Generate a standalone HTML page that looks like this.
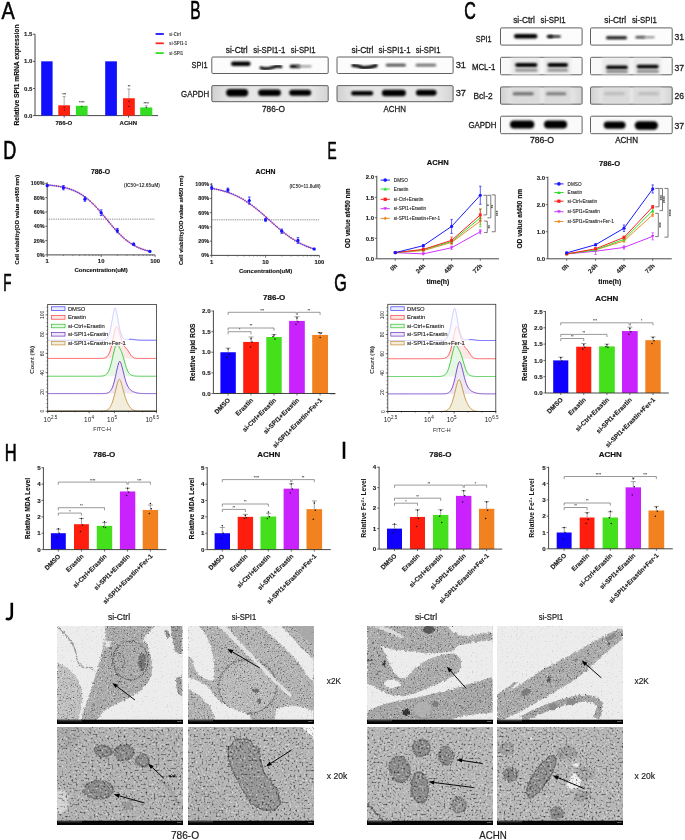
<!DOCTYPE html>
<html><head><meta charset="utf-8"><style>
html,body{margin:0;padding:0;background:#fff;width:685px;height:840px;overflow:hidden}
svg{display:block;will-change:transform;font-family:"Liberation Sans",sans-serif}
</style></head><body>
<svg width="685" height="840" viewBox="0 0 685 840">
<defs>
<filter id="blur1" x="-20%" y="-50%" width="140%" height="200%"><feGaussianBlur stdDeviation="0.8"/></filter>
<filter id="blur2" x="-20%" y="-50%" width="140%" height="200%"><feGaussianBlur stdDeviation="1.3"/></filter>
<filter id="rough" x="-5%" y="-5%" width="110%" height="110%"><feTurbulence type="fractalNoise" baseFrequency="0.09" numOctaves="2" seed="9" result="t"/><feDisplacementMap in="SourceGraphic" in2="t" scale="18" xChannelSelector="R" yChannelSelector="G"/></filter>
<filter id="soft" x="-5%" y="-5%" width="110%" height="110%"><feTurbulence type="fractalNoise" baseFrequency="0.04" numOctaves="2" seed="4" result="t"/><feDisplacementMap in="SourceGraphic" in2="t" scale="16" xChannelSelector="R" yChannelSelector="G" result="d"/><feGaussianBlur in="d" stdDeviation="3"/></filter>
<filter id="n2fd1" x="0" y="0" width="100%" height="100%" color-interpolation-filters="sRGB"><feTurbulence type="fractalNoise" baseFrequency="0.7" numOctaves="2" seed="11"/><feColorMatrix type="matrix" values="0 0 0 0 0 0 0 0 0 0 0 0 0 0 0 -2.0 0 0 0 0.86"/></filter>
<filter id="n2fl1" x="0" y="0" width="100%" height="100%" color-interpolation-filters="sRGB"><feTurbulence type="fractalNoise" baseFrequency="0.7" numOctaves="2" seed="41"/><feColorMatrix type="matrix" values="0 0 0 0 1 0 0 0 0 1 0 0 0 0 1 1.6 0 0 0 -0.86"/></filter>
<filter id="n2fd2" x="0" y="0" width="100%" height="100%" color-interpolation-filters="sRGB"><feTurbulence type="fractalNoise" baseFrequency="0.7" numOctaves="2" seed="12"/><feColorMatrix type="matrix" values="0 0 0 0 0 0 0 0 0 0 0 0 0 0 0 -2.0 0 0 0 0.86"/></filter>
<filter id="n2fl2" x="0" y="0" width="100%" height="100%" color-interpolation-filters="sRGB"><feTurbulence type="fractalNoise" baseFrequency="0.7" numOctaves="2" seed="42"/><feColorMatrix type="matrix" values="0 0 0 0 1 0 0 0 0 1 0 0 0 0 1 1.6 0 0 0 -0.86"/></filter>
<filter id="n2fd3" x="0" y="0" width="100%" height="100%" color-interpolation-filters="sRGB"><feTurbulence type="fractalNoise" baseFrequency="0.7" numOctaves="2" seed="13"/><feColorMatrix type="matrix" values="0 0 0 0 0 0 0 0 0 0 0 0 0 0 0 -2.0 0 0 0 0.86"/></filter>
<filter id="n2fl3" x="0" y="0" width="100%" height="100%" color-interpolation-filters="sRGB"><feTurbulence type="fractalNoise" baseFrequency="0.7" numOctaves="2" seed="43"/><feColorMatrix type="matrix" values="0 0 0 0 1 0 0 0 0 1 0 0 0 0 1 1.6 0 0 0 -0.86"/></filter>
<filter id="n2fd4" x="0" y="0" width="100%" height="100%" color-interpolation-filters="sRGB"><feTurbulence type="fractalNoise" baseFrequency="0.7" numOctaves="2" seed="14"/><feColorMatrix type="matrix" values="0 0 0 0 0 0 0 0 0 0 0 0 0 0 0 -2.0 0 0 0 0.86"/></filter>
<filter id="n2fl4" x="0" y="0" width="100%" height="100%" color-interpolation-filters="sRGB"><feTurbulence type="fractalNoise" baseFrequency="0.7" numOctaves="2" seed="44"/><feColorMatrix type="matrix" values="0 0 0 0 1 0 0 0 0 1 0 0 0 0 1 1.6 0 0 0 -0.86"/></filter>
<filter id="n2fd5" x="0" y="0" width="100%" height="100%" color-interpolation-filters="sRGB"><feTurbulence type="fractalNoise" baseFrequency="0.7" numOctaves="2" seed="15"/><feColorMatrix type="matrix" values="0 0 0 0 0 0 0 0 0 0 0 0 0 0 0 -2.0 0 0 0 0.86"/></filter>
<filter id="n2fl5" x="0" y="0" width="100%" height="100%" color-interpolation-filters="sRGB"><feTurbulence type="fractalNoise" baseFrequency="0.7" numOctaves="2" seed="45"/><feColorMatrix type="matrix" values="0 0 0 0 1 0 0 0 0 1 0 0 0 0 1 1.6 0 0 0 -0.86"/></filter>
<filter id="n2fd6" x="0" y="0" width="100%" height="100%" color-interpolation-filters="sRGB"><feTurbulence type="fractalNoise" baseFrequency="0.7" numOctaves="2" seed="16"/><feColorMatrix type="matrix" values="0 0 0 0 0 0 0 0 0 0 0 0 0 0 0 -2.0 0 0 0 0.86"/></filter>
<filter id="n2fl6" x="0" y="0" width="100%" height="100%" color-interpolation-filters="sRGB"><feTurbulence type="fractalNoise" baseFrequency="0.7" numOctaves="2" seed="46"/><feColorMatrix type="matrix" values="0 0 0 0 1 0 0 0 0 1 0 0 0 0 1 1.6 0 0 0 -0.86"/></filter>
<filter id="n2fd7" x="0" y="0" width="100%" height="100%" color-interpolation-filters="sRGB"><feTurbulence type="fractalNoise" baseFrequency="0.7" numOctaves="2" seed="17"/><feColorMatrix type="matrix" values="0 0 0 0 0 0 0 0 0 0 0 0 0 0 0 -2.0 0 0 0 0.86"/></filter>
<filter id="n2fl7" x="0" y="0" width="100%" height="100%" color-interpolation-filters="sRGB"><feTurbulence type="fractalNoise" baseFrequency="0.7" numOctaves="2" seed="47"/><feColorMatrix type="matrix" values="0 0 0 0 1 0 0 0 0 1 0 0 0 0 1 1.6 0 0 0 -0.86"/></filter>
<filter id="n2fd8" x="0" y="0" width="100%" height="100%" color-interpolation-filters="sRGB"><feTurbulence type="fractalNoise" baseFrequency="0.7" numOctaves="2" seed="18"/><feColorMatrix type="matrix" values="0 0 0 0 0 0 0 0 0 0 0 0 0 0 0 -2.0 0 0 0 0.86"/></filter>
<filter id="n2fl8" x="0" y="0" width="100%" height="100%" color-interpolation-filters="sRGB"><feTurbulence type="fractalNoise" baseFrequency="0.7" numOctaves="2" seed="48"/><feColorMatrix type="matrix" values="0 0 0 0 1 0 0 0 0 1 0 0 0 0 1 1.6 0 0 0 -0.86"/></filter>
<filter id="n2bd1" x="0" y="0" width="100%" height="100%" color-interpolation-filters="sRGB"><feTurbulence type="fractalNoise" baseFrequency="0.8" numOctaves="1" seed="1"/><feColorMatrix type="matrix" values="0 0 0 0 0 0 0 0 0 0 0 0 0 0 0 -0.8 0 0 0 0.3"/></filter>
<filter id="n2bl1" x="0" y="0" width="100%" height="100%" color-interpolation-filters="sRGB"><feTurbulence type="fractalNoise" baseFrequency="0.8" numOctaves="1" seed="31"/><feColorMatrix type="matrix" values="0 0 0 0 1 0 0 0 0 1 0 0 0 0 1 0.8 0 0 0 -0.45"/></filter>
<filter id="n2bd2" x="0" y="0" width="100%" height="100%" color-interpolation-filters="sRGB"><feTurbulence type="fractalNoise" baseFrequency="0.8" numOctaves="1" seed="2"/><feColorMatrix type="matrix" values="0 0 0 0 0 0 0 0 0 0 0 0 0 0 0 -0.8 0 0 0 0.3"/></filter>
<filter id="n2bl2" x="0" y="0" width="100%" height="100%" color-interpolation-filters="sRGB"><feTurbulence type="fractalNoise" baseFrequency="0.8" numOctaves="1" seed="32"/><feColorMatrix type="matrix" values="0 0 0 0 1 0 0 0 0 1 0 0 0 0 1 0.8 0 0 0 -0.45"/></filter>
<filter id="n2bd3" x="0" y="0" width="100%" height="100%" color-interpolation-filters="sRGB"><feTurbulence type="fractalNoise" baseFrequency="0.8" numOctaves="1" seed="3"/><feColorMatrix type="matrix" values="0 0 0 0 0 0 0 0 0 0 0 0 0 0 0 -0.8 0 0 0 0.3"/></filter>
<filter id="n2bl3" x="0" y="0" width="100%" height="100%" color-interpolation-filters="sRGB"><feTurbulence type="fractalNoise" baseFrequency="0.8" numOctaves="1" seed="33"/><feColorMatrix type="matrix" values="0 0 0 0 1 0 0 0 0 1 0 0 0 0 1 0.8 0 0 0 -0.45"/></filter>
<filter id="n2bd4" x="0" y="0" width="100%" height="100%" color-interpolation-filters="sRGB"><feTurbulence type="fractalNoise" baseFrequency="0.8" numOctaves="1" seed="4"/><feColorMatrix type="matrix" values="0 0 0 0 0 0 0 0 0 0 0 0 0 0 0 -0.8 0 0 0 0.3"/></filter>
<filter id="n2bl4" x="0" y="0" width="100%" height="100%" color-interpolation-filters="sRGB"><feTurbulence type="fractalNoise" baseFrequency="0.8" numOctaves="1" seed="34"/><feColorMatrix type="matrix" values="0 0 0 0 1 0 0 0 0 1 0 0 0 0 1 0.8 0 0 0 -0.45"/></filter>
<filter id="n2bd5" x="0" y="0" width="100%" height="100%" color-interpolation-filters="sRGB"><feTurbulence type="fractalNoise" baseFrequency="0.8" numOctaves="1" seed="5"/><feColorMatrix type="matrix" values="0 0 0 0 0 0 0 0 0 0 0 0 0 0 0 -0.8 0 0 0 0.3"/></filter>
<filter id="n2bl5" x="0" y="0" width="100%" height="100%" color-interpolation-filters="sRGB"><feTurbulence type="fractalNoise" baseFrequency="0.8" numOctaves="1" seed="35"/><feColorMatrix type="matrix" values="0 0 0 0 1 0 0 0 0 1 0 0 0 0 1 0.8 0 0 0 -0.45"/></filter>
<filter id="n2bd6" x="0" y="0" width="100%" height="100%" color-interpolation-filters="sRGB"><feTurbulence type="fractalNoise" baseFrequency="0.8" numOctaves="1" seed="6"/><feColorMatrix type="matrix" values="0 0 0 0 0 0 0 0 0 0 0 0 0 0 0 -0.8 0 0 0 0.3"/></filter>
<filter id="n2bl6" x="0" y="0" width="100%" height="100%" color-interpolation-filters="sRGB"><feTurbulence type="fractalNoise" baseFrequency="0.8" numOctaves="1" seed="36"/><feColorMatrix type="matrix" values="0 0 0 0 1 0 0 0 0 1 0 0 0 0 1 0.8 0 0 0 -0.45"/></filter>
<filter id="n2bd7" x="0" y="0" width="100%" height="100%" color-interpolation-filters="sRGB"><feTurbulence type="fractalNoise" baseFrequency="0.8" numOctaves="1" seed="7"/><feColorMatrix type="matrix" values="0 0 0 0 0 0 0 0 0 0 0 0 0 0 0 -0.8 0 0 0 0.3"/></filter>
<filter id="n2bl7" x="0" y="0" width="100%" height="100%" color-interpolation-filters="sRGB"><feTurbulence type="fractalNoise" baseFrequency="0.8" numOctaves="1" seed="37"/><feColorMatrix type="matrix" values="0 0 0 0 1 0 0 0 0 1 0 0 0 0 1 0.8 0 0 0 -0.45"/></filter>
<filter id="n2bd8" x="0" y="0" width="100%" height="100%" color-interpolation-filters="sRGB"><feTurbulence type="fractalNoise" baseFrequency="0.8" numOctaves="1" seed="8"/><feColorMatrix type="matrix" values="0 0 0 0 0 0 0 0 0 0 0 0 0 0 0 -0.8 0 0 0 0.3"/></filter>
<filter id="n2bl8" x="0" y="0" width="100%" height="100%" color-interpolation-filters="sRGB"><feTurbulence type="fractalNoise" baseFrequency="0.8" numOctaves="1" seed="38"/><feColorMatrix type="matrix" values="0 0 0 0 1 0 0 0 0 1 0 0 0 0 1 0.8 0 0 0 -0.45"/></filter>
<filter id="n20d1" x="0" y="0" width="100%" height="100%" color-interpolation-filters="sRGB"><feTurbulence type="fractalNoise" baseFrequency="0.5" numOctaves="3" seed="21"/><feColorMatrix type="matrix" values="0 0 0 0 0 0 0 0 0 0 0 0 0 0 0 -2.4 0 0 0 1.08"/></filter>
<filter id="n20l1" x="0" y="0" width="100%" height="100%" color-interpolation-filters="sRGB"><feTurbulence type="fractalNoise" baseFrequency="0.5" numOctaves="3" seed="51"/><feColorMatrix type="matrix" values="0 0 0 0 1 0 0 0 0 1 0 0 0 0 1 1.8 0 0 0 -0.95"/></filter>
<filter id="n20d2" x="0" y="0" width="100%" height="100%" color-interpolation-filters="sRGB"><feTurbulence type="fractalNoise" baseFrequency="0.5" numOctaves="3" seed="22"/><feColorMatrix type="matrix" values="0 0 0 0 0 0 0 0 0 0 0 0 0 0 0 -2.4 0 0 0 1.08"/></filter>
<filter id="n20l2" x="0" y="0" width="100%" height="100%" color-interpolation-filters="sRGB"><feTurbulence type="fractalNoise" baseFrequency="0.5" numOctaves="3" seed="52"/><feColorMatrix type="matrix" values="0 0 0 0 1 0 0 0 0 1 0 0 0 0 1 1.8 0 0 0 -0.95"/></filter>
<filter id="n20d3" x="0" y="0" width="100%" height="100%" color-interpolation-filters="sRGB"><feTurbulence type="fractalNoise" baseFrequency="0.5" numOctaves="3" seed="23"/><feColorMatrix type="matrix" values="0 0 0 0 0 0 0 0 0 0 0 0 0 0 0 -2.4 0 0 0 1.08"/></filter>
<filter id="n20l3" x="0" y="0" width="100%" height="100%" color-interpolation-filters="sRGB"><feTurbulence type="fractalNoise" baseFrequency="0.5" numOctaves="3" seed="53"/><feColorMatrix type="matrix" values="0 0 0 0 1 0 0 0 0 1 0 0 0 0 1 1.8 0 0 0 -0.95"/></filter>
<filter id="n20d4" x="0" y="0" width="100%" height="100%" color-interpolation-filters="sRGB"><feTurbulence type="fractalNoise" baseFrequency="0.5" numOctaves="3" seed="24"/><feColorMatrix type="matrix" values="0 0 0 0 0 0 0 0 0 0 0 0 0 0 0 -2.4 0 0 0 1.08"/></filter>
<filter id="n20l4" x="0" y="0" width="100%" height="100%" color-interpolation-filters="sRGB"><feTurbulence type="fractalNoise" baseFrequency="0.5" numOctaves="3" seed="54"/><feColorMatrix type="matrix" values="0 0 0 0 1 0 0 0 0 1 0 0 0 0 1 1.8 0 0 0 -0.95"/></filter>
<filter id="n20d5" x="0" y="0" width="100%" height="100%" color-interpolation-filters="sRGB"><feTurbulence type="fractalNoise" baseFrequency="0.5" numOctaves="3" seed="25"/><feColorMatrix type="matrix" values="0 0 0 0 0 0 0 0 0 0 0 0 0 0 0 -2.4 0 0 0 1.08"/></filter>
<filter id="n20l5" x="0" y="0" width="100%" height="100%" color-interpolation-filters="sRGB"><feTurbulence type="fractalNoise" baseFrequency="0.5" numOctaves="3" seed="55"/><feColorMatrix type="matrix" values="0 0 0 0 1 0 0 0 0 1 0 0 0 0 1 1.8 0 0 0 -0.95"/></filter>
<filter id="n20d6" x="0" y="0" width="100%" height="100%" color-interpolation-filters="sRGB"><feTurbulence type="fractalNoise" baseFrequency="0.5" numOctaves="3" seed="26"/><feColorMatrix type="matrix" values="0 0 0 0 0 0 0 0 0 0 0 0 0 0 0 -2.4 0 0 0 1.08"/></filter>
<filter id="n20l6" x="0" y="0" width="100%" height="100%" color-interpolation-filters="sRGB"><feTurbulence type="fractalNoise" baseFrequency="0.5" numOctaves="3" seed="56"/><feColorMatrix type="matrix" values="0 0 0 0 1 0 0 0 0 1 0 0 0 0 1 1.8 0 0 0 -0.95"/></filter>
<filter id="n20d7" x="0" y="0" width="100%" height="100%" color-interpolation-filters="sRGB"><feTurbulence type="fractalNoise" baseFrequency="0.5" numOctaves="3" seed="27"/><feColorMatrix type="matrix" values="0 0 0 0 0 0 0 0 0 0 0 0 0 0 0 -2.4 0 0 0 1.08"/></filter>
<filter id="n20l7" x="0" y="0" width="100%" height="100%" color-interpolation-filters="sRGB"><feTurbulence type="fractalNoise" baseFrequency="0.5" numOctaves="3" seed="57"/><feColorMatrix type="matrix" values="0 0 0 0 1 0 0 0 0 1 0 0 0 0 1 1.8 0 0 0 -0.95"/></filter>
<filter id="n20d8" x="0" y="0" width="100%" height="100%" color-interpolation-filters="sRGB"><feTurbulence type="fractalNoise" baseFrequency="0.5" numOctaves="3" seed="28"/><feColorMatrix type="matrix" values="0 0 0 0 0 0 0 0 0 0 0 0 0 0 0 -2.4 0 0 0 1.08"/></filter>
<filter id="n20l8" x="0" y="0" width="100%" height="100%" color-interpolation-filters="sRGB"><feTurbulence type="fractalNoise" baseFrequency="0.5" numOctaves="3" seed="58"/><feColorMatrix type="matrix" values="0 0 0 0 1 0 0 0 0 1 0 0 0 0 1 1.8 0 0 0 -0.95"/></filter>
</defs>
<text transform="translate(1.375 19.425) scale(0.01987 0.02464)" font-size="1000" fill="#000" stroke="#000" stroke-width="24.7" stroke-linejoin="round">A</text>
<text transform="translate(190.175 18.525) scale(0.01552 0.02493)" font-size="1000" fill="#000" stroke="#000" stroke-width="27.2" stroke-linejoin="round">B</text>
<text transform="translate(464.175 18.529) scale(0.01600 0.02458)" font-size="1000" fill="#000" stroke="#000" stroke-width="27.1" stroke-linejoin="round">C</text>
<text transform="translate(3.275 159.225) scale(0.01807 0.02507)" font-size="1000" fill="#000" stroke="#000" stroke-width="25.5" stroke-linejoin="round">D</text>
<text transform="translate(327.475 158.725) scale(0.01372 0.02406)" font-size="1000" fill="#000" stroke="#000" stroke-width="29.1" stroke-linejoin="round">E</text>
<text transform="translate(3.275 290.525) scale(0.01350 0.02376)" font-size="1000" fill="#000" stroke="#000" stroke-width="29.5" stroke-linejoin="round">F</text>
<text transform="translate(334.275 290.981) scale(0.01613 0.02436)" font-size="1000" fill="#000" stroke="#000" stroke-width="27.2" stroke-linejoin="round">G</text>
<text transform="translate(4.675 460.525) scale(0.01655 0.02435)" font-size="1000" fill="#000" stroke="#000" stroke-width="26.9" stroke-linejoin="round">H</text>
<path d="M11.8,602.8 V614.8 C11.8,618.4 10.4,619.1 8.6,619.1 C7.5,619.1 6.7,618.8 6.0,618.2" fill="none" stroke="#000" stroke-width="2.6"/>
<rect x="342.70" y="441.70" width="2.60" height="17.10" fill="#000" />
<line x1="35.00" y1="34.20" x2="35.00" y2="115.60" stroke="#333" stroke-width="0.9" />
<line x1="35.00" y1="115.60" x2="158.00" y2="115.60" stroke="#333" stroke-width="0.9" />
<line x1="33.00" y1="115.60" x2="35.00" y2="115.60" stroke="#333" stroke-width="0.8" />
<text x="32.40" y="117.70" font-size="6.0" text-anchor="end" fill="#222" font-weight="bold" stroke="#222" stroke-width="0.132" >0.0</text>
<line x1="33.00" y1="88.47" x2="35.00" y2="88.47" stroke="#333" stroke-width="0.8" />
<text x="32.40" y="90.57" font-size="6.0" text-anchor="end" fill="#222" font-weight="bold" stroke="#222" stroke-width="0.132" >0.5</text>
<line x1="33.00" y1="61.33" x2="35.00" y2="61.33" stroke="#333" stroke-width="0.8" />
<text x="32.40" y="63.43" font-size="6.0" text-anchor="end" fill="#222" font-weight="bold" stroke="#222" stroke-width="0.132" >1.0</text>
<line x1="33.00" y1="34.20" x2="35.00" y2="34.20" stroke="#333" stroke-width="0.8" />
<text x="32.40" y="36.30" font-size="6.0" text-anchor="end" fill="#222" font-weight="bold" stroke="#222" stroke-width="0.132" >1.5</text>
<rect x="41.20" y="61.33" width="11.40" height="54.27" fill="#1010ff" />
<rect x="58.30" y="105.29" width="11.70" height="10.31" fill="#ff2010" />
<line x1="64.15" y1="105.29" x2="64.15" y2="96.61" stroke="#555" stroke-width="0.5" />
<line x1="62.65" y1="96.61" x2="65.65" y2="96.61" stroke="#555" stroke-width="0.5" />
<rect x="75.90" y="105.83" width="11.70" height="9.77" fill="#33dd22" />
<rect x="105.20" y="61.33" width="11.70" height="54.27" fill="#1010ff" />
<rect x="123.00" y="98.23" width="11.80" height="17.37" fill="#ff2010" />
<line x1="128.90" y1="98.23" x2="128.90" y2="89.01" stroke="#555" stroke-width="0.5" />
<line x1="127.40" y1="89.01" x2="130.40" y2="89.01" stroke="#555" stroke-width="0.5" />
<rect x="140.20" y="107.46" width="12.10" height="8.14" fill="#33dd22" />
<line x1="146.25" y1="107.46" x2="146.25" y2="105.83" stroke="#555" stroke-width="0.5" />
<line x1="144.75" y1="105.83" x2="147.75" y2="105.83" stroke="#555" stroke-width="0.5" />
<text x="64.20" y="95.61" font-size="3.5" text-anchor="middle" fill="#333" font-weight="bold" >***</text>
<text x="81.80" y="103.55" font-size="3.5" text-anchor="middle" fill="#333" font-weight="bold" >****</text>
<text x="129.00" y="88.01" font-size="3.5" text-anchor="middle" fill="#333" font-weight="bold" >**</text>
<text x="146.20" y="104.63" font-size="3.5" text-anchor="middle" fill="#333" font-weight="bold" >****</text>
<line x1="64.20" y1="115.60" x2="64.20" y2="117.60" stroke="#333" stroke-width="0.8" />
<line x1="128.50" y1="115.60" x2="128.50" y2="117.60" stroke="#333" stroke-width="0.8" />
<circle cx="64.2" cy="107.3" r="0.6" fill="#111"/>
<circle cx="64.4" cy="110.0" r="0.6" fill="#111"/>
<circle cx="81.8" cy="106.3" r="0.6" fill="#111"/>
<circle cx="129" cy="101.2" r="0.6" fill="#111"/>
<circle cx="129" cy="106.4" r="0.6" fill="#111"/>
<circle cx="146.2" cy="107.6" r="0.6" fill="#111"/>
<text x="63.90" y="124.70" font-size="6.0" text-anchor="middle" fill="#111" font-weight="bold" stroke="#111" stroke-width="0.132" textLength="16.80" lengthAdjust="spacingAndGlyphs" >786-O</text>
<text x="128.30" y="124.70" font-size="6.0" text-anchor="middle" fill="#111" font-weight="bold" stroke="#111" stroke-width="0.132" textLength="17.40" lengthAdjust="spacingAndGlyphs" >ACHN</text>
<text x="19.00" y="75.00" font-size="6.3" text-anchor="middle" fill="#111" font-weight="bold" stroke="#111" stroke-width="0.139" textLength="101.00" lengthAdjust="spacingAndGlyphs" transform="rotate(-90 19.00 75.00)" >Relative SPI1 mRNA expression</text>
<line x1="155.60" y1="34.00" x2="163.80" y2="34.00" stroke="#1010ff" stroke-width="1.75" />
<text x="169.00" y="35.90" font-size="4.5" text-anchor="start" fill="#333" font-weight="bold" textLength="12.00" lengthAdjust="spacingAndGlyphs" >si-Ctrl</text>
<line x1="155.60" y1="43.30" x2="163.80" y2="43.30" stroke="#ff2020" stroke-width="1.75" />
<text x="169.00" y="45.20" font-size="4.5" text-anchor="start" fill="#333" font-weight="bold" textLength="18.10" lengthAdjust="spacingAndGlyphs" >si-SPI1-1</text>
<line x1="155.60" y1="53.10" x2="163.80" y2="53.10" stroke="#33dd22" stroke-width="1.75" />
<text x="169.00" y="55.00" font-size="4.5" text-anchor="start" fill="#333" font-weight="bold" textLength="14.00" lengthAdjust="spacingAndGlyphs" >si-SPI1</text>
<rect x="211.80" y="57.00" width="116.40" height="16.50" rx="1.2" fill="#fcfcfc" stroke="#5a5a5a" stroke-width="0.95"/>
<linearGradient id="vg211_85" x1="0" y1="0" x2="1" y2="0"><stop offset="0" stop-color="#d0d0d0"/><stop offset="0.15" stop-color="#e6e6e6"/><stop offset="0.85" stop-color="#e8e8e8"/><stop offset="1" stop-color="#d4d4d4"/></linearGradient>
<rect x="211.80" y="85.60" width="116.40" height="16.10" rx="1.2" fill="url(#vg211_85)" stroke="#5a5a5a" stroke-width="0.95"/>
<rect x="337.00" y="57.00" width="116.10" height="16.50" rx="1.2" fill="#fcfcfc" stroke="#5a5a5a" stroke-width="0.95"/>
<linearGradient id="vg336_85" x1="0" y1="0" x2="1" y2="0"><stop offset="0" stop-color="#d0d0d0"/><stop offset="0.15" stop-color="#e6e6e6"/><stop offset="0.85" stop-color="#e8e8e8"/><stop offset="1" stop-color="#d4d4d4"/></linearGradient>
<rect x="337.00" y="85.60" width="116.10" height="16.10" rx="1.2" fill="url(#vg336_85)" stroke="#5a5a5a" stroke-width="0.95"/>
<rect x="231.00" y="61.50" width="19.60" height="4.60" rx="2.30" fill="#000" opacity="1.0" filter="url(#blur1)"/>
<path d="M261,67.8 Q266,69.6 272,67.6 T281,66.6" fill="none" stroke="#000" stroke-width="3.0" stroke-linecap="round" filter="url(#blur1)"/>
<rect x="289.70" y="64.80" width="10.80" height="3.20" rx="1.60" fill="#000" opacity="1.0" filter="url(#blur1)"/>
<rect x="296.00" y="65.30" width="15.60" height="2.20" rx="1.10" fill="#9a9a9a" opacity="1.0" filter="url(#blur1)"/>
<rect x="226.10" y="89.00" width="22.10" height="7.40" rx="3.70" fill="#000" opacity="1.0" filter="url(#blur1)"/>
<rect x="258.20" y="89.50" width="22.70" height="6.40" rx="3.20" fill="#000" opacity="1.0" filter="url(#blur1)"/>
<rect x="289.20" y="89.70" width="22.00" height="6.00" rx="3.00" fill="#000" opacity="1.0" filter="url(#blur1)"/>
<path d="M353,65.4 Q358,65.6 362,67.4 Q368,68.4 376,65.6" fill="none" stroke="#000" stroke-width="3.4" stroke-linecap="round" filter="url(#blur1)"/>
<rect x="385.80" y="63.80" width="20.10" height="2.80" rx="1.40" fill="#4a4a4a" opacity="1.0" filter="url(#blur1)"/>
<rect x="415.60" y="63.80" width="20.60" height="2.80" rx="1.40" fill="#6a6a6a" opacity="1.0" filter="url(#blur1)"/>
<rect x="351.10" y="91.00" width="22.10" height="4.40" rx="2.20" fill="#000" opacity="1.0" filter="url(#blur1)"/>
<rect x="381.90" y="89.80" width="24.00" height="6.40" rx="3.20" fill="#000" opacity="1.0" filter="url(#blur1)"/>
<rect x="415.90" y="89.80" width="20.70" height="6.00" rx="3.00" fill="#000" opacity="1.0" filter="url(#blur1)"/>
<text x="191.60" y="68.20" font-size="8.64" text-anchor="start" fill="#1a1a1a" textLength="16.00" lengthAdjust="spacingAndGlyphs" stroke="#1a1a1a" stroke-width="0.28">SPI1</text>
<text x="181.00" y="96.50" font-size="9.05" text-anchor="start" fill="#1a1a1a" textLength="28.20" lengthAdjust="spacingAndGlyphs" stroke="#1a1a1a" stroke-width="0.28">GAPDH</text>
<text x="225.80" y="53.40" font-size="8.64" text-anchor="start" fill="#1a1a1a" textLength="21.90" lengthAdjust="spacingAndGlyphs" stroke="#1a1a1a" stroke-width="0.28">si-Ctrl</text>
<text x="253.30" y="53.40" font-size="8.64" text-anchor="start" fill="#1a1a1a" textLength="32.10" lengthAdjust="spacingAndGlyphs" stroke="#1a1a1a" stroke-width="0.28">si-SPI1-1</text>
<text x="290.80" y="53.40" font-size="8.64" text-anchor="start" fill="#1a1a1a" textLength="24.80" lengthAdjust="spacingAndGlyphs" stroke="#1a1a1a" stroke-width="0.28">si-SPI1</text>
<text x="351.50" y="53.40" font-size="8.64" text-anchor="start" fill="#1a1a1a" textLength="21.80" lengthAdjust="spacingAndGlyphs" stroke="#1a1a1a" stroke-width="0.28">si-Ctrl</text>
<text x="378.60" y="53.40" font-size="8.64" text-anchor="start" fill="#1a1a1a" textLength="32.10" lengthAdjust="spacingAndGlyphs" stroke="#1a1a1a" stroke-width="0.28">si-SPI1-1</text>
<text x="415.80" y="53.40" font-size="8.64" text-anchor="start" fill="#1a1a1a" textLength="24.60" lengthAdjust="spacingAndGlyphs" stroke="#1a1a1a" stroke-width="0.28">si-SPI1</text>
<text x="455.70" y="68.00" font-size="9.05" text-anchor="start" fill="#1a1a1a" textLength="10.30" lengthAdjust="spacingAndGlyphs" stroke="#1a1a1a" stroke-width="0.28">31</text>
<text x="455.70" y="95.60" font-size="9.05" text-anchor="start" fill="#1a1a1a" textLength="10.30" lengthAdjust="spacingAndGlyphs" stroke="#1a1a1a" stroke-width="0.28">37</text>
<text x="261.90" y="112.00" font-size="9.47" text-anchor="start" fill="#1a1a1a" textLength="23.20" lengthAdjust="spacingAndGlyphs" stroke="#1a1a1a" stroke-width="0.28">786-O</text>
<text x="383.50" y="112.00" font-size="9.47" text-anchor="start" fill="#1a1a1a" textLength="22.50" lengthAdjust="spacingAndGlyphs" stroke="#1a1a1a" stroke-width="0.28">ACHN</text>
<rect x="500.50" y="27.90" width="81.60" height="17.20" rx="1.2" fill="#fcfcfc" stroke="#5a5a5a" stroke-width="0.95"/>
<rect x="500.50" y="57.30" width="81.60" height="17.50" rx="1.2" fill="#f8f8f8" stroke="#5a5a5a" stroke-width="0.95"/>
<linearGradient id="vg500_86" x1="0" y1="0" x2="1" y2="0"><stop offset="0" stop-color="#d0d0d0"/><stop offset="0.15" stop-color="#e6e6e6"/><stop offset="0.85" stop-color="#e8e8e8"/><stop offset="1" stop-color="#d4d4d4"/></linearGradient>
<rect x="500.50" y="86.90" width="81.60" height="17.30" rx="1.2" fill="url(#vg500_86)" stroke="#5a5a5a" stroke-width="0.95"/>
<rect x="500.50" y="116.20" width="81.60" height="17.50" rx="1.2" fill="#fafafa" stroke="#5a5a5a" stroke-width="0.95"/>
<rect x="590.50" y="27.90" width="81.70" height="17.20" rx="1.2" fill="#fcfcfc" stroke="#5a5a5a" stroke-width="0.95"/>
<rect x="590.50" y="57.30" width="81.70" height="17.50" rx="1.2" fill="#f8f8f8" stroke="#5a5a5a" stroke-width="0.95"/>
<linearGradient id="vg590_86" x1="0" y1="0" x2="1" y2="0"><stop offset="0" stop-color="#d0d0d0"/><stop offset="0.15" stop-color="#e6e6e6"/><stop offset="0.85" stop-color="#e8e8e8"/><stop offset="1" stop-color="#d4d4d4"/></linearGradient>
<rect x="590.50" y="86.90" width="81.70" height="17.30" rx="1.2" fill="url(#vg590_86)" stroke="#5a5a5a" stroke-width="0.95"/>
<rect x="590.50" y="116.20" width="81.70" height="17.50" rx="1.2" fill="#fafafa" stroke="#5a5a5a" stroke-width="0.95"/>
<rect x="511.00" y="57.60" width="29.00" height="17.00" fill="#e9e9e9" filter="url(#blur2)" opacity="0.9"/>
<rect x="511.00" y="87.40" width="29.00" height="16.40" fill="#d9d9d9" filter="url(#blur2)" opacity="0.8"/>
<rect x="544.00" y="57.60" width="27.00" height="17.00" fill="#e9e9e9" filter="url(#blur2)" opacity="0.9"/>
<rect x="544.00" y="87.40" width="27.00" height="16.40" fill="#d9d9d9" filter="url(#blur2)" opacity="0.8"/>
<rect x="602.00" y="57.60" width="28.00" height="17.00" fill="#e9e9e9" filter="url(#blur2)" opacity="0.9"/>
<rect x="602.00" y="87.40" width="28.00" height="16.40" fill="#d9d9d9" filter="url(#blur2)" opacity="0.8"/>
<rect x="633.00" y="57.60" width="28.00" height="17.00" fill="#e9e9e9" filter="url(#blur2)" opacity="0.9"/>
<rect x="633.00" y="87.40" width="28.00" height="16.40" fill="#d9d9d9" filter="url(#blur2)" opacity="0.8"/>
<rect x="514.00" y="34.05" width="23.40" height="4.50" rx="2.25" fill="#000" opacity="1.0" filter="url(#blur1)"/>
<rect x="546.70" y="34.90" width="6.30" height="3.20" rx="1.60" fill="#000" opacity="1.0" filter="url(#blur1)"/>
<rect x="549.00" y="35.30" width="11.70" height="2.40" rx="1.20" fill="#222" opacity="1.0" filter="url(#blur1)"/>
<rect x="515.10" y="62.90" width="22.30" height="4.20" rx="2.10" fill="#000" opacity="1.0" filter="url(#blur1)"/>
<rect x="515.10" y="68.80" width="22.30" height="2.80" rx="1.40" fill="#8c8c8c" opacity="1.0" filter="url(#blur1)"/>
<rect x="547.40" y="63.00" width="20.60" height="4.00" rx="2.00" fill="#000" opacity="1.0" filter="url(#blur1)"/>
<rect x="547.40" y="68.80" width="20.60" height="2.80" rx="1.40" fill="#8c8c8c" opacity="1.0" filter="url(#blur1)"/>
<rect x="512.70" y="92.20" width="21.10" height="3.00" rx="1.50" fill="#6a6a6a" opacity="1.0" filter="url(#blur1)"/>
<rect x="546.00" y="92.20" width="20.30" height="3.00" rx="1.50" fill="#7a7a7a" opacity="1.0" filter="url(#blur1)"/>
<rect x="510.00" y="120.40" width="24.30" height="8.00" rx="4.00" fill="#000" opacity="1.0" filter="url(#blur1)"/>
<rect x="544.00" y="120.50" width="23.10" height="8.00" rx="4.00" fill="#000" opacity="1.0" filter="url(#blur1)"/>
<rect x="606.00" y="36.20" width="21.00" height="3.00" rx="1.50" fill="#0a0a0a" opacity="1.0" filter="url(#blur1)"/>
<rect x="635.40" y="35.90" width="9.60" height="2.60" rx="1.30" fill="#444" opacity="1.0" filter="url(#blur1)"/>
<rect x="642.00" y="36.20" width="12.70" height="2.00" rx="1.00" fill="#888" opacity="1.0" filter="url(#blur1)"/>
<rect x="606.00" y="65.60" width="21.80" height="3.60" rx="1.80" fill="#000" opacity="1.0" filter="url(#blur1)"/>
<rect x="606.00" y="70.10" width="21.80" height="3.00" rx="1.50" fill="#8a8a8a" opacity="1.0" filter="url(#blur1)"/>
<rect x="636.70" y="64.80" width="22.00" height="3.60" rx="1.80" fill="#000" opacity="1.0" filter="url(#blur1)"/>
<rect x="636.70" y="69.70" width="22.00" height="3.00" rx="1.50" fill="#8a8a8a" opacity="1.0" filter="url(#blur1)"/>
<rect x="604.00" y="92.10" width="21.00" height="3.20" rx="1.60" fill="#bdbdbd" opacity="1.0" filter="url(#blur2)"/>
<rect x="638.00" y="92.10" width="21.00" height="3.20" rx="1.60" fill="#bdbdbd" opacity="1.0" filter="url(#blur2)"/>
<rect x="603.70" y="121.40" width="21.90" height="7.40" rx="3.70" fill="#000" opacity="1.0" filter="url(#blur1)"/>
<rect x="634.70" y="121.30" width="23.30" height="8.40" rx="4.20" fill="#000" opacity="1.0" filter="url(#blur1)"/>
<text x="513.20" y="22.80" font-size="8.64" text-anchor="start" fill="#1a1a1a" textLength="21.70" lengthAdjust="spacingAndGlyphs" stroke="#1a1a1a" stroke-width="0.28">si-Ctrl</text>
<text x="540.50" y="22.80" font-size="8.64" text-anchor="start" fill="#1a1a1a" textLength="25.20" lengthAdjust="spacingAndGlyphs" stroke="#1a1a1a" stroke-width="0.28">si-SPI1</text>
<text x="604.30" y="22.80" font-size="8.64" text-anchor="start" fill="#1a1a1a" textLength="21.70" lengthAdjust="spacingAndGlyphs" stroke="#1a1a1a" stroke-width="0.28">si-Ctrl</text>
<text x="631.90" y="22.80" font-size="8.64" text-anchor="start" fill="#1a1a1a" textLength="25.00" lengthAdjust="spacingAndGlyphs" stroke="#1a1a1a" stroke-width="0.28">si-SPI1</text>
<text x="475.80" y="41.80" font-size="8.50" text-anchor="start" fill="#1a1a1a" textLength="15.80" lengthAdjust="spacingAndGlyphs" stroke="#1a1a1a" stroke-width="0.28">SPI1</text>
<text x="471.90" y="70.40" font-size="8.50" text-anchor="start" fill="#1a1a1a" textLength="23.50" lengthAdjust="spacingAndGlyphs" stroke="#1a1a1a" stroke-width="0.28">MCL-1</text>
<text x="473.50" y="99.30" font-size="8.64" text-anchor="start" fill="#1a1a1a" textLength="19.10" lengthAdjust="spacingAndGlyphs" stroke="#1a1a1a" stroke-width="0.28">Bcl-2</text>
<text x="468.40" y="127.60" font-size="8.23" text-anchor="start" fill="#1a1a1a" textLength="28.00" lengthAdjust="spacingAndGlyphs" stroke="#1a1a1a" stroke-width="0.28">GAPDH</text>
<text x="674.40" y="40.40" font-size="9.05" text-anchor="start" fill="#1a1a1a" textLength="9.60" lengthAdjust="spacingAndGlyphs" stroke="#1a1a1a" stroke-width="0.28">31</text>
<text x="674.40" y="71.40" font-size="9.05" text-anchor="start" fill="#1a1a1a" textLength="9.60" lengthAdjust="spacingAndGlyphs" stroke="#1a1a1a" stroke-width="0.28">37</text>
<text x="674.40" y="99.40" font-size="9.05" text-anchor="start" fill="#1a1a1a" textLength="9.60" lengthAdjust="spacingAndGlyphs" stroke="#1a1a1a" stroke-width="0.28">26</text>
<text x="674.40" y="129.40" font-size="9.05" text-anchor="start" fill="#1a1a1a" textLength="9.60" lengthAdjust="spacingAndGlyphs" stroke="#1a1a1a" stroke-width="0.28">37</text>
<text x="529.90" y="142.60" font-size="8.50" text-anchor="start" fill="#1a1a1a" textLength="24.10" lengthAdjust="spacingAndGlyphs" stroke="#1a1a1a" stroke-width="0.28">786-O</text>
<text x="615.20" y="142.60" font-size="8.50" text-anchor="start" fill="#1a1a1a" textLength="22.80" lengthAdjust="spacingAndGlyphs" stroke="#1a1a1a" stroke-width="0.28">ACHN</text>
<line x1="47.20" y1="182.40" x2="47.20" y2="254.90" stroke="#333" stroke-width="0.9" />
<line x1="47.20" y1="254.90" x2="155.10" y2="254.90" stroke="#333" stroke-width="0.9" />
<line x1="45.20" y1="254.90" x2="47.20" y2="254.90" stroke="#333" stroke-width="0.7" />
<text x="44.60" y="256.80" font-size="5.4" text-anchor="end" fill="#222" font-weight="bold" stroke="#222" stroke-width="0.119" >0%</text>
<line x1="45.20" y1="240.60" x2="47.20" y2="240.60" stroke="#333" stroke-width="0.7" />
<text x="44.60" y="242.50" font-size="5.4" text-anchor="end" fill="#222" font-weight="bold" stroke="#222" stroke-width="0.119" >20%</text>
<line x1="45.20" y1="226.30" x2="47.20" y2="226.30" stroke="#333" stroke-width="0.7" />
<text x="44.60" y="228.20" font-size="5.4" text-anchor="end" fill="#222" font-weight="bold" stroke="#222" stroke-width="0.119" >40%</text>
<line x1="45.20" y1="212.00" x2="47.20" y2="212.00" stroke="#333" stroke-width="0.7" />
<text x="44.60" y="213.90" font-size="5.4" text-anchor="end" fill="#222" font-weight="bold" stroke="#222" stroke-width="0.119" >60%</text>
<line x1="45.20" y1="197.70" x2="47.20" y2="197.70" stroke="#333" stroke-width="0.7" />
<text x="44.60" y="199.60" font-size="5.4" text-anchor="end" fill="#222" font-weight="bold" stroke="#222" stroke-width="0.119" >80%</text>
<line x1="45.20" y1="183.40" x2="47.20" y2="183.40" stroke="#333" stroke-width="0.7" />
<text x="44.60" y="185.30" font-size="5.4" text-anchor="end" fill="#222" font-weight="bold" stroke="#222" stroke-width="0.119" >100%</text>
<line x1="47.20" y1="254.90" x2="47.20" y2="257.10" stroke="#333" stroke-width="0.7" />
<text x="47.20" y="263.20" font-size="5.9" text-anchor="middle" fill="#222" font-weight="bold" stroke="#222" stroke-width="0.130" >1</text>
<line x1="101.15" y1="254.90" x2="101.15" y2="257.10" stroke="#333" stroke-width="0.7" />
<text x="101.15" y="263.20" font-size="5.9" text-anchor="middle" fill="#222" font-weight="bold" stroke="#222" stroke-width="0.130" >10</text>
<line x1="155.10" y1="254.90" x2="155.10" y2="257.10" stroke="#333" stroke-width="0.7" />
<text x="155.10" y="263.20" font-size="5.9" text-anchor="middle" fill="#222" font-weight="bold" stroke="#222" stroke-width="0.130" >100</text>
<line x1="63.44" y1="254.90" x2="63.44" y2="256.10" stroke="#333" stroke-width="0.5" />
<line x1="72.94" y1="254.90" x2="72.94" y2="256.10" stroke="#333" stroke-width="0.5" />
<line x1="79.68" y1="254.90" x2="79.68" y2="256.10" stroke="#333" stroke-width="0.5" />
<line x1="84.91" y1="254.90" x2="84.91" y2="256.10" stroke="#333" stroke-width="0.5" />
<line x1="89.18" y1="254.90" x2="89.18" y2="256.10" stroke="#333" stroke-width="0.5" />
<line x1="92.79" y1="254.90" x2="92.79" y2="256.10" stroke="#333" stroke-width="0.5" />
<line x1="95.92" y1="254.90" x2="95.92" y2="256.10" stroke="#333" stroke-width="0.5" />
<line x1="98.68" y1="254.90" x2="98.68" y2="256.10" stroke="#333" stroke-width="0.5" />
<line x1="117.39" y1="254.90" x2="117.39" y2="256.10" stroke="#333" stroke-width="0.5" />
<line x1="126.89" y1="254.90" x2="126.89" y2="256.10" stroke="#333" stroke-width="0.5" />
<line x1="133.63" y1="254.90" x2="133.63" y2="256.10" stroke="#333" stroke-width="0.5" />
<line x1="138.86" y1="254.90" x2="138.86" y2="256.10" stroke="#333" stroke-width="0.5" />
<line x1="143.13" y1="254.90" x2="143.13" y2="256.10" stroke="#333" stroke-width="0.5" />
<line x1="146.74" y1="254.90" x2="146.74" y2="256.10" stroke="#333" stroke-width="0.5" />
<line x1="149.87" y1="254.90" x2="149.87" y2="256.10" stroke="#333" stroke-width="0.5" />
<line x1="152.63" y1="254.90" x2="152.63" y2="256.10" stroke="#333" stroke-width="0.5" />
<text x="100.50" y="173.60" font-size="6.9" text-anchor="middle" fill="#111" font-weight="bold" stroke="#111" stroke-width="0.152" >786-O</text>
<text x="101.15" y="272.10" font-size="6.0" text-anchor="middle" fill="#111" font-weight="bold" stroke="#111" stroke-width="0.132" >Concentration(uM)</text>
<text x="19.40" y="219.65" font-size="5.8" text-anchor="middle" fill="#111" font-weight="bold" stroke="#111" stroke-width="0.128" transform="rotate(-90 19.40 219.65)" >Cell viability(OD value at450 nm)</text>
<line x1="47.20" y1="219.15" x2="155.10" y2="219.15" stroke="#555" stroke-width="0.8" stroke-dasharray="0.9 0.9"/>
<polyline points="47.20,184.96 48.23,185.05 49.25,185.14 50.28,185.24 51.31,185.35 52.33,185.46 53.36,185.58 54.39,185.71 55.41,185.84 56.44,185.99 57.47,186.15 58.49,186.32 59.52,186.49 60.55,186.68 61.57,186.89 62.60,187.10 63.63,187.33 64.65,187.58 65.68,187.84 66.71,188.12 67.73,188.42 68.76,188.73 69.79,189.07 70.81,189.42 71.84,189.80 72.87,190.20 73.89,190.62 74.92,191.07 75.95,191.54 76.97,192.04 78.00,192.57 79.03,193.12 80.05,193.71 81.08,194.32 82.11,194.97 83.14,195.65 84.16,196.36 85.19,197.10 86.22,197.88 87.24,198.69 88.27,199.53 89.30,200.41 90.32,201.32 91.35,202.26 92.38,203.24 93.40,204.25 94.43,205.28 95.46,206.35 96.48,207.44 97.51,208.57 98.54,209.71 99.56,210.88 100.59,212.06 101.62,213.27 102.64,214.48 103.67,215.71 104.70,216.95 105.72,218.19 106.75,219.44 107.78,220.69 108.80,221.93 109.83,223.17 110.86,224.39 111.88,225.61 112.91,226.81 113.94,227.99 114.96,229.15 115.99,230.29 117.02,231.41 118.04,232.50 119.07,233.56 120.10,234.59 121.12,235.60 122.15,236.57 123.18,237.50 124.20,238.41 125.23,239.28 126.26,240.12 127.28,240.92 128.31,241.69 129.34,242.43 130.36,243.14 131.39,243.81 132.42,244.45 133.44,245.06 134.47,245.64 135.50,246.19 136.52,246.71 137.55,247.20 138.58,247.67 139.60,248.12 140.63,248.53 141.66,248.93 142.68,249.30 143.71,249.65 144.74,249.98 145.76,250.29 146.79,250.59 147.82,250.86 148.84,251.12 149.87,251.36" fill="none" stroke="#ff5a5a" stroke-width="2.0" stroke-dasharray="1.1 1.1"/>
<polyline points="47.20,184.96 48.23,185.05 49.25,185.14 50.28,185.24 51.31,185.35 52.33,185.46 53.36,185.58 54.39,185.71 55.41,185.84 56.44,185.99 57.47,186.15 58.49,186.32 59.52,186.49 60.55,186.68 61.57,186.89 62.60,187.10 63.63,187.33 64.65,187.58 65.68,187.84 66.71,188.12 67.73,188.42 68.76,188.73 69.79,189.07 70.81,189.42 71.84,189.80 72.87,190.20 73.89,190.62 74.92,191.07 75.95,191.54 76.97,192.04 78.00,192.57 79.03,193.12 80.05,193.71 81.08,194.32 82.11,194.97 83.14,195.65 84.16,196.36 85.19,197.10 86.22,197.88 87.24,198.69 88.27,199.53 89.30,200.41 90.32,201.32 91.35,202.26 92.38,203.24 93.40,204.25 94.43,205.28 95.46,206.35 96.48,207.44 97.51,208.57 98.54,209.71 99.56,210.88 100.59,212.06 101.62,213.27 102.64,214.48 103.67,215.71 104.70,216.95 105.72,218.19 106.75,219.44 107.78,220.69 108.80,221.93 109.83,223.17 110.86,224.39 111.88,225.61 112.91,226.81 113.94,227.99 114.96,229.15 115.99,230.29 117.02,231.41 118.04,232.50 119.07,233.56 120.10,234.59 121.12,235.60 122.15,236.57 123.18,237.50 124.20,238.41 125.23,239.28 126.26,240.12 127.28,240.92 128.31,241.69 129.34,242.43 130.36,243.14 131.39,243.81 132.42,244.45 133.44,245.06 134.47,245.64 135.50,246.19 136.52,246.71 137.55,247.20 138.58,247.67 139.60,248.12 140.63,248.53 141.66,248.93 142.68,249.30 143.71,249.65 144.74,249.98 145.76,250.29 146.79,250.59 147.82,250.86 148.84,251.12 149.87,251.36" fill="none" stroke="#3030ff" stroke-width="0.9"/>
<line x1="47.20" y1="186.62" x2="47.20" y2="184.47" stroke="#2020ff" stroke-width="0.8" />
<line x1="45.90" y1="186.62" x2="48.50" y2="186.62" stroke="#2020ff" stroke-width="0.8" />
<line x1="45.90" y1="184.47" x2="48.50" y2="184.47" stroke="#2020ff" stroke-width="0.8" />
<circle cx="47.20" cy="185.55" r="1.6" fill="#1515ff"/>
<line x1="63.44" y1="189.84" x2="63.44" y2="185.55" stroke="#2020ff" stroke-width="0.8" />
<line x1="62.14" y1="189.84" x2="64.74" y2="189.84" stroke="#2020ff" stroke-width="0.8" />
<line x1="62.14" y1="185.55" x2="64.74" y2="185.55" stroke="#2020ff" stroke-width="0.8" />
<circle cx="63.44" cy="187.69" r="1.6" fill="#1515ff"/>
<line x1="84.91" y1="201.28" x2="84.91" y2="196.99" stroke="#2020ff" stroke-width="0.8" />
<line x1="83.61" y1="201.28" x2="86.21" y2="201.28" stroke="#2020ff" stroke-width="0.8" />
<line x1="83.61" y1="196.99" x2="86.21" y2="196.99" stroke="#2020ff" stroke-width="0.8" />
<circle cx="84.91" cy="199.13" r="1.6" fill="#1515ff"/>
<line x1="101.15" y1="215.57" x2="101.15" y2="209.86" stroke="#2020ff" stroke-width="0.8" />
<line x1="99.85" y1="215.57" x2="102.45" y2="215.57" stroke="#2020ff" stroke-width="0.8" />
<line x1="99.85" y1="209.86" x2="102.45" y2="209.86" stroke="#2020ff" stroke-width="0.8" />
<circle cx="101.15" cy="212.72" r="1.6" fill="#1515ff"/>
<line x1="117.39" y1="232.74" x2="117.39" y2="228.44" stroke="#2020ff" stroke-width="0.8" />
<line x1="116.09" y1="232.74" x2="118.69" y2="232.74" stroke="#2020ff" stroke-width="0.8" />
<line x1="116.09" y1="228.44" x2="118.69" y2="228.44" stroke="#2020ff" stroke-width="0.8" />
<circle cx="117.39" cy="230.59" r="1.6" fill="#1515ff"/>
<line x1="133.63" y1="245.25" x2="133.63" y2="243.10" stroke="#2020ff" stroke-width="0.8" />
<line x1="132.33" y1="245.25" x2="134.93" y2="245.25" stroke="#2020ff" stroke-width="0.8" />
<line x1="132.33" y1="243.10" x2="134.93" y2="243.10" stroke="#2020ff" stroke-width="0.8" />
<circle cx="133.63" cy="244.18" r="1.6" fill="#1515ff"/>
<line x1="149.87" y1="252.04" x2="149.87" y2="250.61" stroke="#2020ff" stroke-width="0.8" />
<line x1="148.57" y1="252.04" x2="151.17" y2="252.04" stroke="#2020ff" stroke-width="0.8" />
<line x1="148.57" y1="250.61" x2="151.17" y2="250.61" stroke="#2020ff" stroke-width="0.8" />
<circle cx="149.87" cy="251.33" r="1.6" fill="#1515ff"/>
<text x="124.00" y="187.20" font-size="4.6" text-anchor="start" fill="#333" font-weight="bold" textLength="36.00" lengthAdjust="spacingAndGlyphs" >(IC50=12.65uM)</text>
<line x1="211.70" y1="183.20" x2="211.70" y2="255.40" stroke="#333" stroke-width="0.9" />
<line x1="211.70" y1="255.40" x2="319.40" y2="255.40" stroke="#333" stroke-width="0.9" />
<line x1="209.70" y1="255.40" x2="211.70" y2="255.40" stroke="#333" stroke-width="0.7" />
<text x="209.10" y="257.30" font-size="5.4" text-anchor="end" fill="#222" font-weight="bold" stroke="#222" stroke-width="0.119" >0%</text>
<line x1="209.70" y1="241.16" x2="211.70" y2="241.16" stroke="#333" stroke-width="0.7" />
<text x="209.10" y="243.06" font-size="5.4" text-anchor="end" fill="#222" font-weight="bold" stroke="#222" stroke-width="0.119" >20%</text>
<line x1="209.70" y1="226.92" x2="211.70" y2="226.92" stroke="#333" stroke-width="0.7" />
<text x="209.10" y="228.82" font-size="5.4" text-anchor="end" fill="#222" font-weight="bold" stroke="#222" stroke-width="0.119" >40%</text>
<line x1="209.70" y1="212.68" x2="211.70" y2="212.68" stroke="#333" stroke-width="0.7" />
<text x="209.10" y="214.58" font-size="5.4" text-anchor="end" fill="#222" font-weight="bold" stroke="#222" stroke-width="0.119" >60%</text>
<line x1="209.70" y1="198.44" x2="211.70" y2="198.44" stroke="#333" stroke-width="0.7" />
<text x="209.10" y="200.34" font-size="5.4" text-anchor="end" fill="#222" font-weight="bold" stroke="#222" stroke-width="0.119" >80%</text>
<line x1="209.70" y1="184.20" x2="211.70" y2="184.20" stroke="#333" stroke-width="0.7" />
<text x="209.10" y="186.10" font-size="5.4" text-anchor="end" fill="#222" font-weight="bold" stroke="#222" stroke-width="0.119" >100%</text>
<line x1="211.70" y1="255.40" x2="211.70" y2="257.60" stroke="#333" stroke-width="0.7" />
<text x="211.70" y="263.70" font-size="5.9" text-anchor="middle" fill="#222" font-weight="bold" stroke="#222" stroke-width="0.130" >1</text>
<line x1="265.55" y1="255.40" x2="265.55" y2="257.60" stroke="#333" stroke-width="0.7" />
<text x="265.55" y="263.70" font-size="5.9" text-anchor="middle" fill="#222" font-weight="bold" stroke="#222" stroke-width="0.130" >10</text>
<line x1="319.40" y1="255.40" x2="319.40" y2="257.60" stroke="#333" stroke-width="0.7" />
<text x="319.40" y="263.70" font-size="5.9" text-anchor="middle" fill="#222" font-weight="bold" stroke="#222" stroke-width="0.130" >100</text>
<line x1="227.91" y1="255.40" x2="227.91" y2="256.60" stroke="#333" stroke-width="0.5" />
<line x1="237.39" y1="255.40" x2="237.39" y2="256.60" stroke="#333" stroke-width="0.5" />
<line x1="244.12" y1="255.40" x2="244.12" y2="256.60" stroke="#333" stroke-width="0.5" />
<line x1="249.34" y1="255.40" x2="249.34" y2="256.60" stroke="#333" stroke-width="0.5" />
<line x1="253.60" y1="255.40" x2="253.60" y2="256.60" stroke="#333" stroke-width="0.5" />
<line x1="257.21" y1="255.40" x2="257.21" y2="256.60" stroke="#333" stroke-width="0.5" />
<line x1="260.33" y1="255.40" x2="260.33" y2="256.60" stroke="#333" stroke-width="0.5" />
<line x1="263.09" y1="255.40" x2="263.09" y2="256.60" stroke="#333" stroke-width="0.5" />
<line x1="281.76" y1="255.40" x2="281.76" y2="256.60" stroke="#333" stroke-width="0.5" />
<line x1="291.24" y1="255.40" x2="291.24" y2="256.60" stroke="#333" stroke-width="0.5" />
<line x1="297.97" y1="255.40" x2="297.97" y2="256.60" stroke="#333" stroke-width="0.5" />
<line x1="303.19" y1="255.40" x2="303.19" y2="256.60" stroke="#333" stroke-width="0.5" />
<line x1="307.45" y1="255.40" x2="307.45" y2="256.60" stroke="#333" stroke-width="0.5" />
<line x1="311.06" y1="255.40" x2="311.06" y2="256.60" stroke="#333" stroke-width="0.5" />
<line x1="314.18" y1="255.40" x2="314.18" y2="256.60" stroke="#333" stroke-width="0.5" />
<line x1="316.94" y1="255.40" x2="316.94" y2="256.60" stroke="#333" stroke-width="0.5" />
<text x="265.50" y="174.40" font-size="6.9" text-anchor="middle" fill="#111" font-weight="bold" stroke="#111" stroke-width="0.152" >ACHN</text>
<text x="265.55" y="272.60" font-size="6.0" text-anchor="middle" fill="#111" font-weight="bold" stroke="#111" stroke-width="0.132" >Concentration(uM)</text>
<text x="183.20" y="220.30" font-size="5.8" text-anchor="middle" fill="#111" font-weight="bold" stroke="#111" stroke-width="0.128" transform="rotate(-90 183.20 220.30)" >Cell viability(OD value at450 nm)</text>
<line x1="211.70" y1="219.80" x2="319.40" y2="219.80" stroke="#555" stroke-width="0.8" stroke-dasharray="0.9 0.9"/>
<polyline points="211.70,188.38 212.72,188.56 213.75,188.74 214.77,188.94 215.80,189.14 216.82,189.36 217.85,189.58 218.87,189.81 219.90,190.06 220.92,190.32 221.95,190.58 222.97,190.87 224.00,191.16 225.02,191.46 226.05,191.78 227.07,192.12 228.10,192.46 229.12,192.83 230.15,193.20 231.17,193.59 232.20,194.00 233.22,194.43 234.25,194.87 235.27,195.33 236.30,195.80 237.32,196.30 238.35,196.81 239.37,197.34 240.39,197.88 241.42,198.45 242.44,199.03 243.47,199.64 244.49,200.26 245.52,200.90 246.54,201.56 247.57,202.24 248.59,202.93 249.62,203.65 250.64,204.38 251.67,205.13 252.69,205.90 253.72,206.68 254.74,207.48 255.77,208.29 256.79,209.12 257.82,209.96 258.84,210.82 259.87,211.69 260.89,212.56 261.92,213.45 262.94,214.35 263.97,215.26 264.99,216.17 266.02,217.08 267.04,218.01 268.06,218.93 269.09,219.86 270.11,220.78 271.14,221.71 272.16,222.63 273.19,223.55 274.21,224.47 275.24,225.38 276.26,226.28 277.29,227.17 278.31,228.06 279.34,228.93 280.36,229.80 281.39,230.65 282.41,231.49 283.44,232.31 284.46,233.12 285.49,233.91 286.51,234.69 287.54,235.45 288.56,236.19 289.59,236.92 290.61,237.63 291.64,238.32 292.66,238.99 293.69,239.64 294.71,240.28 295.73,240.89 296.76,241.49 297.78,242.07 298.81,242.62 299.83,243.17 300.86,243.69 301.88,244.19 302.91,244.68 303.93,245.15 304.96,245.60 305.98,246.04 307.01,246.45 308.03,246.86 309.06,247.24 310.08,247.62 311.11,247.97 312.13,248.32 313.16,248.64 314.18,248.96" fill="none" stroke="#ff5a5a" stroke-width="2.0" stroke-dasharray="1.1 1.1"/>
<polyline points="211.70,188.38 212.72,188.56 213.75,188.74 214.77,188.94 215.80,189.14 216.82,189.36 217.85,189.58 218.87,189.81 219.90,190.06 220.92,190.32 221.95,190.58 222.97,190.87 224.00,191.16 225.02,191.46 226.05,191.78 227.07,192.12 228.10,192.46 229.12,192.83 230.15,193.20 231.17,193.59 232.20,194.00 233.22,194.43 234.25,194.87 235.27,195.33 236.30,195.80 237.32,196.30 238.35,196.81 239.37,197.34 240.39,197.88 241.42,198.45 242.44,199.03 243.47,199.64 244.49,200.26 245.52,200.90 246.54,201.56 247.57,202.24 248.59,202.93 249.62,203.65 250.64,204.38 251.67,205.13 252.69,205.90 253.72,206.68 254.74,207.48 255.77,208.29 256.79,209.12 257.82,209.96 258.84,210.82 259.87,211.69 260.89,212.56 261.92,213.45 262.94,214.35 263.97,215.26 264.99,216.17 266.02,217.08 267.04,218.01 268.06,218.93 269.09,219.86 270.11,220.78 271.14,221.71 272.16,222.63 273.19,223.55 274.21,224.47 275.24,225.38 276.26,226.28 277.29,227.17 278.31,228.06 279.34,228.93 280.36,229.80 281.39,230.65 282.41,231.49 283.44,232.31 284.46,233.12 285.49,233.91 286.51,234.69 287.54,235.45 288.56,236.19 289.59,236.92 290.61,237.63 291.64,238.32 292.66,238.99 293.69,239.64 294.71,240.28 295.73,240.89 296.76,241.49 297.78,242.07 298.81,242.62 299.83,243.17 300.86,243.69 301.88,244.19 302.91,244.68 303.93,245.15 304.96,245.60 305.98,246.04 307.01,246.45 308.03,246.86 309.06,247.24 310.08,247.62 311.11,247.97 312.13,248.32 313.16,248.64 314.18,248.96" fill="none" stroke="#3030ff" stroke-width="0.9"/>
<line x1="211.70" y1="189.54" x2="211.70" y2="185.98" stroke="#2020ff" stroke-width="0.8" />
<line x1="210.40" y1="189.54" x2="213.00" y2="189.54" stroke="#2020ff" stroke-width="0.8" />
<line x1="210.40" y1="185.98" x2="213.00" y2="185.98" stroke="#2020ff" stroke-width="0.8" />
<circle cx="211.70" cy="187.76" r="1.6" fill="#1515ff"/>
<line x1="227.91" y1="191.68" x2="227.91" y2="188.12" stroke="#2020ff" stroke-width="0.8" />
<line x1="226.61" y1="191.68" x2="229.21" y2="191.68" stroke="#2020ff" stroke-width="0.8" />
<line x1="226.61" y1="188.12" x2="229.21" y2="188.12" stroke="#2020ff" stroke-width="0.8" />
<circle cx="227.91" cy="189.90" r="1.6" fill="#1515ff"/>
<line x1="249.34" y1="204.14" x2="249.34" y2="197.02" stroke="#2020ff" stroke-width="0.8" />
<line x1="248.04" y1="204.14" x2="250.64" y2="204.14" stroke="#2020ff" stroke-width="0.8" />
<line x1="248.04" y1="197.02" x2="250.64" y2="197.02" stroke="#2020ff" stroke-width="0.8" />
<circle cx="249.34" cy="200.58" r="1.6" fill="#1515ff"/>
<line x1="265.55" y1="221.22" x2="265.55" y2="218.38" stroke="#2020ff" stroke-width="0.8" />
<line x1="264.25" y1="221.22" x2="266.85" y2="221.22" stroke="#2020ff" stroke-width="0.8" />
<line x1="264.25" y1="218.38" x2="266.85" y2="218.38" stroke="#2020ff" stroke-width="0.8" />
<circle cx="265.55" cy="219.80" r="1.6" fill="#1515ff"/>
<line x1="281.76" y1="233.33" x2="281.76" y2="229.06" stroke="#2020ff" stroke-width="0.8" />
<line x1="280.46" y1="233.33" x2="283.06" y2="233.33" stroke="#2020ff" stroke-width="0.8" />
<line x1="280.46" y1="229.06" x2="283.06" y2="229.06" stroke="#2020ff" stroke-width="0.8" />
<circle cx="281.76" cy="231.19" r="1.6" fill="#1515ff"/>
<line x1="297.97" y1="243.30" x2="297.97" y2="237.60" stroke="#2020ff" stroke-width="0.8" />
<line x1="296.67" y1="243.30" x2="299.27" y2="243.30" stroke="#2020ff" stroke-width="0.8" />
<line x1="296.67" y1="237.60" x2="299.27" y2="237.60" stroke="#2020ff" stroke-width="0.8" />
<circle cx="297.97" cy="240.45" r="1.6" fill="#1515ff"/>
<line x1="314.18" y1="249.70" x2="314.18" y2="248.28" stroke="#2020ff" stroke-width="0.8" />
<line x1="312.88" y1="249.70" x2="315.48" y2="249.70" stroke="#2020ff" stroke-width="0.8" />
<line x1="312.88" y1="248.28" x2="315.48" y2="248.28" stroke="#2020ff" stroke-width="0.8" />
<circle cx="314.18" cy="248.99" r="1.6" fill="#1515ff"/>
<text x="289.50" y="188.00" font-size="4.6" text-anchor="start" fill="#333" font-weight="bold" textLength="31.00" lengthAdjust="spacingAndGlyphs" >(IC50=11.8uM)</text>
<line x1="376.80" y1="175.80" x2="376.80" y2="258.80" stroke="#333" stroke-width="0.9" />
<line x1="376.80" y1="258.80" x2="499.00" y2="258.80" stroke="#333" stroke-width="0.9" />
<line x1="374.80" y1="258.80" x2="376.80" y2="258.80" stroke="#333" stroke-width="0.7" />
<text x="374.00" y="261.00" font-size="6.0" text-anchor="end" fill="#222" font-weight="bold" stroke="#222" stroke-width="0.132" >0.0</text>
<line x1="374.80" y1="238.30" x2="376.80" y2="238.30" stroke="#333" stroke-width="0.7" />
<text x="374.00" y="240.50" font-size="6.0" text-anchor="end" fill="#222" font-weight="bold" stroke="#222" stroke-width="0.132" >0.5</text>
<line x1="374.80" y1="217.80" x2="376.80" y2="217.80" stroke="#333" stroke-width="0.7" />
<text x="374.00" y="220.00" font-size="6.0" text-anchor="end" fill="#222" font-weight="bold" stroke="#222" stroke-width="0.132" >1.0</text>
<line x1="374.80" y1="197.30" x2="376.80" y2="197.30" stroke="#333" stroke-width="0.7" />
<text x="374.00" y="199.50" font-size="6.0" text-anchor="end" fill="#222" font-weight="bold" stroke="#222" stroke-width="0.132" >1.5</text>
<line x1="374.80" y1="176.80" x2="376.80" y2="176.80" stroke="#333" stroke-width="0.7" />
<text x="374.00" y="179.00" font-size="6.0" text-anchor="end" fill="#222" font-weight="bold" stroke="#222" stroke-width="0.132" >2.0</text>
<line x1="395.20" y1="258.80" x2="395.20" y2="260.80" stroke="#333" stroke-width="0.7" />
<text x="397.60" y="266.20" font-size="6.2" text-anchor="end" fill="#222" font-weight="bold" stroke="#222" stroke-width="0.136" transform="rotate(-45 397.60 266.20)" >0h</text>
<line x1="423.30" y1="258.80" x2="423.30" y2="260.80" stroke="#333" stroke-width="0.7" />
<text x="425.70" y="266.20" font-size="6.2" text-anchor="end" fill="#222" font-weight="bold" stroke="#222" stroke-width="0.136" transform="rotate(-45 425.70 266.20)" >24h</text>
<line x1="451.60" y1="258.80" x2="451.60" y2="260.80" stroke="#333" stroke-width="0.7" />
<text x="454.00" y="266.20" font-size="6.2" text-anchor="end" fill="#222" font-weight="bold" stroke="#222" stroke-width="0.136" transform="rotate(-45 454.00 266.20)" >48h</text>
<line x1="480.30" y1="258.80" x2="480.30" y2="260.80" stroke="#333" stroke-width="0.7" />
<text x="482.70" y="266.20" font-size="6.2" text-anchor="end" fill="#222" font-weight="bold" stroke="#222" stroke-width="0.136" transform="rotate(-45 482.70 266.20)" >72h</text>
<text x="437.70" y="165.30" font-size="7.6" text-anchor="middle" fill="#111" font-weight="bold" stroke="#111" stroke-width="0.167" >ACHN</text>
<text x="437.90" y="283.60" font-size="6.9" text-anchor="middle" fill="#111" font-weight="bold" stroke="#111" stroke-width="0.152" >time(h)</text>
<text x="349.70" y="218.30" font-size="6.7" text-anchor="middle" fill="#111" font-weight="bold" stroke="#111" stroke-width="0.147" transform="rotate(-90 349.70 218.30)" >OD value at450 nm</text>
<polyline points="395.20,252.65 423.30,250.60 451.60,242.40 480.30,221.08" fill="none" stroke="#f08a2a" stroke-width="1.0"/>
<line x1="395.20" y1="253.47" x2="395.20" y2="251.83" stroke="#f08a2a" stroke-width="0.7" />
<line x1="394.00" y1="253.47" x2="396.40" y2="253.47" stroke="#f08a2a" stroke-width="0.7" />
<line x1="394.00" y1="251.83" x2="396.40" y2="251.83" stroke="#f08a2a" stroke-width="0.7" />
<polygon points="395.20,251.05 393.60,252.65 395.20,254.25 396.80,252.65" fill="#f08a2a"/>
<line x1="423.30" y1="251.83" x2="423.30" y2="249.37" stroke="#f08a2a" stroke-width="0.7" />
<line x1="422.10" y1="251.83" x2="424.50" y2="251.83" stroke="#f08a2a" stroke-width="0.7" />
<line x1="422.10" y1="249.37" x2="424.50" y2="249.37" stroke="#f08a2a" stroke-width="0.7" />
<polygon points="423.30,249.00 421.70,250.60 423.30,252.20 424.90,250.60" fill="#f08a2a"/>
<line x1="451.60" y1="244.45" x2="451.60" y2="240.35" stroke="#f08a2a" stroke-width="0.7" />
<line x1="450.40" y1="244.45" x2="452.80" y2="244.45" stroke="#f08a2a" stroke-width="0.7" />
<line x1="450.40" y1="240.35" x2="452.80" y2="240.35" stroke="#f08a2a" stroke-width="0.7" />
<polygon points="451.60,240.80 450.00,242.40 451.60,244.00 453.20,242.40" fill="#f08a2a"/>
<line x1="480.30" y1="224.36" x2="480.30" y2="217.80" stroke="#f08a2a" stroke-width="0.7" />
<line x1="479.10" y1="224.36" x2="481.50" y2="224.36" stroke="#f08a2a" stroke-width="0.7" />
<line x1="479.10" y1="217.80" x2="481.50" y2="217.80" stroke="#f08a2a" stroke-width="0.7" />
<polygon points="480.30,219.48 478.70,221.08 480.30,222.68 481.90,221.08" fill="#f08a2a"/>
<polyline points="395.20,252.65 423.30,253.88 451.60,247.73 480.30,231.74" fill="none" stroke="#cc33ff" stroke-width="1.0"/>
<line x1="395.20" y1="253.47" x2="395.20" y2="251.83" stroke="#cc33ff" stroke-width="0.7" />
<line x1="394.00" y1="253.47" x2="396.40" y2="253.47" stroke="#cc33ff" stroke-width="0.7" />
<line x1="394.00" y1="251.83" x2="396.40" y2="251.83" stroke="#cc33ff" stroke-width="0.7" />
<polygon points="395.20,254.25 393.60,251.37 396.80,251.37" fill="#cc33ff"/>
<line x1="423.30" y1="254.70" x2="423.30" y2="253.06" stroke="#cc33ff" stroke-width="0.7" />
<line x1="422.10" y1="254.70" x2="424.50" y2="254.70" stroke="#cc33ff" stroke-width="0.7" />
<line x1="422.10" y1="253.06" x2="424.50" y2="253.06" stroke="#cc33ff" stroke-width="0.7" />
<polygon points="423.30,255.48 421.70,252.60 424.90,252.60" fill="#cc33ff"/>
<line x1="451.60" y1="249.37" x2="451.60" y2="246.09" stroke="#cc33ff" stroke-width="0.7" />
<line x1="450.40" y1="249.37" x2="452.80" y2="249.37" stroke="#cc33ff" stroke-width="0.7" />
<line x1="450.40" y1="246.09" x2="452.80" y2="246.09" stroke="#cc33ff" stroke-width="0.7" />
<polygon points="451.60,249.33 450.00,246.45 453.20,246.45" fill="#cc33ff"/>
<line x1="480.30" y1="233.79" x2="480.30" y2="229.69" stroke="#cc33ff" stroke-width="0.7" />
<line x1="479.10" y1="233.79" x2="481.50" y2="233.79" stroke="#cc33ff" stroke-width="0.7" />
<line x1="479.10" y1="229.69" x2="481.50" y2="229.69" stroke="#cc33ff" stroke-width="0.7" />
<polygon points="480.30,233.34 478.70,230.46 481.90,230.46" fill="#cc33ff"/>
<polyline points="395.20,252.65 423.30,249.78 451.60,241.58 480.30,217.80" fill="none" stroke="#33dd33" stroke-width="1.0"/>
<line x1="395.20" y1="253.47" x2="395.20" y2="251.83" stroke="#33dd33" stroke-width="0.7" />
<line x1="394.00" y1="253.47" x2="396.40" y2="253.47" stroke="#33dd33" stroke-width="0.7" />
<line x1="394.00" y1="251.83" x2="396.40" y2="251.83" stroke="#33dd33" stroke-width="0.7" />
<polygon points="395.20,251.05 393.60,253.93 396.80,253.93" fill="#33dd33"/>
<line x1="423.30" y1="251.01" x2="423.30" y2="248.55" stroke="#33dd33" stroke-width="0.7" />
<line x1="422.10" y1="251.01" x2="424.50" y2="251.01" stroke="#33dd33" stroke-width="0.7" />
<line x1="422.10" y1="248.55" x2="424.50" y2="248.55" stroke="#33dd33" stroke-width="0.7" />
<polygon points="423.30,248.18 421.70,251.06 424.90,251.06" fill="#33dd33"/>
<line x1="451.60" y1="243.63" x2="451.60" y2="239.53" stroke="#33dd33" stroke-width="0.7" />
<line x1="450.40" y1="243.63" x2="452.80" y2="243.63" stroke="#33dd33" stroke-width="0.7" />
<line x1="450.40" y1="239.53" x2="452.80" y2="239.53" stroke="#33dd33" stroke-width="0.7" />
<polygon points="451.60,239.98 450.00,242.86 453.20,242.86" fill="#33dd33"/>
<line x1="480.30" y1="226.82" x2="480.30" y2="208.78" stroke="#33dd33" stroke-width="0.7" />
<line x1="479.10" y1="226.82" x2="481.50" y2="226.82" stroke="#33dd33" stroke-width="0.7" />
<line x1="479.10" y1="208.78" x2="481.50" y2="208.78" stroke="#33dd33" stroke-width="0.7" />
<polygon points="480.30,216.20 478.70,219.08 481.90,219.08" fill="#33dd33"/>
<polyline points="395.20,252.65 423.30,249.37 451.60,240.35 480.30,214.93" fill="none" stroke="#ff2020" stroke-width="1.0"/>
<line x1="395.20" y1="253.47" x2="395.20" y2="251.83" stroke="#ff2020" stroke-width="0.7" />
<line x1="394.00" y1="253.47" x2="396.40" y2="253.47" stroke="#ff2020" stroke-width="0.7" />
<line x1="394.00" y1="251.83" x2="396.40" y2="251.83" stroke="#ff2020" stroke-width="0.7" />
<rect x="393.76" y="251.21" width="2.88" height="2.88" fill="#ff2020" />
<line x1="423.30" y1="250.60" x2="423.30" y2="248.14" stroke="#ff2020" stroke-width="0.7" />
<line x1="422.10" y1="250.60" x2="424.50" y2="250.60" stroke="#ff2020" stroke-width="0.7" />
<line x1="422.10" y1="248.14" x2="424.50" y2="248.14" stroke="#ff2020" stroke-width="0.7" />
<rect x="421.86" y="247.93" width="2.88" height="2.88" fill="#ff2020" />
<line x1="451.60" y1="243.63" x2="451.60" y2="237.07" stroke="#ff2020" stroke-width="0.7" />
<line x1="450.40" y1="243.63" x2="452.80" y2="243.63" stroke="#ff2020" stroke-width="0.7" />
<line x1="450.40" y1="237.07" x2="452.80" y2="237.07" stroke="#ff2020" stroke-width="0.7" />
<rect x="450.16" y="238.91" width="2.88" height="2.88" fill="#ff2020" />
<line x1="480.30" y1="220.67" x2="480.30" y2="209.19" stroke="#ff2020" stroke-width="0.7" />
<line x1="479.10" y1="220.67" x2="481.50" y2="220.67" stroke="#ff2020" stroke-width="0.7" />
<line x1="479.10" y1="209.19" x2="481.50" y2="209.19" stroke="#ff2020" stroke-width="0.7" />
<rect x="478.86" y="213.49" width="2.88" height="2.88" fill="#ff2020" />
<polyline points="395.20,252.65 423.30,245.68 451.60,226.41 480.30,195.25" fill="none" stroke="#1a1aff" stroke-width="1.0"/>
<line x1="395.20" y1="253.47" x2="395.20" y2="251.83" stroke="#1a1aff" stroke-width="0.7" />
<line x1="394.00" y1="253.47" x2="396.40" y2="253.47" stroke="#1a1aff" stroke-width="0.7" />
<line x1="394.00" y1="251.83" x2="396.40" y2="251.83" stroke="#1a1aff" stroke-width="0.7" />
<circle cx="395.20" cy="252.65" r="1.60" fill="#1a1aff"/>
<line x1="423.30" y1="246.91" x2="423.30" y2="244.45" stroke="#1a1aff" stroke-width="0.7" />
<line x1="422.10" y1="246.91" x2="424.50" y2="246.91" stroke="#1a1aff" stroke-width="0.7" />
<line x1="422.10" y1="244.45" x2="424.50" y2="244.45" stroke="#1a1aff" stroke-width="0.7" />
<circle cx="423.30" cy="245.68" r="1.60" fill="#1a1aff"/>
<line x1="451.60" y1="233.38" x2="451.60" y2="219.44" stroke="#1a1aff" stroke-width="0.7" />
<line x1="450.40" y1="233.38" x2="452.80" y2="233.38" stroke="#1a1aff" stroke-width="0.7" />
<line x1="450.40" y1="219.44" x2="452.80" y2="219.44" stroke="#1a1aff" stroke-width="0.7" />
<circle cx="451.60" cy="226.41" r="1.60" fill="#1a1aff"/>
<line x1="480.30" y1="204.27" x2="480.30" y2="186.23" stroke="#1a1aff" stroke-width="0.7" />
<line x1="479.10" y1="204.27" x2="481.50" y2="204.27" stroke="#1a1aff" stroke-width="0.7" />
<line x1="479.10" y1="186.23" x2="481.50" y2="186.23" stroke="#1a1aff" stroke-width="0.7" />
<circle cx="480.30" cy="195.25" r="1.60" fill="#1a1aff"/>
<line x1="380.60" y1="180.10" x2="389.80" y2="180.10" stroke="#1a1aff" stroke-width="1.0" />
<circle cx="385.20" cy="180.10" r="1.80" fill="#1a1aff"/>
<text x="393.80" y="181.80" font-size="4.7" text-anchor="start" fill="#2a2a2a" stroke="#2a2a2a" stroke-width="0.12">DMSO</text>
<line x1="380.60" y1="189.00" x2="389.80" y2="189.00" stroke="#33dd33" stroke-width="1.0" />
<polygon points="385.20,187.20 383.40,190.44 387.00,190.44" fill="#33dd33"/>
<text x="393.80" y="190.70" font-size="4.7" text-anchor="start" fill="#2a2a2a" stroke="#2a2a2a" stroke-width="0.12">Erastin</text>
<line x1="380.60" y1="199.30" x2="389.80" y2="199.30" stroke="#ff2020" stroke-width="1.0" />
<rect x="383.58" y="197.68" width="3.24" height="3.24" fill="#ff2020" />
<text x="393.80" y="201.00" font-size="4.7" text-anchor="start" fill="#2a2a2a" stroke="#2a2a2a" stroke-width="0.12">si-Ctrl+Erastin</text>
<line x1="380.60" y1="208.70" x2="389.80" y2="208.70" stroke="#cc33ff" stroke-width="1.0" />
<polygon points="385.20,210.50 383.40,207.26 387.00,207.26" fill="#cc33ff"/>
<text x="393.80" y="210.40" font-size="4.7" text-anchor="start" fill="#2a2a2a" stroke="#2a2a2a" stroke-width="0.12">si-SPI1+Erastin</text>
<line x1="380.60" y1="218.40" x2="389.80" y2="218.40" stroke="#f08a2a" stroke-width="1.0" />
<polygon points="385.20,216.60 383.40,218.40 385.20,220.20 387.00,218.40" fill="#f08a2a"/>
<text x="393.80" y="220.10" font-size="4.7" text-anchor="start" fill="#2a2a2a" stroke="#2a2a2a" stroke-width="0.12">si-SPI1+Erastin+Fer-1</text>
<polyline points="483.40,195.25 486.70,195.25 486.70,214.93 483.40,214.93" fill="none" stroke="#444" stroke-width="0.7"/>
<text x="485.30" y="205.09" font-size="4.6" text-anchor="middle" fill="#333" font-weight="bold" transform="rotate(90 485.30 205.09)" >*</text>
<polyline points="487.30,195.25 490.80,195.25 490.80,217.80 487.30,217.80" fill="none" stroke="#444" stroke-width="0.7"/>
<text x="489.40" y="206.53" font-size="4.6" text-anchor="middle" fill="#333" font-weight="bold" transform="rotate(90 489.40 206.53)" >**</text>
<polyline points="491.90,194.84 495.20,194.84 495.20,231.74 491.90,231.74" fill="none" stroke="#444" stroke-width="0.7"/>
<text x="493.80" y="213.29" font-size="4.6" text-anchor="middle" fill="#333" font-weight="bold" transform="rotate(90 493.80 213.29)" >***</text>
<polyline points="484.10,221.08 487.30,221.08 487.30,232.56 484.10,232.56" fill="none" stroke="#444" stroke-width="0.7"/>
<text x="485.90" y="226.82" font-size="4.6" text-anchor="middle" fill="#333" font-weight="bold" transform="rotate(90 485.90 226.82)" >**</text>
<line x1="547.80" y1="176.60" x2="547.80" y2="258.80" stroke="#333" stroke-width="0.9" />
<line x1="547.80" y1="258.80" x2="671.80" y2="258.80" stroke="#333" stroke-width="0.9" />
<line x1="545.80" y1="258.80" x2="547.80" y2="258.80" stroke="#333" stroke-width="0.7" />
<text x="545.00" y="261.00" font-size="6.0" text-anchor="end" fill="#222" font-weight="bold" stroke="#222" stroke-width="0.132" >0.0</text>
<line x1="545.80" y1="231.73" x2="547.80" y2="231.73" stroke="#333" stroke-width="0.7" />
<text x="545.00" y="233.93" font-size="6.0" text-anchor="end" fill="#222" font-weight="bold" stroke="#222" stroke-width="0.132" >1.0</text>
<line x1="545.80" y1="204.67" x2="547.80" y2="204.67" stroke="#333" stroke-width="0.7" />
<text x="545.00" y="206.87" font-size="6.0" text-anchor="end" fill="#222" font-weight="bold" stroke="#222" stroke-width="0.132" >2.0</text>
<line x1="545.80" y1="177.60" x2="547.80" y2="177.60" stroke="#333" stroke-width="0.7" />
<text x="545.00" y="179.80" font-size="6.0" text-anchor="end" fill="#222" font-weight="bold" stroke="#222" stroke-width="0.132" >3.0</text>
<line x1="566.70" y1="258.80" x2="566.70" y2="260.80" stroke="#333" stroke-width="0.7" />
<text x="569.10" y="266.20" font-size="6.2" text-anchor="end" fill="#222" font-weight="bold" stroke="#222" stroke-width="0.136" transform="rotate(-45 569.10 266.20)" >0h</text>
<line x1="595.60" y1="258.80" x2="595.60" y2="260.80" stroke="#333" stroke-width="0.7" />
<text x="598.00" y="266.20" font-size="6.2" text-anchor="end" fill="#222" font-weight="bold" stroke="#222" stroke-width="0.136" transform="rotate(-45 598.00 266.20)" >24h</text>
<line x1="624.00" y1="258.80" x2="624.00" y2="260.80" stroke="#333" stroke-width="0.7" />
<text x="626.40" y="266.20" font-size="6.2" text-anchor="end" fill="#222" font-weight="bold" stroke="#222" stroke-width="0.136" transform="rotate(-45 626.40 266.20)" >48h</text>
<line x1="652.70" y1="258.80" x2="652.70" y2="260.80" stroke="#333" stroke-width="0.7" />
<text x="655.10" y="266.20" font-size="6.2" text-anchor="end" fill="#222" font-weight="bold" stroke="#222" stroke-width="0.136" transform="rotate(-45 655.10 266.20)" >72h</text>
<text x="609.60" y="166.10" font-size="7.6" text-anchor="middle" fill="#111" font-weight="bold" stroke="#111" stroke-width="0.167" >786-O</text>
<text x="609.80" y="283.60" font-size="6.9" text-anchor="middle" fill="#111" font-weight="bold" stroke="#111" stroke-width="0.152" >time(h)</text>
<text x="522.00" y="218.70" font-size="6.7" text-anchor="middle" fill="#111" font-weight="bold" stroke="#111" stroke-width="0.147" transform="rotate(-90 522.00 218.70)" >OD value at450 nm</text>
<polyline points="566.70,253.93 595.60,249.87 624.00,240.94 652.70,214.68" fill="none" stroke="#f08a2a" stroke-width="1.0"/>
<line x1="566.70" y1="254.47" x2="566.70" y2="253.39" stroke="#f08a2a" stroke-width="0.7" />
<line x1="565.50" y1="254.47" x2="567.90" y2="254.47" stroke="#f08a2a" stroke-width="0.7" />
<line x1="565.50" y1="253.39" x2="567.90" y2="253.39" stroke="#f08a2a" stroke-width="0.7" />
<polygon points="566.70,252.33 565.10,253.93 566.70,255.53 568.30,253.93" fill="#f08a2a"/>
<line x1="595.60" y1="250.68" x2="595.60" y2="249.06" stroke="#f08a2a" stroke-width="0.7" />
<line x1="594.40" y1="250.68" x2="596.80" y2="250.68" stroke="#f08a2a" stroke-width="0.7" />
<line x1="594.40" y1="249.06" x2="596.80" y2="249.06" stroke="#f08a2a" stroke-width="0.7" />
<polygon points="595.60,248.27 594.00,249.87 595.60,251.47 597.20,249.87" fill="#f08a2a"/>
<line x1="624.00" y1="242.29" x2="624.00" y2="239.58" stroke="#f08a2a" stroke-width="0.7" />
<line x1="622.80" y1="242.29" x2="625.20" y2="242.29" stroke="#f08a2a" stroke-width="0.7" />
<line x1="622.80" y1="239.58" x2="625.20" y2="239.58" stroke="#f08a2a" stroke-width="0.7" />
<polygon points="624.00,239.34 622.40,240.94 624.00,242.54 625.60,240.94" fill="#f08a2a"/>
<line x1="652.70" y1="216.58" x2="652.70" y2="212.79" stroke="#f08a2a" stroke-width="0.7" />
<line x1="651.50" y1="216.58" x2="653.90" y2="216.58" stroke="#f08a2a" stroke-width="0.7" />
<line x1="651.50" y1="212.79" x2="653.90" y2="212.79" stroke="#f08a2a" stroke-width="0.7" />
<polygon points="652.70,213.08 651.10,214.68 652.70,216.28 654.30,214.68" fill="#f08a2a"/>
<polyline points="566.70,253.93 595.60,251.22 624.00,247.43 652.70,236.33" fill="none" stroke="#cc33ff" stroke-width="1.0"/>
<line x1="566.70" y1="254.47" x2="566.70" y2="253.39" stroke="#cc33ff" stroke-width="0.7" />
<line x1="565.50" y1="254.47" x2="567.90" y2="254.47" stroke="#cc33ff" stroke-width="0.7" />
<line x1="565.50" y1="253.39" x2="567.90" y2="253.39" stroke="#cc33ff" stroke-width="0.7" />
<polygon points="566.70,255.53 565.10,252.65 568.30,252.65" fill="#cc33ff"/>
<line x1="595.60" y1="254.47" x2="595.60" y2="247.97" stroke="#cc33ff" stroke-width="0.7" />
<line x1="594.40" y1="254.47" x2="596.80" y2="254.47" stroke="#cc33ff" stroke-width="0.7" />
<line x1="594.40" y1="247.97" x2="596.80" y2="247.97" stroke="#cc33ff" stroke-width="0.7" />
<polygon points="595.60,252.82 594.00,249.94 597.20,249.94" fill="#cc33ff"/>
<line x1="624.00" y1="249.06" x2="624.00" y2="245.81" stroke="#cc33ff" stroke-width="0.7" />
<line x1="622.80" y1="249.06" x2="625.20" y2="249.06" stroke="#cc33ff" stroke-width="0.7" />
<line x1="622.80" y1="245.81" x2="625.20" y2="245.81" stroke="#cc33ff" stroke-width="0.7" />
<polygon points="624.00,249.03 622.40,246.15 625.60,246.15" fill="#cc33ff"/>
<line x1="652.70" y1="239.85" x2="652.70" y2="232.82" stroke="#cc33ff" stroke-width="0.7" />
<line x1="651.50" y1="239.85" x2="653.90" y2="239.85" stroke="#cc33ff" stroke-width="0.7" />
<line x1="651.50" y1="232.82" x2="653.90" y2="232.82" stroke="#cc33ff" stroke-width="0.7" />
<polygon points="652.70,237.93 651.10,235.05 654.30,235.05" fill="#cc33ff"/>
<polyline points="566.70,253.93 595.60,249.87 624.00,239.31 652.70,210.62" fill="none" stroke="#33dd33" stroke-width="1.0"/>
<line x1="566.70" y1="254.47" x2="566.70" y2="253.39" stroke="#33dd33" stroke-width="0.7" />
<line x1="565.50" y1="254.47" x2="567.90" y2="254.47" stroke="#33dd33" stroke-width="0.7" />
<line x1="565.50" y1="253.39" x2="567.90" y2="253.39" stroke="#33dd33" stroke-width="0.7" />
<polygon points="566.70,252.33 565.10,255.21 568.30,255.21" fill="#33dd33"/>
<line x1="595.60" y1="250.68" x2="595.60" y2="249.06" stroke="#33dd33" stroke-width="0.7" />
<line x1="594.40" y1="250.68" x2="596.80" y2="250.68" stroke="#33dd33" stroke-width="0.7" />
<line x1="594.40" y1="249.06" x2="596.80" y2="249.06" stroke="#33dd33" stroke-width="0.7" />
<polygon points="595.60,248.27 594.00,251.15 597.20,251.15" fill="#33dd33"/>
<line x1="624.00" y1="240.67" x2="624.00" y2="237.96" stroke="#33dd33" stroke-width="0.7" />
<line x1="622.80" y1="240.67" x2="625.20" y2="240.67" stroke="#33dd33" stroke-width="0.7" />
<line x1="622.80" y1="237.96" x2="625.20" y2="237.96" stroke="#33dd33" stroke-width="0.7" />
<polygon points="624.00,237.71 622.40,240.59 625.60,240.59" fill="#33dd33"/>
<line x1="652.70" y1="212.25" x2="652.70" y2="209.00" stroke="#33dd33" stroke-width="0.7" />
<line x1="651.50" y1="212.25" x2="653.90" y2="212.25" stroke="#33dd33" stroke-width="0.7" />
<line x1="651.50" y1="209.00" x2="653.90" y2="209.00" stroke="#33dd33" stroke-width="0.7" />
<polygon points="652.70,209.02 651.10,211.90 654.30,211.90" fill="#33dd33"/>
<polyline points="566.70,253.93 595.60,248.79 624.00,237.42 652.70,206.83" fill="none" stroke="#ff2020" stroke-width="1.0"/>
<line x1="566.70" y1="254.47" x2="566.70" y2="253.39" stroke="#ff2020" stroke-width="0.7" />
<line x1="565.50" y1="254.47" x2="567.90" y2="254.47" stroke="#ff2020" stroke-width="0.7" />
<line x1="565.50" y1="253.39" x2="567.90" y2="253.39" stroke="#ff2020" stroke-width="0.7" />
<rect x="565.26" y="252.49" width="2.88" height="2.88" fill="#ff2020" />
<line x1="595.60" y1="249.60" x2="595.60" y2="247.97" stroke="#ff2020" stroke-width="0.7" />
<line x1="594.40" y1="249.60" x2="596.80" y2="249.60" stroke="#ff2020" stroke-width="0.7" />
<line x1="594.40" y1="247.97" x2="596.80" y2="247.97" stroke="#ff2020" stroke-width="0.7" />
<rect x="594.16" y="247.35" width="2.88" height="2.88" fill="#ff2020" />
<line x1="624.00" y1="238.77" x2="624.00" y2="236.06" stroke="#ff2020" stroke-width="0.7" />
<line x1="622.80" y1="238.77" x2="625.20" y2="238.77" stroke="#ff2020" stroke-width="0.7" />
<line x1="622.80" y1="236.06" x2="625.20" y2="236.06" stroke="#ff2020" stroke-width="0.7" />
<rect x="622.56" y="235.98" width="2.88" height="2.88" fill="#ff2020" />
<line x1="652.70" y1="208.19" x2="652.70" y2="205.48" stroke="#ff2020" stroke-width="0.7" />
<line x1="651.50" y1="208.19" x2="653.90" y2="208.19" stroke="#ff2020" stroke-width="0.7" />
<line x1="651.50" y1="205.48" x2="653.90" y2="205.48" stroke="#ff2020" stroke-width="0.7" />
<rect x="651.26" y="205.39" width="2.88" height="2.88" fill="#ff2020" />
<polyline points="566.70,252.85 595.60,244.73 624.00,228.21 652.70,188.97" fill="none" stroke="#1a1aff" stroke-width="1.0"/>
<line x1="566.70" y1="253.66" x2="566.70" y2="252.03" stroke="#1a1aff" stroke-width="0.7" />
<line x1="565.50" y1="253.66" x2="567.90" y2="253.66" stroke="#1a1aff" stroke-width="0.7" />
<line x1="565.50" y1="252.03" x2="567.90" y2="252.03" stroke="#1a1aff" stroke-width="0.7" />
<circle cx="566.70" cy="252.85" r="1.60" fill="#1a1aff"/>
<line x1="595.60" y1="245.81" x2="595.60" y2="243.64" stroke="#1a1aff" stroke-width="0.7" />
<line x1="594.40" y1="245.81" x2="596.80" y2="245.81" stroke="#1a1aff" stroke-width="0.7" />
<line x1="594.40" y1="243.64" x2="596.80" y2="243.64" stroke="#1a1aff" stroke-width="0.7" />
<circle cx="595.60" cy="244.73" r="1.60" fill="#1a1aff"/>
<line x1="624.00" y1="231.46" x2="624.00" y2="224.97" stroke="#1a1aff" stroke-width="0.7" />
<line x1="622.80" y1="231.46" x2="625.20" y2="231.46" stroke="#1a1aff" stroke-width="0.7" />
<line x1="622.80" y1="224.97" x2="625.20" y2="224.97" stroke="#1a1aff" stroke-width="0.7" />
<circle cx="624.00" cy="228.21" r="1.60" fill="#1a1aff"/>
<line x1="652.70" y1="193.03" x2="652.70" y2="184.91" stroke="#1a1aff" stroke-width="0.7" />
<line x1="651.50" y1="193.03" x2="653.90" y2="193.03" stroke="#1a1aff" stroke-width="0.7" />
<line x1="651.50" y1="184.91" x2="653.90" y2="184.91" stroke="#1a1aff" stroke-width="0.7" />
<circle cx="652.70" cy="188.97" r="1.60" fill="#1a1aff"/>
<line x1="554.30" y1="183.90" x2="563.50" y2="183.90" stroke="#1a1aff" stroke-width="1.0" />
<circle cx="558.90" cy="183.90" r="1.80" fill="#1a1aff"/>
<text x="567.50" y="185.60" font-size="4.7" text-anchor="start" fill="#2a2a2a" stroke="#2a2a2a" stroke-width="0.12">DMSO</text>
<line x1="554.30" y1="192.50" x2="563.50" y2="192.50" stroke="#33dd33" stroke-width="1.0" />
<polygon points="558.90,190.70 557.10,193.94 560.70,193.94" fill="#33dd33"/>
<text x="567.50" y="194.20" font-size="4.7" text-anchor="start" fill="#2a2a2a" stroke="#2a2a2a" stroke-width="0.12">Erastin</text>
<line x1="554.30" y1="201.20" x2="563.50" y2="201.20" stroke="#ff2020" stroke-width="1.0" />
<rect x="557.28" y="199.58" width="3.24" height="3.24" fill="#ff2020" />
<text x="567.50" y="202.90" font-size="4.7" text-anchor="start" fill="#2a2a2a" stroke="#2a2a2a" stroke-width="0.12">si-Ctrl+Erastin</text>
<line x1="554.30" y1="211.70" x2="563.50" y2="211.70" stroke="#cc33ff" stroke-width="1.0" />
<polygon points="558.90,213.50 557.10,210.26 560.70,210.26" fill="#cc33ff"/>
<text x="567.50" y="213.40" font-size="4.7" text-anchor="start" fill="#2a2a2a" stroke="#2a2a2a" stroke-width="0.12">si-SPI1+Erastin</text>
<line x1="554.30" y1="221.50" x2="563.50" y2="221.50" stroke="#f08a2a" stroke-width="1.0" />
<polygon points="558.90,219.70 557.10,221.50 558.90,223.30 560.70,221.50" fill="#f08a2a"/>
<text x="567.50" y="223.20" font-size="4.7" text-anchor="start" fill="#2a2a2a" stroke="#2a2a2a" stroke-width="0.12">si-SPI1+Erastin+Fer-1</text>
<polyline points="655.20,188.43 659.00,188.43 659.00,206.83 655.20,206.83" fill="none" stroke="#444" stroke-width="0.7"/>
<text x="657.60" y="197.63" font-size="4.6" text-anchor="middle" fill="#333" font-weight="bold" transform="rotate(90 657.60 197.63)" >***</text>
<polyline points="659.50,188.43 662.50,188.43 662.50,210.62 659.50,210.62" fill="none" stroke="#444" stroke-width="0.7"/>
<text x="661.10" y="199.52" font-size="4.6" text-anchor="middle" fill="#333" font-weight="bold" transform="rotate(90 661.10 199.52)" >****</text>
<polyline points="664.40,188.43 668.00,188.43 668.00,237.15 664.40,237.15" fill="none" stroke="#444" stroke-width="0.7"/>
<text x="666.60" y="212.79" font-size="4.6" text-anchor="middle" fill="#333" font-weight="bold" transform="rotate(90 666.60 212.79)" >****</text>
<polyline points="655.20,213.33 658.30,213.33 658.30,236.61 655.20,236.61" fill="none" stroke="#444" stroke-width="0.7"/>
<text x="656.90" y="224.97" font-size="4.6" text-anchor="middle" fill="#333" font-weight="bold" transform="rotate(90 656.90 224.97)" >***</text>
<polygon points="47.70,340.23 47.70,340.23 48.19,340.23 48.69,340.23 49.18,340.23 49.68,340.23 50.17,340.23 50.66,340.23 51.16,340.23 51.65,340.23 52.15,340.23 52.64,340.23 53.14,340.23 53.63,340.23 54.12,340.23 54.62,340.23 55.11,340.23 55.61,340.23 56.10,340.23 56.59,340.23 57.09,340.23 57.58,340.23 58.08,340.23 58.57,340.23 59.06,340.23 59.56,340.23 60.05,340.23 60.55,340.23 61.04,340.23 61.53,340.23 62.03,340.23 62.52,340.23 63.02,340.23 63.51,340.23 64.00,340.23 64.50,340.23 64.99,340.23 65.49,340.23 65.98,340.23 66.48,340.23 66.97,340.23 67.46,340.23 67.96,340.23 68.45,340.23 68.95,340.23 69.44,340.23 69.93,340.23 70.43,340.23 70.92,340.23 71.42,340.23 71.91,340.23 72.40,340.23 72.90,340.23 73.39,340.23 73.89,340.23 74.38,340.23 74.88,340.23 75.37,340.23 75.86,340.23 76.36,340.23 76.85,340.23 77.35,340.23 77.84,340.23 78.33,340.23 78.83,340.23 79.32,340.23 79.82,340.23 80.31,340.23 80.80,340.23 81.30,340.23 81.79,340.23 82.29,340.23 82.78,340.23 83.27,340.23 83.77,340.23 84.26,340.23 84.76,340.23 85.25,340.23 85.75,340.23 86.24,340.23 86.73,340.23 87.23,340.23 87.72,340.23 88.22,340.23 88.71,340.23 89.20,340.23 89.70,340.23 90.19,340.23 90.69,340.23 91.18,340.23 91.67,340.23 92.17,340.23 92.66,340.23 93.16,340.23 93.65,340.23 94.14,340.23 94.64,340.23 95.13,340.23 95.63,340.23 96.12,340.23 96.62,340.23 97.11,340.23 97.60,340.23 98.10,340.23 98.59,340.23 99.09,340.22 99.58,340.22 100.07,340.22 100.57,340.22 101.06,340.21 101.56,340.20 102.05,340.18 102.54,340.16 103.04,340.12 103.53,340.07 104.03,339.99 104.52,339.88 105.01,339.73 105.51,339.52 106.00,339.23 106.50,338.85 106.99,338.35 107.49,337.71 107.98,336.88 108.47,335.85 108.97,334.59 109.46,333.07 109.96,331.27 110.45,329.20 110.94,326.87 111.44,324.30 111.93,321.56 112.43,318.73 112.92,315.92 113.41,313.26 113.91,310.93 114.40,309.11 114.90,308.02 115.39,308.14 115.88,309.38 116.38,311.31 116.87,313.71 117.37,316.40 117.86,319.22 118.36,322.04 118.85,324.75 119.34,327.28 119.84,329.56 120.33,331.58 120.83,333.31 121.32,334.77 121.81,335.97 122.31,336.93 122.80,337.69 123.30,338.28 123.79,338.71 124.28,339.02 124.78,339.24 125.27,339.38 125.77,339.45 126.26,339.48 126.75,339.48 127.25,339.46 127.74,339.43 128.24,339.39 128.73,339.35 129.23,339.31 129.72,339.28 130.21,339.26 130.71,339.26 131.20,339.27 131.70,339.29 132.19,339.33 132.68,339.37 133.18,339.43 133.67,339.50 134.17,339.57 134.66,339.64 135.15,339.71 135.65,339.78 136.14,339.85 136.64,339.91 137.13,339.96 137.62,340.01 138.12,340.05 138.61,340.09 139.11,340.12 139.60,340.15 140.10,340.17 140.59,340.18 141.08,340.19 141.58,340.20 142.07,340.21 142.57,340.22 143.06,340.22 143.55,340.22 144.05,340.22 144.54,340.22 145.04,340.23 145.53,340.23 146.02,340.23 146.52,340.23 147.01,340.23 147.51,340.23 148.00,340.23 148.49,340.23 148.99,340.23 149.48,340.23 149.98,340.23 150.47,340.23 150.97,340.23 151.46,340.23 151.95,340.23 152.45,340.23 152.94,340.23 153.44,340.23 153.93,340.23 154.42,340.23 154.92,340.23 155.41,340.23 155.91,340.23 156.40,340.23 156.40,340.23" fill="#ececff"/>
<polyline points="47.70,340.23 48.19,340.23 48.69,340.23 49.18,340.23 49.68,340.23 50.17,340.23 50.66,340.23 51.16,340.23 51.65,340.23 52.15,340.23 52.64,340.23 53.14,340.23 53.63,340.23 54.12,340.23 54.62,340.23 55.11,340.23 55.61,340.23 56.10,340.23 56.59,340.23 57.09,340.23 57.58,340.23 58.08,340.23 58.57,340.23 59.06,340.23 59.56,340.23 60.05,340.23 60.55,340.23 61.04,340.23 61.53,340.23 62.03,340.23 62.52,340.23 63.02,340.23 63.51,340.23 64.00,340.23 64.50,340.23 64.99,340.23 65.49,340.23 65.98,340.23 66.48,340.23 66.97,340.23 67.46,340.23 67.96,340.23 68.45,340.23 68.95,340.23 69.44,340.23 69.93,340.23 70.43,340.23 70.92,340.23 71.42,340.23 71.91,340.23 72.40,340.23 72.90,340.23 73.39,340.23 73.89,340.23 74.38,340.23 74.88,340.23 75.37,340.23 75.86,340.23 76.36,340.23 76.85,340.23 77.35,340.23 77.84,340.23 78.33,340.23 78.83,340.23 79.32,340.23 79.82,340.23 80.31,340.23 80.80,340.23 81.30,340.23 81.79,340.23 82.29,340.23 82.78,340.23 83.27,340.23 83.77,340.23 84.26,340.23 84.76,340.23 85.25,340.23 85.75,340.23 86.24,340.23 86.73,340.23 87.23,340.23 87.72,340.23 88.22,340.23 88.71,340.23 89.20,340.23 89.70,340.23 90.19,340.23 90.69,340.23 91.18,340.23 91.67,340.23 92.17,340.23 92.66,340.23 93.16,340.23 93.65,340.23 94.14,340.23 94.64,340.23 95.13,340.23 95.63,340.23 96.12,340.23 96.62,340.23 97.11,340.23 97.60,340.23 98.10,340.23 98.59,340.23 99.09,340.22 99.58,340.22 100.07,340.22 100.57,340.22 101.06,340.21 101.56,340.20 102.05,340.18 102.54,340.16 103.04,340.12 103.53,340.07 104.03,339.99 104.52,339.88 105.01,339.73 105.51,339.52 106.00,339.23 106.50,338.85 106.99,338.35 107.49,337.71 107.98,336.88 108.47,335.85 108.97,334.59 109.46,333.07 109.96,331.27 110.45,329.20 110.94,326.87 111.44,324.30 111.93,321.56 112.43,318.73 112.92,315.92 113.41,313.26 113.91,310.93 114.40,309.11 114.90,308.02 115.39,308.14 115.88,309.38 116.38,311.31 116.87,313.71 117.37,316.40 117.86,319.22 118.36,322.04 118.85,324.75 119.34,327.28 119.84,329.56 120.33,331.58 120.83,333.31 121.32,334.77 121.81,335.97 122.31,336.93 122.80,337.69 123.30,338.28 123.79,338.71 124.28,339.02 124.78,339.24 125.27,339.38 125.77,339.45 126.26,339.48 126.75,339.48 127.25,339.46 127.74,339.43 128.24,339.39 128.73,339.35 129.23,339.31 129.72,339.28 130.21,339.26 130.71,339.26 131.20,339.27 131.70,339.29 132.19,339.33 132.68,339.37 133.18,339.43 133.67,339.50 134.17,339.57 134.66,339.64 135.15,339.71 135.65,339.78 136.14,339.85 136.64,339.91 137.13,339.96 137.62,340.01 138.12,340.05 138.61,340.09 139.11,340.12 139.60,340.15 140.10,340.17 140.59,340.18 141.08,340.19 141.58,340.20 142.07,340.21 142.57,340.22 143.06,340.22 143.55,340.22 144.05,340.22 144.54,340.22 145.04,340.23 145.53,340.23 146.02,340.23 146.52,340.23 147.01,340.23 147.51,340.23 148.00,340.23 148.49,340.23 148.99,340.23 149.48,340.23 149.98,340.23 150.47,340.23 150.97,340.23 151.46,340.23 151.95,340.23 152.45,340.23 152.94,340.23 153.44,340.23 153.93,340.23 154.42,340.23 154.92,340.23 155.41,340.23 155.91,340.23 156.40,340.23" fill="none" stroke="#3a3aff" stroke-width="0.85"/>
<polygon points="47.70,358.43 47.70,358.43 48.19,358.43 48.69,358.43 49.18,358.43 49.68,358.43 50.17,358.43 50.66,358.43 51.16,358.43 51.65,358.43 52.15,358.43 52.64,358.43 53.14,358.43 53.63,358.43 54.12,358.43 54.62,358.43 55.11,358.43 55.61,358.43 56.10,358.43 56.59,358.43 57.09,358.43 57.58,358.43 58.08,358.43 58.57,358.43 59.06,358.43 59.56,358.43 60.05,358.43 60.55,358.43 61.04,358.43 61.53,358.43 62.03,358.43 62.52,358.43 63.02,358.43 63.51,358.43 64.00,358.43 64.50,358.43 64.99,358.43 65.49,358.43 65.98,358.43 66.48,358.43 66.97,358.43 67.46,358.43 67.96,358.43 68.45,358.43 68.95,358.43 69.44,358.43 69.93,358.43 70.43,358.43 70.92,358.43 71.42,358.43 71.91,358.43 72.40,358.43 72.90,358.43 73.39,358.43 73.89,358.43 74.38,358.43 74.88,358.43 75.37,358.43 75.86,358.43 76.36,358.43 76.85,358.43 77.35,358.43 77.84,358.43 78.33,358.43 78.83,358.43 79.32,358.43 79.82,358.43 80.31,358.43 80.80,358.43 81.30,358.43 81.79,358.43 82.29,358.43 82.78,358.43 83.27,358.43 83.77,358.43 84.26,358.43 84.76,358.43 85.25,358.43 85.75,358.43 86.24,358.43 86.73,358.43 87.23,358.43 87.72,358.43 88.22,358.43 88.71,358.43 89.20,358.43 89.70,358.43 90.19,358.43 90.69,358.43 91.18,358.43 91.67,358.43 92.17,358.43 92.66,358.43 93.16,358.43 93.65,358.43 94.14,358.43 94.64,358.43 95.13,358.43 95.63,358.43 96.12,358.43 96.62,358.43 97.11,358.43 97.60,358.43 98.10,358.42 98.59,358.42 99.09,358.42 99.58,358.42 100.07,358.41 100.57,358.40 101.06,358.39 101.56,358.37 102.05,358.35 102.54,358.31 103.04,358.27 103.53,358.20 104.03,358.12 104.52,358.00 105.01,357.85 105.51,357.65 106.00,357.39 106.50,357.05 106.99,356.63 107.49,356.11 107.98,355.46 108.47,354.68 108.97,353.73 109.46,352.61 109.96,351.30 110.45,349.79 110.94,348.09 111.44,346.18 111.93,344.10 112.43,341.87 112.92,339.54 113.41,337.15 113.91,334.78 114.40,332.52 114.90,330.45 115.39,328.70 115.88,327.39 116.38,326.68 116.87,326.83 117.37,327.47 117.86,328.44 118.36,329.66 118.85,331.08 119.34,332.64 119.84,334.27 120.33,335.94 120.83,337.59 121.32,339.18 121.81,340.67 122.31,342.04 122.80,343.27 123.30,344.35 123.79,345.27 124.28,346.07 124.78,346.75 125.27,347.36 125.77,347.91 126.26,348.46 126.75,349.03 127.25,349.64 127.74,350.30 128.24,351.02 128.73,351.78 129.23,352.57 129.72,353.37 130.21,354.15 130.71,354.88 131.20,355.55 131.70,356.15 132.19,356.66 132.68,357.08 133.18,357.43 133.67,357.70 134.17,357.91 134.66,358.06 135.15,358.17 135.65,358.25 136.14,358.31 136.64,358.35 137.13,358.37 137.62,358.39 138.12,358.40 138.61,358.41 139.11,358.42 139.60,358.42 140.10,358.42 140.59,358.42 141.08,358.42 141.58,358.43 142.07,358.43 142.57,358.43 143.06,358.43 143.55,358.43 144.05,358.43 144.54,358.43 145.04,358.43 145.53,358.43 146.02,358.43 146.52,358.43 147.01,358.43 147.51,358.43 148.00,358.43 148.49,358.43 148.99,358.43 149.48,358.43 149.98,358.43 150.47,358.43 150.97,358.43 151.46,358.43 151.95,358.43 152.45,358.43 152.94,358.43 153.44,358.43 153.93,358.43 154.42,358.43 154.92,358.43 155.41,358.43 155.91,358.43 156.40,358.43 156.40,358.43" fill="#fde8e8"/>
<polyline points="47.70,358.43 48.19,358.43 48.69,358.43 49.18,358.43 49.68,358.43 50.17,358.43 50.66,358.43 51.16,358.43 51.65,358.43 52.15,358.43 52.64,358.43 53.14,358.43 53.63,358.43 54.12,358.43 54.62,358.43 55.11,358.43 55.61,358.43 56.10,358.43 56.59,358.43 57.09,358.43 57.58,358.43 58.08,358.43 58.57,358.43 59.06,358.43 59.56,358.43 60.05,358.43 60.55,358.43 61.04,358.43 61.53,358.43 62.03,358.43 62.52,358.43 63.02,358.43 63.51,358.43 64.00,358.43 64.50,358.43 64.99,358.43 65.49,358.43 65.98,358.43 66.48,358.43 66.97,358.43 67.46,358.43 67.96,358.43 68.45,358.43 68.95,358.43 69.44,358.43 69.93,358.43 70.43,358.43 70.92,358.43 71.42,358.43 71.91,358.43 72.40,358.43 72.90,358.43 73.39,358.43 73.89,358.43 74.38,358.43 74.88,358.43 75.37,358.43 75.86,358.43 76.36,358.43 76.85,358.43 77.35,358.43 77.84,358.43 78.33,358.43 78.83,358.43 79.32,358.43 79.82,358.43 80.31,358.43 80.80,358.43 81.30,358.43 81.79,358.43 82.29,358.43 82.78,358.43 83.27,358.43 83.77,358.43 84.26,358.43 84.76,358.43 85.25,358.43 85.75,358.43 86.24,358.43 86.73,358.43 87.23,358.43 87.72,358.43 88.22,358.43 88.71,358.43 89.20,358.43 89.70,358.43 90.19,358.43 90.69,358.43 91.18,358.43 91.67,358.43 92.17,358.43 92.66,358.43 93.16,358.43 93.65,358.43 94.14,358.43 94.64,358.43 95.13,358.43 95.63,358.43 96.12,358.43 96.62,358.43 97.11,358.43 97.60,358.43 98.10,358.42 98.59,358.42 99.09,358.42 99.58,358.42 100.07,358.41 100.57,358.40 101.06,358.39 101.56,358.37 102.05,358.35 102.54,358.31 103.04,358.27 103.53,358.20 104.03,358.12 104.52,358.00 105.01,357.85 105.51,357.65 106.00,357.39 106.50,357.05 106.99,356.63 107.49,356.11 107.98,355.46 108.47,354.68 108.97,353.73 109.46,352.61 109.96,351.30 110.45,349.79 110.94,348.09 111.44,346.18 111.93,344.10 112.43,341.87 112.92,339.54 113.41,337.15 113.91,334.78 114.40,332.52 114.90,330.45 115.39,328.70 115.88,327.39 116.38,326.68 116.87,326.83 117.37,327.47 117.86,328.44 118.36,329.66 118.85,331.08 119.34,332.64 119.84,334.27 120.33,335.94 120.83,337.59 121.32,339.18 121.81,340.67 122.31,342.04 122.80,343.27 123.30,344.35 123.79,345.27 124.28,346.07 124.78,346.75 125.27,347.36 125.77,347.91 126.26,348.46 126.75,349.03 127.25,349.64 127.74,350.30 128.24,351.02 128.73,351.78 129.23,352.57 129.72,353.37 130.21,354.15 130.71,354.88 131.20,355.55 131.70,356.15 132.19,356.66 132.68,357.08 133.18,357.43 133.67,357.70 134.17,357.91 134.66,358.06 135.15,358.17 135.65,358.25 136.14,358.31 136.64,358.35 137.13,358.37 137.62,358.39 138.12,358.40 138.61,358.41 139.11,358.42 139.60,358.42 140.10,358.42 140.59,358.42 141.08,358.42 141.58,358.43 142.07,358.43 142.57,358.43 143.06,358.43 143.55,358.43 144.05,358.43 144.54,358.43 145.04,358.43 145.53,358.43 146.02,358.43 146.52,358.43 147.01,358.43 147.51,358.43 148.00,358.43 148.49,358.43 148.99,358.43 149.48,358.43 149.98,358.43 150.47,358.43 150.97,358.43 151.46,358.43 151.95,358.43 152.45,358.43 152.94,358.43 153.44,358.43 153.93,358.43 154.42,358.43 154.92,358.43 155.41,358.43 155.91,358.43 156.40,358.43" fill="none" stroke="#ff3a3a" stroke-width="0.85"/>
<polygon points="47.70,376.24 47.70,376.24 48.19,376.24 48.69,376.24 49.18,376.24 49.68,376.24 50.17,376.24 50.66,376.24 51.16,376.24 51.65,376.24 52.15,376.24 52.64,376.24 53.14,376.24 53.63,376.24 54.12,376.24 54.62,376.24 55.11,376.24 55.61,376.24 56.10,376.24 56.59,376.24 57.09,376.24 57.58,376.24 58.08,376.24 58.57,376.24 59.06,376.24 59.56,376.24 60.05,376.24 60.55,376.24 61.04,376.24 61.53,376.24 62.03,376.24 62.52,376.24 63.02,376.24 63.51,376.24 64.00,376.24 64.50,376.24 64.99,376.24 65.49,376.24 65.98,376.24 66.48,376.24 66.97,376.24 67.46,376.24 67.96,376.24 68.45,376.24 68.95,376.24 69.44,376.24 69.93,376.24 70.43,376.24 70.92,376.24 71.42,376.24 71.91,376.24 72.40,376.24 72.90,376.24 73.39,376.24 73.89,376.24 74.38,376.24 74.88,376.24 75.37,376.24 75.86,376.24 76.36,376.24 76.85,376.24 77.35,376.24 77.84,376.24 78.33,376.24 78.83,376.24 79.32,376.24 79.82,376.24 80.31,376.24 80.80,376.24 81.30,376.24 81.79,376.24 82.29,376.24 82.78,376.24 83.27,376.24 83.77,376.24 84.26,376.24 84.76,376.24 85.25,376.24 85.75,376.24 86.24,376.24 86.73,376.24 87.23,376.24 87.72,376.24 88.22,376.24 88.71,376.24 89.20,376.24 89.70,376.24 90.19,376.24 90.69,376.24 91.18,376.24 91.67,376.24 92.17,376.24 92.66,376.24 93.16,376.24 93.65,376.24 94.14,376.24 94.64,376.24 95.13,376.24 95.63,376.24 96.12,376.24 96.62,376.24 97.11,376.24 97.60,376.24 98.10,376.23 98.59,376.23 99.09,376.22 99.58,376.21 100.07,376.19 100.57,376.18 101.06,376.15 101.56,376.11 102.05,376.07 102.54,376.00 103.04,375.92 103.53,375.81 104.03,375.67 104.52,375.49 105.01,375.26 105.51,374.97 106.00,374.62 106.50,374.18 106.99,373.64 107.49,372.99 107.98,372.22 108.47,371.31 108.97,370.25 109.46,369.03 109.96,367.64 110.45,366.09 110.94,364.37 111.44,362.50 111.93,360.49 112.43,358.39 112.92,356.22 113.41,354.04 113.91,351.90 114.40,349.86 114.90,348.01 115.39,346.43 115.88,345.19 116.38,344.44 116.87,344.35 117.37,344.63 117.86,345.12 118.36,345.77 118.85,346.52 119.34,347.37 119.84,348.28 120.33,349.26 120.83,350.33 121.32,351.48 121.81,352.75 122.31,354.13 122.80,355.63 123.30,357.25 123.79,358.95 124.28,360.71 124.78,362.48 125.27,364.21 125.77,365.87 126.26,367.41 126.75,368.80 127.25,370.04 127.74,371.12 128.24,372.04 128.73,372.81 129.23,373.44 129.72,373.97 130.21,374.40 130.71,374.75 131.20,375.03 131.70,375.26 132.19,375.45 132.68,375.60 133.18,375.73 133.67,375.83 134.17,375.91 134.66,375.98 135.15,376.03 135.65,376.08 136.14,376.11 136.64,376.14 137.13,376.16 137.62,376.18 138.12,376.20 138.61,376.21 139.11,376.21 139.60,376.22 140.10,376.23 140.59,376.23 141.08,376.23 141.58,376.24 142.07,376.24 142.57,376.24 143.06,376.24 143.55,376.24 144.05,376.24 144.54,376.24 145.04,376.24 145.53,376.24 146.02,376.24 146.52,376.24 147.01,376.24 147.51,376.24 148.00,376.24 148.49,376.24 148.99,376.24 149.48,376.24 149.98,376.24 150.47,376.24 150.97,376.24 151.46,376.24 151.95,376.24 152.45,376.24 152.94,376.24 153.44,376.24 153.93,376.24 154.42,376.24 154.92,376.24 155.41,376.24 155.91,376.24 156.40,376.24 156.40,376.24" fill="#e6f7e6"/>
<polyline points="47.70,376.24 48.19,376.24 48.69,376.24 49.18,376.24 49.68,376.24 50.17,376.24 50.66,376.24 51.16,376.24 51.65,376.24 52.15,376.24 52.64,376.24 53.14,376.24 53.63,376.24 54.12,376.24 54.62,376.24 55.11,376.24 55.61,376.24 56.10,376.24 56.59,376.24 57.09,376.24 57.58,376.24 58.08,376.24 58.57,376.24 59.06,376.24 59.56,376.24 60.05,376.24 60.55,376.24 61.04,376.24 61.53,376.24 62.03,376.24 62.52,376.24 63.02,376.24 63.51,376.24 64.00,376.24 64.50,376.24 64.99,376.24 65.49,376.24 65.98,376.24 66.48,376.24 66.97,376.24 67.46,376.24 67.96,376.24 68.45,376.24 68.95,376.24 69.44,376.24 69.93,376.24 70.43,376.24 70.92,376.24 71.42,376.24 71.91,376.24 72.40,376.24 72.90,376.24 73.39,376.24 73.89,376.24 74.38,376.24 74.88,376.24 75.37,376.24 75.86,376.24 76.36,376.24 76.85,376.24 77.35,376.24 77.84,376.24 78.33,376.24 78.83,376.24 79.32,376.24 79.82,376.24 80.31,376.24 80.80,376.24 81.30,376.24 81.79,376.24 82.29,376.24 82.78,376.24 83.27,376.24 83.77,376.24 84.26,376.24 84.76,376.24 85.25,376.24 85.75,376.24 86.24,376.24 86.73,376.24 87.23,376.24 87.72,376.24 88.22,376.24 88.71,376.24 89.20,376.24 89.70,376.24 90.19,376.24 90.69,376.24 91.18,376.24 91.67,376.24 92.17,376.24 92.66,376.24 93.16,376.24 93.65,376.24 94.14,376.24 94.64,376.24 95.13,376.24 95.63,376.24 96.12,376.24 96.62,376.24 97.11,376.24 97.60,376.24 98.10,376.23 98.59,376.23 99.09,376.22 99.58,376.21 100.07,376.19 100.57,376.18 101.06,376.15 101.56,376.11 102.05,376.07 102.54,376.00 103.04,375.92 103.53,375.81 104.03,375.67 104.52,375.49 105.01,375.26 105.51,374.97 106.00,374.62 106.50,374.18 106.99,373.64 107.49,372.99 107.98,372.22 108.47,371.31 108.97,370.25 109.46,369.03 109.96,367.64 110.45,366.09 110.94,364.37 111.44,362.50 111.93,360.49 112.43,358.39 112.92,356.22 113.41,354.04 113.91,351.90 114.40,349.86 114.90,348.01 115.39,346.43 115.88,345.19 116.38,344.44 116.87,344.35 117.37,344.63 117.86,345.12 118.36,345.77 118.85,346.52 119.34,347.37 119.84,348.28 120.33,349.26 120.83,350.33 121.32,351.48 121.81,352.75 122.31,354.13 122.80,355.63 123.30,357.25 123.79,358.95 124.28,360.71 124.78,362.48 125.27,364.21 125.77,365.87 126.26,367.41 126.75,368.80 127.25,370.04 127.74,371.12 128.24,372.04 128.73,372.81 129.23,373.44 129.72,373.97 130.21,374.40 130.71,374.75 131.20,375.03 131.70,375.26 132.19,375.45 132.68,375.60 133.18,375.73 133.67,375.83 134.17,375.91 134.66,375.98 135.15,376.03 135.65,376.08 136.14,376.11 136.64,376.14 137.13,376.16 137.62,376.18 138.12,376.20 138.61,376.21 139.11,376.21 139.60,376.22 140.10,376.23 140.59,376.23 141.08,376.23 141.58,376.24 142.07,376.24 142.57,376.24 143.06,376.24 143.55,376.24 144.05,376.24 144.54,376.24 145.04,376.24 145.53,376.24 146.02,376.24 146.52,376.24 147.01,376.24 147.51,376.24 148.00,376.24 148.49,376.24 148.99,376.24 149.48,376.24 149.98,376.24 150.47,376.24 150.97,376.24 151.46,376.24 151.95,376.24 152.45,376.24 152.94,376.24 153.44,376.24 153.93,376.24 154.42,376.24 154.92,376.24 155.41,376.24 155.91,376.24 156.40,376.24" fill="none" stroke="#28c028" stroke-width="0.85"/>
<polygon points="47.70,393.58 47.70,393.58 48.19,393.58 48.69,393.58 49.18,393.58 49.68,393.58 50.17,393.58 50.66,393.58 51.16,393.58 51.65,393.58 52.15,393.58 52.64,393.58 53.14,393.58 53.63,393.58 54.12,393.58 54.62,393.58 55.11,393.58 55.61,393.58 56.10,393.58 56.59,393.58 57.09,393.58 57.58,393.58 58.08,393.58 58.57,393.58 59.06,393.58 59.56,393.58 60.05,393.58 60.55,393.58 61.04,393.58 61.53,393.58 62.03,393.58 62.52,393.58 63.02,393.58 63.51,393.58 64.00,393.58 64.50,393.58 64.99,393.58 65.49,393.58 65.98,393.58 66.48,393.58 66.97,393.58 67.46,393.58 67.96,393.58 68.45,393.58 68.95,393.58 69.44,393.58 69.93,393.58 70.43,393.58 70.92,393.58 71.42,393.58 71.91,393.58 72.40,393.58 72.90,393.58 73.39,393.58 73.89,393.58 74.38,393.58 74.88,393.58 75.37,393.58 75.86,393.58 76.36,393.58 76.85,393.58 77.35,393.58 77.84,393.58 78.33,393.58 78.83,393.58 79.32,393.58 79.82,393.58 80.31,393.58 80.80,393.58 81.30,393.58 81.79,393.58 82.29,393.58 82.78,393.58 83.27,393.58 83.77,393.58 84.26,393.58 84.76,393.58 85.25,393.58 85.75,393.58 86.24,393.58 86.73,393.58 87.23,393.58 87.72,393.58 88.22,393.58 88.71,393.58 89.20,393.58 89.70,393.58 90.19,393.58 90.69,393.58 91.18,393.58 91.67,393.58 92.17,393.58 92.66,393.58 93.16,393.58 93.65,393.58 94.14,393.58 94.64,393.58 95.13,393.58 95.63,393.58 96.12,393.58 96.62,393.58 97.11,393.58 97.60,393.58 98.10,393.58 98.59,393.58 99.09,393.58 99.58,393.58 100.07,393.57 100.57,393.57 101.06,393.57 101.56,393.57 102.05,393.56 102.54,393.56 103.04,393.55 103.53,393.53 104.03,393.52 104.52,393.49 105.01,393.46 105.51,393.41 106.00,393.35 106.50,393.27 106.99,393.16 107.49,393.02 107.98,392.83 108.47,392.60 108.97,392.30 109.46,391.93 109.96,391.47 110.45,390.91 110.94,390.23 111.44,389.41 111.93,388.45 112.43,387.32 112.92,386.01 113.41,384.53 113.91,382.87 114.40,381.02 114.90,379.02 115.39,376.89 115.88,374.65 116.38,372.36 116.87,370.08 117.37,367.87 117.86,365.82 118.36,364.01 118.85,362.55 119.34,361.57 119.84,361.28 120.33,361.82 120.83,362.85 121.32,364.25 121.81,365.92 122.31,367.79 122.80,369.77 123.30,371.80 123.79,373.83 124.28,375.80 124.78,377.69 125.27,379.45 125.77,381.08 126.26,382.56 126.75,383.90 127.25,385.08 127.74,386.12 128.24,387.04 128.73,387.83 129.23,388.52 129.72,389.11 130.21,389.63 130.71,390.07 131.20,390.46 131.70,390.81 132.19,391.11 132.68,391.39 133.18,391.63 133.67,391.86 134.17,392.06 134.66,392.24 135.15,392.41 135.65,392.57 136.14,392.70 136.64,392.83 137.13,392.94 137.62,393.04 138.12,393.13 138.61,393.21 139.11,393.27 139.60,393.33 140.10,393.38 140.59,393.42 141.08,393.45 141.58,393.48 142.07,393.50 142.57,393.52 143.06,393.53 143.55,393.54 144.05,393.55 144.54,393.56 145.04,393.56 145.53,393.57 146.02,393.57 146.52,393.57 147.01,393.57 147.51,393.57 148.00,393.58 148.49,393.58 148.99,393.58 149.48,393.58 149.98,393.58 150.47,393.58 150.97,393.58 151.46,393.58 151.95,393.58 152.45,393.58 152.94,393.58 153.44,393.58 153.93,393.58 154.42,393.58 154.92,393.58 155.41,393.58 155.91,393.58 156.40,393.58 156.40,393.58" fill="#eee8f6"/>
<polyline points="47.70,393.58 48.19,393.58 48.69,393.58 49.18,393.58 49.68,393.58 50.17,393.58 50.66,393.58 51.16,393.58 51.65,393.58 52.15,393.58 52.64,393.58 53.14,393.58 53.63,393.58 54.12,393.58 54.62,393.58 55.11,393.58 55.61,393.58 56.10,393.58 56.59,393.58 57.09,393.58 57.58,393.58 58.08,393.58 58.57,393.58 59.06,393.58 59.56,393.58 60.05,393.58 60.55,393.58 61.04,393.58 61.53,393.58 62.03,393.58 62.52,393.58 63.02,393.58 63.51,393.58 64.00,393.58 64.50,393.58 64.99,393.58 65.49,393.58 65.98,393.58 66.48,393.58 66.97,393.58 67.46,393.58 67.96,393.58 68.45,393.58 68.95,393.58 69.44,393.58 69.93,393.58 70.43,393.58 70.92,393.58 71.42,393.58 71.91,393.58 72.40,393.58 72.90,393.58 73.39,393.58 73.89,393.58 74.38,393.58 74.88,393.58 75.37,393.58 75.86,393.58 76.36,393.58 76.85,393.58 77.35,393.58 77.84,393.58 78.33,393.58 78.83,393.58 79.32,393.58 79.82,393.58 80.31,393.58 80.80,393.58 81.30,393.58 81.79,393.58 82.29,393.58 82.78,393.58 83.27,393.58 83.77,393.58 84.26,393.58 84.76,393.58 85.25,393.58 85.75,393.58 86.24,393.58 86.73,393.58 87.23,393.58 87.72,393.58 88.22,393.58 88.71,393.58 89.20,393.58 89.70,393.58 90.19,393.58 90.69,393.58 91.18,393.58 91.67,393.58 92.17,393.58 92.66,393.58 93.16,393.58 93.65,393.58 94.14,393.58 94.64,393.58 95.13,393.58 95.63,393.58 96.12,393.58 96.62,393.58 97.11,393.58 97.60,393.58 98.10,393.58 98.59,393.58 99.09,393.58 99.58,393.58 100.07,393.57 100.57,393.57 101.06,393.57 101.56,393.57 102.05,393.56 102.54,393.56 103.04,393.55 103.53,393.53 104.03,393.52 104.52,393.49 105.01,393.46 105.51,393.41 106.00,393.35 106.50,393.27 106.99,393.16 107.49,393.02 107.98,392.83 108.47,392.60 108.97,392.30 109.46,391.93 109.96,391.47 110.45,390.91 110.94,390.23 111.44,389.41 111.93,388.45 112.43,387.32 112.92,386.01 113.41,384.53 113.91,382.87 114.40,381.02 114.90,379.02 115.39,376.89 115.88,374.65 116.38,372.36 116.87,370.08 117.37,367.87 117.86,365.82 118.36,364.01 118.85,362.55 119.34,361.57 119.84,361.28 120.33,361.82 120.83,362.85 121.32,364.25 121.81,365.92 122.31,367.79 122.80,369.77 123.30,371.80 123.79,373.83 124.28,375.80 124.78,377.69 125.27,379.45 125.77,381.08 126.26,382.56 126.75,383.90 127.25,385.08 127.74,386.12 128.24,387.04 128.73,387.83 129.23,388.52 129.72,389.11 130.21,389.63 130.71,390.07 131.20,390.46 131.70,390.81 132.19,391.11 132.68,391.39 133.18,391.63 133.67,391.86 134.17,392.06 134.66,392.24 135.15,392.41 135.65,392.57 136.14,392.70 136.64,392.83 137.13,392.94 137.62,393.04 138.12,393.13 138.61,393.21 139.11,393.27 139.60,393.33 140.10,393.38 140.59,393.42 141.08,393.45 141.58,393.48 142.07,393.50 142.57,393.52 143.06,393.53 143.55,393.54 144.05,393.55 144.54,393.56 145.04,393.56 145.53,393.57 146.02,393.57 146.52,393.57 147.01,393.57 147.51,393.57 148.00,393.58 148.49,393.58 148.99,393.58 149.48,393.58 149.98,393.58 150.47,393.58 150.97,393.58 151.46,393.58 151.95,393.58 152.45,393.58 152.94,393.58 153.44,393.58 153.93,393.58 154.42,393.58 154.92,393.58 155.41,393.58 155.91,393.58 156.40,393.58" fill="none" stroke="#6a30c0" stroke-width="0.85"/>
<polygon points="47.70,411.20 47.70,411.20 48.19,411.20 48.69,411.20 49.18,411.20 49.68,411.20 50.17,411.20 50.66,411.20 51.16,411.20 51.65,411.20 52.15,411.20 52.64,411.20 53.14,411.20 53.63,411.20 54.12,411.20 54.62,411.20 55.11,411.20 55.61,411.20 56.10,411.20 56.59,411.20 57.09,411.20 57.58,411.20 58.08,411.20 58.57,411.20 59.06,411.20 59.56,411.20 60.05,411.20 60.55,411.20 61.04,411.20 61.53,411.20 62.03,411.20 62.52,411.20 63.02,411.20 63.51,411.20 64.00,411.20 64.50,411.20 64.99,411.20 65.49,411.20 65.98,411.20 66.48,411.20 66.97,411.20 67.46,411.20 67.96,411.20 68.45,411.20 68.95,411.20 69.44,411.20 69.93,411.20 70.43,411.20 70.92,411.20 71.42,411.20 71.91,411.20 72.40,411.20 72.90,411.20 73.39,411.20 73.89,411.20 74.38,411.20 74.88,411.20 75.37,411.20 75.86,411.20 76.36,411.20 76.85,411.20 77.35,411.20 77.84,411.20 78.33,411.20 78.83,411.20 79.32,411.20 79.82,411.20 80.31,411.20 80.80,411.20 81.30,411.20 81.79,411.20 82.29,411.20 82.78,411.20 83.27,411.20 83.77,411.20 84.26,411.20 84.76,411.20 85.25,411.20 85.75,411.20 86.24,411.20 86.73,411.20 87.23,411.20 87.72,411.20 88.22,411.20 88.71,411.20 89.20,411.20 89.70,411.20 90.19,411.20 90.69,411.20 91.18,411.20 91.67,411.20 92.17,411.20 92.66,411.20 93.16,411.20 93.65,411.20 94.14,411.20 94.64,411.20 95.13,411.20 95.63,411.20 96.12,411.20 96.62,411.20 97.11,411.20 97.60,411.20 98.10,411.20 98.59,411.19 99.09,411.19 99.58,411.19 100.07,411.18 100.57,411.17 101.06,411.17 101.56,411.15 102.05,411.13 102.54,411.11 103.04,411.08 103.53,411.04 104.03,410.99 104.52,410.92 105.01,410.83 105.51,410.72 106.00,410.57 106.50,410.39 106.99,410.17 107.49,409.90 107.98,409.56 108.47,409.15 108.97,408.66 109.46,408.07 109.96,407.39 110.45,406.58 110.94,405.65 111.44,404.58 111.93,403.37 112.43,402.01 112.92,400.51 113.41,398.87 113.91,397.10 114.40,395.22 114.90,393.25 115.39,391.23 115.88,389.18 116.38,387.17 116.87,385.24 117.37,383.45 117.86,381.87 118.36,380.57 118.85,379.64 119.34,379.23 119.84,379.59 120.33,380.44 120.83,381.65 121.32,383.13 121.81,384.81 122.31,386.61 122.80,388.47 123.30,390.35 123.79,392.20 124.28,393.98 124.78,395.68 125.27,397.28 125.77,398.76 126.26,400.12 126.75,401.38 127.25,402.52 127.74,403.55 128.24,404.49 128.73,405.34 129.23,406.11 129.72,406.80 130.21,407.42 130.71,407.98 131.20,408.48 131.70,408.92 132.19,409.31 132.68,409.64 133.18,409.93 133.67,410.18 134.17,410.39 134.66,410.56 135.15,410.71 135.65,410.82 136.14,410.91 136.64,410.99 137.13,411.04 137.62,411.09 138.12,411.12 138.61,411.14 139.11,411.16 139.60,411.17 140.10,411.18 140.59,411.19 141.08,411.19 141.58,411.19 142.07,411.20 142.57,411.20 143.06,411.20 143.55,411.20 144.05,411.20 144.54,411.20 145.04,411.20 145.53,411.20 146.02,411.20 146.52,411.20 147.01,411.20 147.51,411.20 148.00,411.20 148.49,411.20 148.99,411.20 149.48,411.20 149.98,411.20 150.47,411.20 150.97,411.20 151.46,411.20 151.95,411.20 152.45,411.20 152.94,411.20 153.44,411.20 153.93,411.20 154.42,411.20 154.92,411.20 155.41,411.20 155.91,411.20 156.40,411.20 156.40,411.20" fill="#f3eedb"/>
<polyline points="47.70,411.20 48.19,411.20 48.69,411.20 49.18,411.20 49.68,411.20 50.17,411.20 50.66,411.20 51.16,411.20 51.65,411.20 52.15,411.20 52.64,411.20 53.14,411.20 53.63,411.20 54.12,411.20 54.62,411.20 55.11,411.20 55.61,411.20 56.10,411.20 56.59,411.20 57.09,411.20 57.58,411.20 58.08,411.20 58.57,411.20 59.06,411.20 59.56,411.20 60.05,411.20 60.55,411.20 61.04,411.20 61.53,411.20 62.03,411.20 62.52,411.20 63.02,411.20 63.51,411.20 64.00,411.20 64.50,411.20 64.99,411.20 65.49,411.20 65.98,411.20 66.48,411.20 66.97,411.20 67.46,411.20 67.96,411.20 68.45,411.20 68.95,411.20 69.44,411.20 69.93,411.20 70.43,411.20 70.92,411.20 71.42,411.20 71.91,411.20 72.40,411.20 72.90,411.20 73.39,411.20 73.89,411.20 74.38,411.20 74.88,411.20 75.37,411.20 75.86,411.20 76.36,411.20 76.85,411.20 77.35,411.20 77.84,411.20 78.33,411.20 78.83,411.20 79.32,411.20 79.82,411.20 80.31,411.20 80.80,411.20 81.30,411.20 81.79,411.20 82.29,411.20 82.78,411.20 83.27,411.20 83.77,411.20 84.26,411.20 84.76,411.20 85.25,411.20 85.75,411.20 86.24,411.20 86.73,411.20 87.23,411.20 87.72,411.20 88.22,411.20 88.71,411.20 89.20,411.20 89.70,411.20 90.19,411.20 90.69,411.20 91.18,411.20 91.67,411.20 92.17,411.20 92.66,411.20 93.16,411.20 93.65,411.20 94.14,411.20 94.64,411.20 95.13,411.20 95.63,411.20 96.12,411.20 96.62,411.20 97.11,411.20 97.60,411.20 98.10,411.20 98.59,411.19 99.09,411.19 99.58,411.19 100.07,411.18 100.57,411.17 101.06,411.17 101.56,411.15 102.05,411.13 102.54,411.11 103.04,411.08 103.53,411.04 104.03,410.99 104.52,410.92 105.01,410.83 105.51,410.72 106.00,410.57 106.50,410.39 106.99,410.17 107.49,409.90 107.98,409.56 108.47,409.15 108.97,408.66 109.46,408.07 109.96,407.39 110.45,406.58 110.94,405.65 111.44,404.58 111.93,403.37 112.43,402.01 112.92,400.51 113.41,398.87 113.91,397.10 114.40,395.22 114.90,393.25 115.39,391.23 115.88,389.18 116.38,387.17 116.87,385.24 117.37,383.45 117.86,381.87 118.36,380.57 118.85,379.64 119.34,379.23 119.84,379.59 120.33,380.44 120.83,381.65 121.32,383.13 121.81,384.81 122.31,386.61 122.80,388.47 123.30,390.35 123.79,392.20 124.28,393.98 124.78,395.68 125.27,397.28 125.77,398.76 126.26,400.12 126.75,401.38 127.25,402.52 127.74,403.55 128.24,404.49 128.73,405.34 129.23,406.11 129.72,406.80 130.21,407.42 130.71,407.98 131.20,408.48 131.70,408.92 132.19,409.31 132.68,409.64 133.18,409.93 133.67,410.18 134.17,410.39 134.66,410.56 135.15,410.71 135.65,410.82 136.14,410.91 136.64,410.99 137.13,411.04 137.62,411.09 138.12,411.12 138.61,411.14 139.11,411.16 139.60,411.17 140.10,411.18 140.59,411.19 141.08,411.19 141.58,411.19 142.07,411.20 142.57,411.20 143.06,411.20 143.55,411.20 144.05,411.20 144.54,411.20 145.04,411.20 145.53,411.20 146.02,411.20 146.52,411.20 147.01,411.20 147.51,411.20 148.00,411.20 148.49,411.20 148.99,411.20 149.48,411.20 149.98,411.20 150.47,411.20 150.97,411.20 151.46,411.20 151.95,411.20 152.45,411.20 152.94,411.20 153.44,411.20 153.93,411.20 154.42,411.20 154.92,411.20 155.41,411.20 155.91,411.20 156.40,411.20" fill="none" stroke="#c08a30" stroke-width="0.85"/>
<rect x="48.20" y="305.00" width="80.80" height="41.00" fill="#fff" opacity="0.72"/>
<rect x="47.70" y="304.50" width="108.70" height="106.70" fill="none" stroke="#333" stroke-width="0.8"/>
<line x1="47.30" y1="411.20" x2="156.80" y2="411.20" stroke="#222" stroke-width="1.1" />
<line x1="45.70" y1="411.20" x2="47.70" y2="411.20" stroke="#222" stroke-width="0.7" />
<text x="44.40" y="411.20" font-size="5.0" text-anchor="middle" fill="#222" transform="rotate(-90 44.40 411.20)" >0</text>
<line x1="45.70" y1="391.94" x2="47.70" y2="391.94" stroke="#222" stroke-width="0.7" />
<text x="44.40" y="391.94" font-size="5.0" text-anchor="middle" fill="#222" transform="rotate(-90 44.40 391.94)" >20</text>
<line x1="45.70" y1="372.68" x2="47.70" y2="372.68" stroke="#222" stroke-width="0.7" />
<text x="44.40" y="372.68" font-size="5.0" text-anchor="middle" fill="#222" transform="rotate(-90 44.40 372.68)" >40</text>
<line x1="45.70" y1="353.42" x2="47.70" y2="353.42" stroke="#222" stroke-width="0.7" />
<text x="44.40" y="353.42" font-size="5.0" text-anchor="middle" fill="#222" transform="rotate(-90 44.40 353.42)" >60</text>
<line x1="45.70" y1="334.16" x2="47.70" y2="334.16" stroke="#222" stroke-width="0.7" />
<text x="44.40" y="334.16" font-size="5.0" text-anchor="middle" fill="#222" transform="rotate(-90 44.40 334.16)" >80</text>
<line x1="45.70" y1="314.90" x2="47.70" y2="314.90" stroke="#222" stroke-width="0.7" />
<text x="44.40" y="314.90" font-size="5.0" text-anchor="middle" fill="#222" transform="rotate(-90 44.40 314.90)" >100</text>
<line x1="46.30" y1="407.35" x2="47.70" y2="407.35" stroke="#333" stroke-width="0.5" />
<line x1="46.30" y1="403.50" x2="47.70" y2="403.50" stroke="#333" stroke-width="0.5" />
<line x1="46.30" y1="399.64" x2="47.70" y2="399.64" stroke="#333" stroke-width="0.5" />
<line x1="46.30" y1="395.79" x2="47.70" y2="395.79" stroke="#333" stroke-width="0.5" />
<line x1="46.30" y1="388.09" x2="47.70" y2="388.09" stroke="#333" stroke-width="0.5" />
<line x1="46.30" y1="384.24" x2="47.70" y2="384.24" stroke="#333" stroke-width="0.5" />
<line x1="46.30" y1="380.38" x2="47.70" y2="380.38" stroke="#333" stroke-width="0.5" />
<line x1="46.30" y1="376.53" x2="47.70" y2="376.53" stroke="#333" stroke-width="0.5" />
<line x1="46.30" y1="368.83" x2="47.70" y2="368.83" stroke="#333" stroke-width="0.5" />
<line x1="46.30" y1="364.98" x2="47.70" y2="364.98" stroke="#333" stroke-width="0.5" />
<line x1="46.30" y1="361.12" x2="47.70" y2="361.12" stroke="#333" stroke-width="0.5" />
<line x1="46.30" y1="357.27" x2="47.70" y2="357.27" stroke="#333" stroke-width="0.5" />
<line x1="46.30" y1="349.57" x2="47.70" y2="349.57" stroke="#333" stroke-width="0.5" />
<line x1="46.30" y1="345.72" x2="47.70" y2="345.72" stroke="#333" stroke-width="0.5" />
<line x1="46.30" y1="341.86" x2="47.70" y2="341.86" stroke="#333" stroke-width="0.5" />
<line x1="46.30" y1="338.01" x2="47.70" y2="338.01" stroke="#333" stroke-width="0.5" />
<line x1="46.30" y1="330.31" x2="47.70" y2="330.31" stroke="#333" stroke-width="0.5" />
<line x1="46.30" y1="326.46" x2="47.70" y2="326.46" stroke="#333" stroke-width="0.5" />
<line x1="46.30" y1="322.60" x2="47.70" y2="322.60" stroke="#333" stroke-width="0.5" />
<line x1="46.30" y1="318.75" x2="47.70" y2="318.75" stroke="#333" stroke-width="0.5" />
<line x1="46.30" y1="311.05" x2="47.70" y2="311.05" stroke="#333" stroke-width="0.5" />
<line x1="46.30" y1="307.20" x2="47.70" y2="307.20" stroke="#333" stroke-width="0.5" />
<line x1="47.70" y1="411.20" x2="47.70" y2="413.20" stroke="#222" stroke-width="0.7" />
<line x1="89.18" y1="411.20" x2="89.18" y2="413.20" stroke="#222" stroke-width="0.7" />
<line x1="114.41" y1="411.20" x2="114.41" y2="413.20" stroke="#222" stroke-width="0.7" />
<line x1="156.40" y1="411.20" x2="156.40" y2="413.20" stroke="#222" stroke-width="0.7" />
<line x1="61.53" y1="411.20" x2="61.53" y2="412.40" stroke="#222" stroke-width="0.5" />
<line x1="75.35" y1="411.20" x2="75.35" y2="412.40" stroke="#222" stroke-width="0.5" />
<line x1="101.80" y1="411.20" x2="101.80" y2="412.40" stroke="#222" stroke-width="0.5" />
<line x1="128.41" y1="411.20" x2="128.41" y2="412.40" stroke="#222" stroke-width="0.5" />
<line x1="142.40" y1="411.20" x2="142.40" y2="412.40" stroke="#222" stroke-width="0.5" />
<text x="50.70" y="421.60" font-size="6.4" fill="#222" text-anchor="end">10</text>
<text x="50.90" y="418.90" font-size="4.6" fill="#222" text-anchor="start">2.5</text>
<text x="91.20" y="421.60" font-size="6.4" fill="#222" text-anchor="end">10</text>
<text x="91.40" y="418.90" font-size="4.6" fill="#222" text-anchor="start">4</text>
<text x="114.20" y="421.60" font-size="6.4" fill="#222" text-anchor="end">10</text>
<text x="114.40" y="418.90" font-size="4.6" fill="#222" text-anchor="start">5</text>
<text x="152.50" y="421.60" font-size="6.4" fill="#222" text-anchor="end">10</text>
<text x="152.70" y="418.90" font-size="4.6" fill="#222" text-anchor="start">6.5</text>
<text x="102.05" y="431.20" font-size="5.4" text-anchor="middle" fill="#222" >FITC-H</text>
<text x="34.30" y="359.85" font-size="5.6" text-anchor="middle" fill="#222" textLength="27.60" lengthAdjust="spacingAndGlyphs" transform="rotate(-90 34.30 359.85)" stroke="#222" stroke-width="0.1">Count  (%)</text>
<rect x="51.60" y="306.80" width="13.4" height="3.6" fill="#ececff" stroke="#3a3aff" stroke-width="0.7"/>
<text x="67.90" y="310.60" font-size="5.5" text-anchor="start" fill="#222" textLength="17.52" lengthAdjust="spacingAndGlyphs" stroke="#222" stroke-width="0.12">DMSO</text>
<rect x="51.60" y="315.60" width="13.4" height="3.6" fill="#fde8e8" stroke="#ff3a3a" stroke-width="0.7"/>
<text x="67.90" y="319.40" font-size="5.5" text-anchor="start" fill="#222" textLength="18.18" lengthAdjust="spacingAndGlyphs" stroke="#222" stroke-width="0.12">Erastin</text>
<rect x="51.60" y="324.20" width="13.4" height="3.6" fill="#e6f7e6" stroke="#28c028" stroke-width="0.7"/>
<text x="67.90" y="328.00" font-size="5.5" text-anchor="start" fill="#222" textLength="36.83" lengthAdjust="spacingAndGlyphs" stroke="#222" stroke-width="0.12">si-Ctrl+Erastin</text>
<rect x="51.60" y="332.50" width="13.4" height="3.6" fill="#eee8f6" stroke="#6a30c0" stroke-width="0.7"/>
<text x="67.90" y="336.30" font-size="5.5" text-anchor="start" fill="#222" textLength="40.41" lengthAdjust="spacingAndGlyphs" stroke="#222" stroke-width="0.12">si-SPI1+Erastin</text>
<rect x="51.60" y="341.30" width="13.4" height="3.6" fill="#f3eedb" stroke="#c08a30" stroke-width="0.7"/>
<text x="67.90" y="345.10" font-size="5.5" text-anchor="start" fill="#222" textLength="57.77" lengthAdjust="spacingAndGlyphs" stroke="#222" stroke-width="0.12">si-SPI1+Erastin+Fer-1</text>
<polygon points="387.80,340.53 387.80,340.53 388.29,340.53 388.78,340.53 389.27,340.53 389.76,340.53 390.25,340.53 390.75,340.53 391.24,340.53 391.73,340.53 392.22,340.53 392.71,340.53 393.20,340.53 393.69,340.53 394.18,340.53 394.67,340.53 395.16,340.53 395.65,340.53 396.15,340.53 396.64,340.53 397.13,340.53 397.62,340.53 398.11,340.53 398.60,340.53 399.09,340.53 399.58,340.53 400.07,340.53 400.56,340.53 401.05,340.53 401.55,340.53 402.04,340.53 402.53,340.53 403.02,340.53 403.51,340.53 404.00,340.53 404.49,340.53 404.98,340.53 405.47,340.53 405.96,340.53 406.45,340.53 406.95,340.53 407.44,340.53 407.93,340.53 408.42,340.53 408.91,340.53 409.40,340.53 409.89,340.53 410.38,340.53 410.87,340.53 411.36,340.53 411.85,340.53 412.35,340.53 412.84,340.53 413.33,340.53 413.82,340.53 414.31,340.53 414.80,340.53 415.29,340.53 415.78,340.53 416.27,340.53 416.76,340.53 417.25,340.53 417.75,340.53 418.24,340.53 418.73,340.53 419.22,340.53 419.71,340.53 420.20,340.53 420.69,340.53 421.18,340.53 421.67,340.53 422.16,340.53 422.65,340.53 423.15,340.53 423.64,340.53 424.13,340.53 424.62,340.53 425.11,340.53 425.60,340.53 426.09,340.53 426.58,340.53 427.07,340.53 427.56,340.53 428.05,340.53 428.55,340.53 429.04,340.53 429.53,340.53 430.02,340.53 430.51,340.53 431.00,340.53 431.49,340.53 431.98,340.53 432.47,340.53 432.96,340.53 433.45,340.53 433.95,340.53 434.44,340.53 434.93,340.53 435.42,340.53 435.91,340.53 436.40,340.53 436.89,340.53 437.38,340.53 437.87,340.53 438.36,340.52 438.85,340.52 439.35,340.52 439.84,340.52 440.33,340.51 440.82,340.50 441.31,340.49 441.80,340.47 442.29,340.44 442.78,340.40 443.27,340.33 443.76,340.24 444.25,340.11 444.75,339.94 445.24,339.70 445.73,339.37 446.22,338.95 446.71,338.39 447.20,337.67 447.69,336.77 448.18,335.65 448.67,334.29 449.16,332.67 449.65,330.77 450.15,328.61 450.64,326.19 451.13,323.57 451.62,320.80 452.11,317.98 452.60,315.22 453.09,312.68 453.58,310.52 454.07,308.93 454.56,308.18 455.05,308.76 455.55,310.24 456.04,312.33 456.53,314.83 457.02,317.56 457.51,320.38 458.00,323.16 458.49,325.81 458.98,328.25 459.47,330.45 459.96,332.38 460.45,334.03 460.95,335.42 461.44,336.55 461.93,337.47 462.42,338.18 462.91,338.73 463.40,339.14 463.89,339.44 464.38,339.64 464.87,339.77 465.36,339.84 465.85,339.87 466.35,339.87 466.84,339.84 467.33,339.81 467.82,339.76 468.31,339.71 468.80,339.66 469.29,339.62 469.78,339.59 470.27,339.57 470.76,339.56 471.25,339.57 471.75,339.59 472.24,339.62 472.73,339.67 473.22,339.72 473.71,339.79 474.20,339.86 474.69,339.93 475.18,340.00 475.67,340.07 476.16,340.13 476.65,340.20 477.15,340.25 477.64,340.30 478.13,340.35 478.62,340.38 479.11,340.42 479.60,340.44 480.09,340.46 480.58,340.48 481.07,340.49 481.56,340.50 482.05,340.51 482.55,340.51 483.04,340.52 483.53,340.52 484.02,340.52 484.51,340.52 485.00,340.53 485.49,340.53 485.98,340.53 486.47,340.53 486.96,340.53 487.45,340.53 487.95,340.53 488.44,340.53 488.93,340.53 489.42,340.53 489.91,340.53 490.40,340.53 490.89,340.53 491.38,340.53 491.87,340.53 492.36,340.53 492.85,340.53 493.35,340.53 493.84,340.53 494.33,340.53 494.82,340.53 495.31,340.53 495.80,340.53 495.80,340.53" fill="#ececff"/>
<polyline points="387.80,340.53 388.29,340.53 388.78,340.53 389.27,340.53 389.76,340.53 390.25,340.53 390.75,340.53 391.24,340.53 391.73,340.53 392.22,340.53 392.71,340.53 393.20,340.53 393.69,340.53 394.18,340.53 394.67,340.53 395.16,340.53 395.65,340.53 396.15,340.53 396.64,340.53 397.13,340.53 397.62,340.53 398.11,340.53 398.60,340.53 399.09,340.53 399.58,340.53 400.07,340.53 400.56,340.53 401.05,340.53 401.55,340.53 402.04,340.53 402.53,340.53 403.02,340.53 403.51,340.53 404.00,340.53 404.49,340.53 404.98,340.53 405.47,340.53 405.96,340.53 406.45,340.53 406.95,340.53 407.44,340.53 407.93,340.53 408.42,340.53 408.91,340.53 409.40,340.53 409.89,340.53 410.38,340.53 410.87,340.53 411.36,340.53 411.85,340.53 412.35,340.53 412.84,340.53 413.33,340.53 413.82,340.53 414.31,340.53 414.80,340.53 415.29,340.53 415.78,340.53 416.27,340.53 416.76,340.53 417.25,340.53 417.75,340.53 418.24,340.53 418.73,340.53 419.22,340.53 419.71,340.53 420.20,340.53 420.69,340.53 421.18,340.53 421.67,340.53 422.16,340.53 422.65,340.53 423.15,340.53 423.64,340.53 424.13,340.53 424.62,340.53 425.11,340.53 425.60,340.53 426.09,340.53 426.58,340.53 427.07,340.53 427.56,340.53 428.05,340.53 428.55,340.53 429.04,340.53 429.53,340.53 430.02,340.53 430.51,340.53 431.00,340.53 431.49,340.53 431.98,340.53 432.47,340.53 432.96,340.53 433.45,340.53 433.95,340.53 434.44,340.53 434.93,340.53 435.42,340.53 435.91,340.53 436.40,340.53 436.89,340.53 437.38,340.53 437.87,340.53 438.36,340.52 438.85,340.52 439.35,340.52 439.84,340.52 440.33,340.51 440.82,340.50 441.31,340.49 441.80,340.47 442.29,340.44 442.78,340.40 443.27,340.33 443.76,340.24 444.25,340.11 444.75,339.94 445.24,339.70 445.73,339.37 446.22,338.95 446.71,338.39 447.20,337.67 447.69,336.77 448.18,335.65 448.67,334.29 449.16,332.67 449.65,330.77 450.15,328.61 450.64,326.19 451.13,323.57 451.62,320.80 452.11,317.98 452.60,315.22 453.09,312.68 453.58,310.52 454.07,308.93 454.56,308.18 455.05,308.76 455.55,310.24 456.04,312.33 456.53,314.83 457.02,317.56 457.51,320.38 458.00,323.16 458.49,325.81 458.98,328.25 459.47,330.45 459.96,332.38 460.45,334.03 460.95,335.42 461.44,336.55 461.93,337.47 462.42,338.18 462.91,338.73 463.40,339.14 463.89,339.44 464.38,339.64 464.87,339.77 465.36,339.84 465.85,339.87 466.35,339.87 466.84,339.84 467.33,339.81 467.82,339.76 468.31,339.71 468.80,339.66 469.29,339.62 469.78,339.59 470.27,339.57 470.76,339.56 471.25,339.57 471.75,339.59 472.24,339.62 472.73,339.67 473.22,339.72 473.71,339.79 474.20,339.86 474.69,339.93 475.18,340.00 475.67,340.07 476.16,340.13 476.65,340.20 477.15,340.25 477.64,340.30 478.13,340.35 478.62,340.38 479.11,340.42 479.60,340.44 480.09,340.46 480.58,340.48 481.07,340.49 481.56,340.50 482.05,340.51 482.55,340.51 483.04,340.52 483.53,340.52 484.02,340.52 484.51,340.52 485.00,340.53 485.49,340.53 485.98,340.53 486.47,340.53 486.96,340.53 487.45,340.53 487.95,340.53 488.44,340.53 488.93,340.53 489.42,340.53 489.91,340.53 490.40,340.53 490.89,340.53 491.38,340.53 491.87,340.53 492.36,340.53 492.85,340.53 493.35,340.53 493.84,340.53 494.33,340.53 494.82,340.53 495.31,340.53 495.80,340.53" fill="none" stroke="#3a3aff" stroke-width="0.85"/>
<polygon points="387.80,358.73 387.80,358.73 388.29,358.73 388.78,358.73 389.27,358.73 389.76,358.73 390.25,358.73 390.75,358.73 391.24,358.73 391.73,358.73 392.22,358.73 392.71,358.73 393.20,358.73 393.69,358.73 394.18,358.73 394.67,358.73 395.16,358.73 395.65,358.73 396.15,358.73 396.64,358.73 397.13,358.73 397.62,358.73 398.11,358.73 398.60,358.73 399.09,358.73 399.58,358.73 400.07,358.73 400.56,358.73 401.05,358.73 401.55,358.73 402.04,358.73 402.53,358.73 403.02,358.73 403.51,358.73 404.00,358.73 404.49,358.73 404.98,358.73 405.47,358.73 405.96,358.73 406.45,358.73 406.95,358.73 407.44,358.73 407.93,358.73 408.42,358.73 408.91,358.73 409.40,358.73 409.89,358.73 410.38,358.73 410.87,358.73 411.36,358.73 411.85,358.73 412.35,358.73 412.84,358.73 413.33,358.73 413.82,358.73 414.31,358.73 414.80,358.73 415.29,358.73 415.78,358.73 416.27,358.73 416.76,358.73 417.25,358.73 417.75,358.73 418.24,358.73 418.73,358.73 419.22,358.73 419.71,358.73 420.20,358.73 420.69,358.73 421.18,358.73 421.67,358.73 422.16,358.73 422.65,358.73 423.15,358.73 423.64,358.73 424.13,358.73 424.62,358.73 425.11,358.73 425.60,358.73 426.09,358.73 426.58,358.73 427.07,358.73 427.56,358.73 428.05,358.73 428.55,358.73 429.04,358.73 429.53,358.73 430.02,358.73 430.51,358.73 431.00,358.73 431.49,358.73 431.98,358.73 432.47,358.73 432.96,358.73 433.45,358.73 433.95,358.73 434.44,358.73 434.93,358.73 435.42,358.73 435.91,358.73 436.40,358.73 436.89,358.73 437.38,358.73 437.87,358.73 438.36,358.72 438.85,358.72 439.35,358.72 439.84,358.71 440.33,358.71 440.82,358.70 441.31,358.68 441.80,358.67 442.29,358.64 442.78,358.60 443.27,358.55 443.76,358.48 444.25,358.39 444.75,358.26 445.24,358.10 445.73,357.89 446.22,357.62 446.71,357.27 447.20,356.83 447.69,356.28 448.18,355.61 448.67,354.80 449.16,353.83 449.65,352.68 450.15,351.34 450.64,349.81 451.13,348.08 451.62,346.16 452.11,344.06 452.60,341.83 453.09,339.50 453.58,337.12 454.07,334.78 454.56,332.55 455.05,330.53 455.55,328.83 456.04,327.59 456.53,326.96 457.02,327.17 457.51,327.84 458.00,328.83 458.49,330.06 458.98,331.48 459.47,333.03 459.96,334.66 460.45,336.32 460.95,337.95 461.44,339.53 461.93,341.01 462.42,342.37 462.91,343.59 463.40,344.65 463.89,345.58 464.38,346.37 464.87,347.05 465.36,347.65 465.85,348.20 466.35,348.75 466.84,349.31 467.33,349.91 467.82,350.57 468.31,351.28 468.80,352.03 469.29,352.82 469.78,353.61 470.27,354.39 470.76,355.12 471.25,355.79 471.75,356.39 472.24,356.91 472.73,357.34 473.22,357.69 473.71,357.97 474.20,358.18 474.69,358.34 475.18,358.46 475.67,358.54 476.16,358.60 476.65,358.64 477.15,358.67 477.64,358.69 478.13,358.70 478.62,358.71 479.11,358.72 479.60,358.72 480.09,358.72 480.58,358.72 481.07,358.72 481.56,358.73 482.05,358.73 482.55,358.73 483.04,358.73 483.53,358.73 484.02,358.73 484.51,358.73 485.00,358.73 485.49,358.73 485.98,358.73 486.47,358.73 486.96,358.73 487.45,358.73 487.95,358.73 488.44,358.73 488.93,358.73 489.42,358.73 489.91,358.73 490.40,358.73 490.89,358.73 491.38,358.73 491.87,358.73 492.36,358.73 492.85,358.73 493.35,358.73 493.84,358.73 494.33,358.73 494.82,358.73 495.31,358.73 495.80,358.73 495.80,358.73" fill="#fde8e8"/>
<polyline points="387.80,358.73 388.29,358.73 388.78,358.73 389.27,358.73 389.76,358.73 390.25,358.73 390.75,358.73 391.24,358.73 391.73,358.73 392.22,358.73 392.71,358.73 393.20,358.73 393.69,358.73 394.18,358.73 394.67,358.73 395.16,358.73 395.65,358.73 396.15,358.73 396.64,358.73 397.13,358.73 397.62,358.73 398.11,358.73 398.60,358.73 399.09,358.73 399.58,358.73 400.07,358.73 400.56,358.73 401.05,358.73 401.55,358.73 402.04,358.73 402.53,358.73 403.02,358.73 403.51,358.73 404.00,358.73 404.49,358.73 404.98,358.73 405.47,358.73 405.96,358.73 406.45,358.73 406.95,358.73 407.44,358.73 407.93,358.73 408.42,358.73 408.91,358.73 409.40,358.73 409.89,358.73 410.38,358.73 410.87,358.73 411.36,358.73 411.85,358.73 412.35,358.73 412.84,358.73 413.33,358.73 413.82,358.73 414.31,358.73 414.80,358.73 415.29,358.73 415.78,358.73 416.27,358.73 416.76,358.73 417.25,358.73 417.75,358.73 418.24,358.73 418.73,358.73 419.22,358.73 419.71,358.73 420.20,358.73 420.69,358.73 421.18,358.73 421.67,358.73 422.16,358.73 422.65,358.73 423.15,358.73 423.64,358.73 424.13,358.73 424.62,358.73 425.11,358.73 425.60,358.73 426.09,358.73 426.58,358.73 427.07,358.73 427.56,358.73 428.05,358.73 428.55,358.73 429.04,358.73 429.53,358.73 430.02,358.73 430.51,358.73 431.00,358.73 431.49,358.73 431.98,358.73 432.47,358.73 432.96,358.73 433.45,358.73 433.95,358.73 434.44,358.73 434.93,358.73 435.42,358.73 435.91,358.73 436.40,358.73 436.89,358.73 437.38,358.73 437.87,358.73 438.36,358.72 438.85,358.72 439.35,358.72 439.84,358.71 440.33,358.71 440.82,358.70 441.31,358.68 441.80,358.67 442.29,358.64 442.78,358.60 443.27,358.55 443.76,358.48 444.25,358.39 444.75,358.26 445.24,358.10 445.73,357.89 446.22,357.62 446.71,357.27 447.20,356.83 447.69,356.28 448.18,355.61 448.67,354.80 449.16,353.83 449.65,352.68 450.15,351.34 450.64,349.81 451.13,348.08 451.62,346.16 452.11,344.06 452.60,341.83 453.09,339.50 453.58,337.12 454.07,334.78 454.56,332.55 455.05,330.53 455.55,328.83 456.04,327.59 456.53,326.96 457.02,327.17 457.51,327.84 458.00,328.83 458.49,330.06 458.98,331.48 459.47,333.03 459.96,334.66 460.45,336.32 460.95,337.95 461.44,339.53 461.93,341.01 462.42,342.37 462.91,343.59 463.40,344.65 463.89,345.58 464.38,346.37 464.87,347.05 465.36,347.65 465.85,348.20 466.35,348.75 466.84,349.31 467.33,349.91 467.82,350.57 468.31,351.28 468.80,352.03 469.29,352.82 469.78,353.61 470.27,354.39 470.76,355.12 471.25,355.79 471.75,356.39 472.24,356.91 472.73,357.34 473.22,357.69 473.71,357.97 474.20,358.18 474.69,358.34 475.18,358.46 475.67,358.54 476.16,358.60 476.65,358.64 477.15,358.67 477.64,358.69 478.13,358.70 478.62,358.71 479.11,358.72 479.60,358.72 480.09,358.72 480.58,358.72 481.07,358.72 481.56,358.73 482.05,358.73 482.55,358.73 483.04,358.73 483.53,358.73 484.02,358.73 484.51,358.73 485.00,358.73 485.49,358.73 485.98,358.73 486.47,358.73 486.96,358.73 487.45,358.73 487.95,358.73 488.44,358.73 488.93,358.73 489.42,358.73 489.91,358.73 490.40,358.73 490.89,358.73 491.38,358.73 491.87,358.73 492.36,358.73 492.85,358.73 493.35,358.73 493.84,358.73 494.33,358.73 494.82,358.73 495.31,358.73 495.80,358.73" fill="none" stroke="#ff3a3a" stroke-width="0.85"/>
<polygon points="387.80,376.54 387.80,376.54 388.29,376.54 388.78,376.54 389.27,376.54 389.76,376.54 390.25,376.54 390.75,376.54 391.24,376.54 391.73,376.54 392.22,376.54 392.71,376.54 393.20,376.54 393.69,376.54 394.18,376.54 394.67,376.54 395.16,376.54 395.65,376.54 396.15,376.54 396.64,376.54 397.13,376.54 397.62,376.54 398.11,376.54 398.60,376.54 399.09,376.54 399.58,376.54 400.07,376.54 400.56,376.54 401.05,376.54 401.55,376.54 402.04,376.54 402.53,376.54 403.02,376.54 403.51,376.54 404.00,376.54 404.49,376.54 404.98,376.54 405.47,376.54 405.96,376.54 406.45,376.54 406.95,376.54 407.44,376.54 407.93,376.54 408.42,376.54 408.91,376.54 409.40,376.54 409.89,376.54 410.38,376.54 410.87,376.54 411.36,376.54 411.85,376.54 412.35,376.54 412.84,376.54 413.33,376.54 413.82,376.54 414.31,376.54 414.80,376.54 415.29,376.54 415.78,376.54 416.27,376.54 416.76,376.54 417.25,376.54 417.75,376.54 418.24,376.54 418.73,376.54 419.22,376.54 419.71,376.54 420.20,376.54 420.69,376.54 421.18,376.54 421.67,376.54 422.16,376.54 422.65,376.54 423.15,376.54 423.64,376.54 424.13,376.54 424.62,376.54 425.11,376.54 425.60,376.54 426.09,376.54 426.58,376.54 427.07,376.54 427.56,376.54 428.05,376.54 428.55,376.54 429.04,376.54 429.53,376.54 430.02,376.54 430.51,376.54 431.00,376.54 431.49,376.54 431.98,376.54 432.47,376.54 432.96,376.54 433.45,376.54 433.95,376.54 434.44,376.54 434.93,376.54 435.42,376.54 435.91,376.54 436.40,376.54 436.89,376.53 437.38,376.53 437.87,376.52 438.36,376.51 438.85,376.50 439.35,376.48 439.84,376.45 440.33,376.42 440.82,376.37 441.31,376.31 441.80,376.23 442.29,376.12 442.78,375.98 443.27,375.81 443.76,375.59 444.25,375.31 444.75,374.96 445.24,374.53 445.73,374.01 446.22,373.39 446.71,372.64 447.20,371.75 447.69,370.72 448.18,369.54 448.67,368.18 449.16,366.67 449.65,364.99 450.15,363.16 450.64,361.19 451.13,359.12 451.62,356.97 452.11,354.81 452.60,352.67 453.09,350.63 453.58,348.75 454.07,347.12 454.56,345.82 455.05,344.96 455.55,344.75 456.04,345.00 456.53,345.48 457.02,346.14 457.51,346.91 458.00,347.76 458.49,348.67 458.98,349.63 459.47,350.64 459.96,351.72 460.45,352.87 460.95,354.11 461.44,355.46 461.93,356.93 462.42,358.49 462.91,360.13 463.40,361.82 463.89,363.52 464.38,365.18 464.87,366.77 465.36,368.24 465.85,369.57 466.35,370.75 466.84,371.78 467.33,372.64 467.82,373.37 468.31,373.97 468.80,374.46 469.29,374.86 469.78,375.18 470.27,375.44 470.76,375.66 471.25,375.83 471.75,375.97 472.24,376.08 472.73,376.17 473.22,376.25 473.71,376.31 474.20,376.36 474.69,376.40 475.18,376.43 475.67,376.45 476.16,376.47 476.65,376.49 477.15,376.50 477.64,376.51 478.13,376.52 478.62,376.52 479.11,376.53 479.60,376.53 480.09,376.53 480.58,376.54 481.07,376.54 481.56,376.54 482.05,376.54 482.55,376.54 483.04,376.54 483.53,376.54 484.02,376.54 484.51,376.54 485.00,376.54 485.49,376.54 485.98,376.54 486.47,376.54 486.96,376.54 487.45,376.54 487.95,376.54 488.44,376.54 488.93,376.54 489.42,376.54 489.91,376.54 490.40,376.54 490.89,376.54 491.38,376.54 491.87,376.54 492.36,376.54 492.85,376.54 493.35,376.54 493.84,376.54 494.33,376.54 494.82,376.54 495.31,376.54 495.80,376.54 495.80,376.54" fill="#e6f7e6"/>
<polyline points="387.80,376.54 388.29,376.54 388.78,376.54 389.27,376.54 389.76,376.54 390.25,376.54 390.75,376.54 391.24,376.54 391.73,376.54 392.22,376.54 392.71,376.54 393.20,376.54 393.69,376.54 394.18,376.54 394.67,376.54 395.16,376.54 395.65,376.54 396.15,376.54 396.64,376.54 397.13,376.54 397.62,376.54 398.11,376.54 398.60,376.54 399.09,376.54 399.58,376.54 400.07,376.54 400.56,376.54 401.05,376.54 401.55,376.54 402.04,376.54 402.53,376.54 403.02,376.54 403.51,376.54 404.00,376.54 404.49,376.54 404.98,376.54 405.47,376.54 405.96,376.54 406.45,376.54 406.95,376.54 407.44,376.54 407.93,376.54 408.42,376.54 408.91,376.54 409.40,376.54 409.89,376.54 410.38,376.54 410.87,376.54 411.36,376.54 411.85,376.54 412.35,376.54 412.84,376.54 413.33,376.54 413.82,376.54 414.31,376.54 414.80,376.54 415.29,376.54 415.78,376.54 416.27,376.54 416.76,376.54 417.25,376.54 417.75,376.54 418.24,376.54 418.73,376.54 419.22,376.54 419.71,376.54 420.20,376.54 420.69,376.54 421.18,376.54 421.67,376.54 422.16,376.54 422.65,376.54 423.15,376.54 423.64,376.54 424.13,376.54 424.62,376.54 425.11,376.54 425.60,376.54 426.09,376.54 426.58,376.54 427.07,376.54 427.56,376.54 428.05,376.54 428.55,376.54 429.04,376.54 429.53,376.54 430.02,376.54 430.51,376.54 431.00,376.54 431.49,376.54 431.98,376.54 432.47,376.54 432.96,376.54 433.45,376.54 433.95,376.54 434.44,376.54 434.93,376.54 435.42,376.54 435.91,376.54 436.40,376.54 436.89,376.53 437.38,376.53 437.87,376.52 438.36,376.51 438.85,376.50 439.35,376.48 439.84,376.45 440.33,376.42 440.82,376.37 441.31,376.31 441.80,376.23 442.29,376.12 442.78,375.98 443.27,375.81 443.76,375.59 444.25,375.31 444.75,374.96 445.24,374.53 445.73,374.01 446.22,373.39 446.71,372.64 447.20,371.75 447.69,370.72 448.18,369.54 448.67,368.18 449.16,366.67 449.65,364.99 450.15,363.16 450.64,361.19 451.13,359.12 451.62,356.97 452.11,354.81 452.60,352.67 453.09,350.63 453.58,348.75 454.07,347.12 454.56,345.82 455.05,344.96 455.55,344.75 456.04,345.00 456.53,345.48 457.02,346.14 457.51,346.91 458.00,347.76 458.49,348.67 458.98,349.63 459.47,350.64 459.96,351.72 460.45,352.87 460.95,354.11 461.44,355.46 461.93,356.93 462.42,358.49 462.91,360.13 463.40,361.82 463.89,363.52 464.38,365.18 464.87,366.77 465.36,368.24 465.85,369.57 466.35,370.75 466.84,371.78 467.33,372.64 467.82,373.37 468.31,373.97 468.80,374.46 469.29,374.86 469.78,375.18 470.27,375.44 470.76,375.66 471.25,375.83 471.75,375.97 472.24,376.08 472.73,376.17 473.22,376.25 473.71,376.31 474.20,376.36 474.69,376.40 475.18,376.43 475.67,376.45 476.16,376.47 476.65,376.49 477.15,376.50 477.64,376.51 478.13,376.52 478.62,376.52 479.11,376.53 479.60,376.53 480.09,376.53 480.58,376.54 481.07,376.54 481.56,376.54 482.05,376.54 482.55,376.54 483.04,376.54 483.53,376.54 484.02,376.54 484.51,376.54 485.00,376.54 485.49,376.54 485.98,376.54 486.47,376.54 486.96,376.54 487.45,376.54 487.95,376.54 488.44,376.54 488.93,376.54 489.42,376.54 489.91,376.54 490.40,376.54 490.89,376.54 491.38,376.54 491.87,376.54 492.36,376.54 492.85,376.54 493.35,376.54 493.84,376.54 494.33,376.54 494.82,376.54 495.31,376.54 495.80,376.54" fill="none" stroke="#28c028" stroke-width="0.85"/>
<polygon points="387.80,393.88 387.80,393.88 388.29,393.88 388.78,393.88 389.27,393.88 389.76,393.88 390.25,393.88 390.75,393.88 391.24,393.88 391.73,393.88 392.22,393.88 392.71,393.88 393.20,393.88 393.69,393.88 394.18,393.88 394.67,393.88 395.16,393.88 395.65,393.88 396.15,393.88 396.64,393.88 397.13,393.88 397.62,393.88 398.11,393.88 398.60,393.88 399.09,393.88 399.58,393.88 400.07,393.88 400.56,393.88 401.05,393.88 401.55,393.88 402.04,393.88 402.53,393.88 403.02,393.88 403.51,393.88 404.00,393.88 404.49,393.88 404.98,393.88 405.47,393.88 405.96,393.88 406.45,393.88 406.95,393.88 407.44,393.88 407.93,393.88 408.42,393.88 408.91,393.88 409.40,393.88 409.89,393.88 410.38,393.88 410.87,393.88 411.36,393.88 411.85,393.88 412.35,393.88 412.84,393.88 413.33,393.88 413.82,393.88 414.31,393.88 414.80,393.88 415.29,393.88 415.78,393.88 416.27,393.88 416.76,393.88 417.25,393.88 417.75,393.88 418.24,393.88 418.73,393.88 419.22,393.88 419.71,393.88 420.20,393.88 420.69,393.88 421.18,393.88 421.67,393.88 422.16,393.88 422.65,393.88 423.15,393.88 423.64,393.88 424.13,393.88 424.62,393.88 425.11,393.88 425.60,393.88 426.09,393.88 426.58,393.88 427.07,393.88 427.56,393.88 428.05,393.88 428.55,393.88 429.04,393.88 429.53,393.88 430.02,393.88 430.51,393.88 431.00,393.88 431.49,393.88 431.98,393.88 432.47,393.88 432.96,393.88 433.45,393.88 433.95,393.88 434.44,393.88 434.93,393.88 435.42,393.88 435.91,393.88 436.40,393.88 436.89,393.88 437.38,393.88 437.87,393.88 438.36,393.88 438.85,393.88 439.35,393.88 439.84,393.87 440.33,393.87 440.82,393.87 441.31,393.87 441.80,393.86 442.29,393.86 442.78,393.85 443.27,393.84 443.76,393.82 444.25,393.79 444.75,393.76 445.24,393.72 445.73,393.66 446.22,393.58 446.71,393.48 447.20,393.34 447.69,393.17 448.18,392.95 448.67,392.67 449.16,392.31 449.65,391.88 450.15,391.34 450.64,390.69 451.13,389.91 451.62,388.99 452.11,387.90 452.60,386.65 453.09,385.22 453.58,383.61 454.07,381.83 454.56,379.88 455.05,377.79 455.55,375.60 456.04,373.34 456.53,371.06 457.02,368.84 457.51,366.75 458.00,364.87 458.49,363.30 458.98,362.16 459.47,361.60 459.96,361.92 460.45,362.80 460.95,364.07 461.44,365.66 461.93,367.45 462.42,369.39 462.91,371.40 463.40,373.43 463.89,375.42 464.38,377.33 464.87,379.13 465.36,380.80 465.85,382.33 466.35,383.71 466.84,384.94 467.33,386.03 467.82,386.98 468.31,387.81 468.80,388.52 469.29,389.14 469.78,389.68 470.27,390.14 470.76,390.54 471.25,390.90 471.75,391.21 472.24,391.49 472.73,391.74 473.22,391.97 473.71,392.18 474.20,392.37 474.69,392.55 475.18,392.71 475.67,392.86 476.16,393.00 476.65,393.12 477.15,393.23 477.64,393.33 478.13,393.42 478.62,393.49 479.11,393.56 479.60,393.62 480.09,393.67 480.58,393.71 481.07,393.74 481.56,393.77 482.05,393.79 482.55,393.81 483.04,393.83 483.53,393.84 484.02,393.85 484.51,393.86 485.00,393.86 485.49,393.87 485.98,393.87 486.47,393.87 486.96,393.87 487.45,393.87 487.95,393.88 488.44,393.88 488.93,393.88 489.42,393.88 489.91,393.88 490.40,393.88 490.89,393.88 491.38,393.88 491.87,393.88 492.36,393.88 492.85,393.88 493.35,393.88 493.84,393.88 494.33,393.88 494.82,393.88 495.31,393.88 495.80,393.88 495.80,393.88" fill="#eee8f6"/>
<polyline points="387.80,393.88 388.29,393.88 388.78,393.88 389.27,393.88 389.76,393.88 390.25,393.88 390.75,393.88 391.24,393.88 391.73,393.88 392.22,393.88 392.71,393.88 393.20,393.88 393.69,393.88 394.18,393.88 394.67,393.88 395.16,393.88 395.65,393.88 396.15,393.88 396.64,393.88 397.13,393.88 397.62,393.88 398.11,393.88 398.60,393.88 399.09,393.88 399.58,393.88 400.07,393.88 400.56,393.88 401.05,393.88 401.55,393.88 402.04,393.88 402.53,393.88 403.02,393.88 403.51,393.88 404.00,393.88 404.49,393.88 404.98,393.88 405.47,393.88 405.96,393.88 406.45,393.88 406.95,393.88 407.44,393.88 407.93,393.88 408.42,393.88 408.91,393.88 409.40,393.88 409.89,393.88 410.38,393.88 410.87,393.88 411.36,393.88 411.85,393.88 412.35,393.88 412.84,393.88 413.33,393.88 413.82,393.88 414.31,393.88 414.80,393.88 415.29,393.88 415.78,393.88 416.27,393.88 416.76,393.88 417.25,393.88 417.75,393.88 418.24,393.88 418.73,393.88 419.22,393.88 419.71,393.88 420.20,393.88 420.69,393.88 421.18,393.88 421.67,393.88 422.16,393.88 422.65,393.88 423.15,393.88 423.64,393.88 424.13,393.88 424.62,393.88 425.11,393.88 425.60,393.88 426.09,393.88 426.58,393.88 427.07,393.88 427.56,393.88 428.05,393.88 428.55,393.88 429.04,393.88 429.53,393.88 430.02,393.88 430.51,393.88 431.00,393.88 431.49,393.88 431.98,393.88 432.47,393.88 432.96,393.88 433.45,393.88 433.95,393.88 434.44,393.88 434.93,393.88 435.42,393.88 435.91,393.88 436.40,393.88 436.89,393.88 437.38,393.88 437.87,393.88 438.36,393.88 438.85,393.88 439.35,393.88 439.84,393.87 440.33,393.87 440.82,393.87 441.31,393.87 441.80,393.86 442.29,393.86 442.78,393.85 443.27,393.84 443.76,393.82 444.25,393.79 444.75,393.76 445.24,393.72 445.73,393.66 446.22,393.58 446.71,393.48 447.20,393.34 447.69,393.17 448.18,392.95 448.67,392.67 449.16,392.31 449.65,391.88 450.15,391.34 450.64,390.69 451.13,389.91 451.62,388.99 452.11,387.90 452.60,386.65 453.09,385.22 453.58,383.61 454.07,381.83 454.56,379.88 455.05,377.79 455.55,375.60 456.04,373.34 456.53,371.06 457.02,368.84 457.51,366.75 458.00,364.87 458.49,363.30 458.98,362.16 459.47,361.60 459.96,361.92 460.45,362.80 460.95,364.07 461.44,365.66 461.93,367.45 462.42,369.39 462.91,371.40 463.40,373.43 463.89,375.42 464.38,377.33 464.87,379.13 465.36,380.80 465.85,382.33 466.35,383.71 466.84,384.94 467.33,386.03 467.82,386.98 468.31,387.81 468.80,388.52 469.29,389.14 469.78,389.68 470.27,390.14 470.76,390.54 471.25,390.90 471.75,391.21 472.24,391.49 472.73,391.74 473.22,391.97 473.71,392.18 474.20,392.37 474.69,392.55 475.18,392.71 475.67,392.86 476.16,393.00 476.65,393.12 477.15,393.23 477.64,393.33 478.13,393.42 478.62,393.49 479.11,393.56 479.60,393.62 480.09,393.67 480.58,393.71 481.07,393.74 481.56,393.77 482.05,393.79 482.55,393.81 483.04,393.83 483.53,393.84 484.02,393.85 484.51,393.86 485.00,393.86 485.49,393.87 485.98,393.87 486.47,393.87 486.96,393.87 487.45,393.87 487.95,393.88 488.44,393.88 488.93,393.88 489.42,393.88 489.91,393.88 490.40,393.88 490.89,393.88 491.38,393.88 491.87,393.88 492.36,393.88 492.85,393.88 493.35,393.88 493.84,393.88 494.33,393.88 494.82,393.88 495.31,393.88 495.80,393.88" fill="none" stroke="#6a30c0" stroke-width="0.85"/>
<polygon points="387.80,411.50 387.80,411.50 388.29,411.50 388.78,411.50 389.27,411.50 389.76,411.50 390.25,411.50 390.75,411.50 391.24,411.50 391.73,411.50 392.22,411.50 392.71,411.50 393.20,411.50 393.69,411.50 394.18,411.50 394.67,411.50 395.16,411.50 395.65,411.50 396.15,411.50 396.64,411.50 397.13,411.50 397.62,411.50 398.11,411.50 398.60,411.50 399.09,411.50 399.58,411.50 400.07,411.50 400.56,411.50 401.05,411.50 401.55,411.50 402.04,411.50 402.53,411.50 403.02,411.50 403.51,411.50 404.00,411.50 404.49,411.50 404.98,411.50 405.47,411.50 405.96,411.50 406.45,411.50 406.95,411.50 407.44,411.50 407.93,411.50 408.42,411.50 408.91,411.50 409.40,411.50 409.89,411.50 410.38,411.50 410.87,411.50 411.36,411.50 411.85,411.50 412.35,411.50 412.84,411.50 413.33,411.50 413.82,411.50 414.31,411.50 414.80,411.50 415.29,411.50 415.78,411.50 416.27,411.50 416.76,411.50 417.25,411.50 417.75,411.50 418.24,411.50 418.73,411.50 419.22,411.50 419.71,411.50 420.20,411.50 420.69,411.50 421.18,411.50 421.67,411.50 422.16,411.50 422.65,411.50 423.15,411.50 423.64,411.50 424.13,411.50 424.62,411.50 425.11,411.50 425.60,411.50 426.09,411.50 426.58,411.50 427.07,411.50 427.56,411.50 428.05,411.50 428.55,411.50 429.04,411.50 429.53,411.50 430.02,411.50 430.51,411.50 431.00,411.50 431.49,411.50 431.98,411.50 432.47,411.50 432.96,411.50 433.45,411.50 433.95,411.50 434.44,411.50 434.93,411.50 435.42,411.50 435.91,411.50 436.40,411.50 436.89,411.50 437.38,411.50 437.87,411.50 438.36,411.49 438.85,411.49 439.35,411.49 439.84,411.48 440.33,411.47 440.82,411.46 441.31,411.45 441.80,411.43 442.29,411.41 442.78,411.38 443.27,411.34 443.76,411.28 444.25,411.21 444.75,411.12 445.24,411.01 445.73,410.86 446.22,410.68 446.71,410.46 447.20,410.19 447.69,409.85 448.18,409.44 448.67,408.95 449.16,408.37 449.65,407.69 450.15,406.89 450.64,405.96 451.13,404.90 451.62,403.70 452.11,402.36 452.60,400.88 453.09,399.25 453.58,397.50 454.07,395.64 454.56,393.69 455.05,391.68 455.55,389.66 456.04,387.66 456.53,385.73 457.02,383.94 457.51,382.36 458.00,381.04 458.49,380.08 458.98,379.60 459.47,379.89 459.96,380.69 460.45,381.87 460.95,383.32 461.44,384.98 461.93,386.76 462.42,388.61 462.91,390.48 463.40,392.33 463.89,394.11 464.38,395.80 464.87,397.39 465.36,398.87 465.85,400.22 466.35,401.46 466.84,402.58 467.33,403.60 467.82,404.53 468.31,405.36 468.80,406.12 469.29,406.80 469.78,407.42 470.27,407.98 470.76,408.48 471.25,408.94 471.75,409.34 472.24,409.70 472.73,410.01 473.22,410.28 473.71,410.51 474.20,410.71 474.69,410.88 475.18,411.01 475.67,411.13 476.16,411.22 476.65,411.29 477.15,411.34 477.64,411.38 478.13,411.42 478.62,411.44 479.11,411.46 479.60,411.47 480.09,411.48 480.58,411.49 481.07,411.49 481.56,411.49 482.05,411.50 482.55,411.50 483.04,411.50 483.53,411.50 484.02,411.50 484.51,411.50 485.00,411.50 485.49,411.50 485.98,411.50 486.47,411.50 486.96,411.50 487.45,411.50 487.95,411.50 488.44,411.50 488.93,411.50 489.42,411.50 489.91,411.50 490.40,411.50 490.89,411.50 491.38,411.50 491.87,411.50 492.36,411.50 492.85,411.50 493.35,411.50 493.84,411.50 494.33,411.50 494.82,411.50 495.31,411.50 495.80,411.50 495.80,411.50" fill="#f3eedb"/>
<polyline points="387.80,411.50 388.29,411.50 388.78,411.50 389.27,411.50 389.76,411.50 390.25,411.50 390.75,411.50 391.24,411.50 391.73,411.50 392.22,411.50 392.71,411.50 393.20,411.50 393.69,411.50 394.18,411.50 394.67,411.50 395.16,411.50 395.65,411.50 396.15,411.50 396.64,411.50 397.13,411.50 397.62,411.50 398.11,411.50 398.60,411.50 399.09,411.50 399.58,411.50 400.07,411.50 400.56,411.50 401.05,411.50 401.55,411.50 402.04,411.50 402.53,411.50 403.02,411.50 403.51,411.50 404.00,411.50 404.49,411.50 404.98,411.50 405.47,411.50 405.96,411.50 406.45,411.50 406.95,411.50 407.44,411.50 407.93,411.50 408.42,411.50 408.91,411.50 409.40,411.50 409.89,411.50 410.38,411.50 410.87,411.50 411.36,411.50 411.85,411.50 412.35,411.50 412.84,411.50 413.33,411.50 413.82,411.50 414.31,411.50 414.80,411.50 415.29,411.50 415.78,411.50 416.27,411.50 416.76,411.50 417.25,411.50 417.75,411.50 418.24,411.50 418.73,411.50 419.22,411.50 419.71,411.50 420.20,411.50 420.69,411.50 421.18,411.50 421.67,411.50 422.16,411.50 422.65,411.50 423.15,411.50 423.64,411.50 424.13,411.50 424.62,411.50 425.11,411.50 425.60,411.50 426.09,411.50 426.58,411.50 427.07,411.50 427.56,411.50 428.05,411.50 428.55,411.50 429.04,411.50 429.53,411.50 430.02,411.50 430.51,411.50 431.00,411.50 431.49,411.50 431.98,411.50 432.47,411.50 432.96,411.50 433.45,411.50 433.95,411.50 434.44,411.50 434.93,411.50 435.42,411.50 435.91,411.50 436.40,411.50 436.89,411.50 437.38,411.50 437.87,411.50 438.36,411.49 438.85,411.49 439.35,411.49 439.84,411.48 440.33,411.47 440.82,411.46 441.31,411.45 441.80,411.43 442.29,411.41 442.78,411.38 443.27,411.34 443.76,411.28 444.25,411.21 444.75,411.12 445.24,411.01 445.73,410.86 446.22,410.68 446.71,410.46 447.20,410.19 447.69,409.85 448.18,409.44 448.67,408.95 449.16,408.37 449.65,407.69 450.15,406.89 450.64,405.96 451.13,404.90 451.62,403.70 452.11,402.36 452.60,400.88 453.09,399.25 453.58,397.50 454.07,395.64 454.56,393.69 455.05,391.68 455.55,389.66 456.04,387.66 456.53,385.73 457.02,383.94 457.51,382.36 458.00,381.04 458.49,380.08 458.98,379.60 459.47,379.89 459.96,380.69 460.45,381.87 460.95,383.32 461.44,384.98 461.93,386.76 462.42,388.61 462.91,390.48 463.40,392.33 463.89,394.11 464.38,395.80 464.87,397.39 465.36,398.87 465.85,400.22 466.35,401.46 466.84,402.58 467.33,403.60 467.82,404.53 468.31,405.36 468.80,406.12 469.29,406.80 469.78,407.42 470.27,407.98 470.76,408.48 471.25,408.94 471.75,409.34 472.24,409.70 472.73,410.01 473.22,410.28 473.71,410.51 474.20,410.71 474.69,410.88 475.18,411.01 475.67,411.13 476.16,411.22 476.65,411.29 477.15,411.34 477.64,411.38 478.13,411.42 478.62,411.44 479.11,411.46 479.60,411.47 480.09,411.48 480.58,411.49 481.07,411.49 481.56,411.49 482.05,411.50 482.55,411.50 483.04,411.50 483.53,411.50 484.02,411.50 484.51,411.50 485.00,411.50 485.49,411.50 485.98,411.50 486.47,411.50 486.96,411.50 487.45,411.50 487.95,411.50 488.44,411.50 488.93,411.50 489.42,411.50 489.91,411.50 490.40,411.50 490.89,411.50 491.38,411.50 491.87,411.50 492.36,411.50 492.85,411.50 493.35,411.50 493.84,411.50 494.33,411.50 494.82,411.50 495.31,411.50 495.80,411.50" fill="none" stroke="#c08a30" stroke-width="0.85"/>
<rect x="388.30" y="305.00" width="80.70" height="41.00" fill="#fff" opacity="0.72"/>
<rect x="387.80" y="304.30" width="108.00" height="107.20" fill="none" stroke="#333" stroke-width="0.8"/>
<line x1="387.40" y1="411.50" x2="496.20" y2="411.50" stroke="#222" stroke-width="1.1" />
<line x1="385.80" y1="411.50" x2="387.80" y2="411.50" stroke="#222" stroke-width="0.7" />
<text x="384.50" y="411.50" font-size="5.0" text-anchor="middle" fill="#222" transform="rotate(-90 384.50 411.50)" >0</text>
<line x1="385.80" y1="392.24" x2="387.80" y2="392.24" stroke="#222" stroke-width="0.7" />
<text x="384.50" y="392.24" font-size="5.0" text-anchor="middle" fill="#222" transform="rotate(-90 384.50 392.24)" >20</text>
<line x1="385.80" y1="372.98" x2="387.80" y2="372.98" stroke="#222" stroke-width="0.7" />
<text x="384.50" y="372.98" font-size="5.0" text-anchor="middle" fill="#222" transform="rotate(-90 384.50 372.98)" >40</text>
<line x1="385.80" y1="353.72" x2="387.80" y2="353.72" stroke="#222" stroke-width="0.7" />
<text x="384.50" y="353.72" font-size="5.0" text-anchor="middle" fill="#222" transform="rotate(-90 384.50 353.72)" >60</text>
<line x1="385.80" y1="334.46" x2="387.80" y2="334.46" stroke="#222" stroke-width="0.7" />
<text x="384.50" y="334.46" font-size="5.0" text-anchor="middle" fill="#222" transform="rotate(-90 384.50 334.46)" >80</text>
<line x1="385.80" y1="315.20" x2="387.80" y2="315.20" stroke="#222" stroke-width="0.7" />
<text x="384.50" y="315.20" font-size="5.0" text-anchor="middle" fill="#222" transform="rotate(-90 384.50 315.20)" >100</text>
<line x1="386.40" y1="407.65" x2="387.80" y2="407.65" stroke="#333" stroke-width="0.5" />
<line x1="386.40" y1="403.80" x2="387.80" y2="403.80" stroke="#333" stroke-width="0.5" />
<line x1="386.40" y1="399.94" x2="387.80" y2="399.94" stroke="#333" stroke-width="0.5" />
<line x1="386.40" y1="396.09" x2="387.80" y2="396.09" stroke="#333" stroke-width="0.5" />
<line x1="386.40" y1="388.39" x2="387.80" y2="388.39" stroke="#333" stroke-width="0.5" />
<line x1="386.40" y1="384.54" x2="387.80" y2="384.54" stroke="#333" stroke-width="0.5" />
<line x1="386.40" y1="380.68" x2="387.80" y2="380.68" stroke="#333" stroke-width="0.5" />
<line x1="386.40" y1="376.83" x2="387.80" y2="376.83" stroke="#333" stroke-width="0.5" />
<line x1="386.40" y1="369.13" x2="387.80" y2="369.13" stroke="#333" stroke-width="0.5" />
<line x1="386.40" y1="365.28" x2="387.80" y2="365.28" stroke="#333" stroke-width="0.5" />
<line x1="386.40" y1="361.42" x2="387.80" y2="361.42" stroke="#333" stroke-width="0.5" />
<line x1="386.40" y1="357.57" x2="387.80" y2="357.57" stroke="#333" stroke-width="0.5" />
<line x1="386.40" y1="349.87" x2="387.80" y2="349.87" stroke="#333" stroke-width="0.5" />
<line x1="386.40" y1="346.02" x2="387.80" y2="346.02" stroke="#333" stroke-width="0.5" />
<line x1="386.40" y1="342.16" x2="387.80" y2="342.16" stroke="#333" stroke-width="0.5" />
<line x1="386.40" y1="338.31" x2="387.80" y2="338.31" stroke="#333" stroke-width="0.5" />
<line x1="386.40" y1="330.61" x2="387.80" y2="330.61" stroke="#333" stroke-width="0.5" />
<line x1="386.40" y1="326.76" x2="387.80" y2="326.76" stroke="#333" stroke-width="0.5" />
<line x1="386.40" y1="322.90" x2="387.80" y2="322.90" stroke="#333" stroke-width="0.5" />
<line x1="386.40" y1="319.05" x2="387.80" y2="319.05" stroke="#333" stroke-width="0.5" />
<line x1="386.40" y1="311.35" x2="387.80" y2="311.35" stroke="#333" stroke-width="0.5" />
<line x1="386.40" y1="307.50" x2="387.80" y2="307.50" stroke="#333" stroke-width="0.5" />
<line x1="387.80" y1="411.50" x2="387.80" y2="413.50" stroke="#222" stroke-width="0.7" />
<line x1="429.01" y1="411.50" x2="429.01" y2="413.50" stroke="#222" stroke-width="0.7" />
<line x1="454.08" y1="411.50" x2="454.08" y2="413.50" stroke="#222" stroke-width="0.7" />
<line x1="495.80" y1="411.50" x2="495.80" y2="413.50" stroke="#222" stroke-width="0.7" />
<line x1="401.54" y1="411.50" x2="401.54" y2="412.70" stroke="#222" stroke-width="0.5" />
<line x1="415.28" y1="411.50" x2="415.28" y2="412.70" stroke="#222" stroke-width="0.5" />
<line x1="441.55" y1="411.50" x2="441.55" y2="412.70" stroke="#222" stroke-width="0.5" />
<line x1="467.99" y1="411.50" x2="467.99" y2="412.70" stroke="#222" stroke-width="0.5" />
<line x1="481.89" y1="411.50" x2="481.89" y2="412.70" stroke="#222" stroke-width="0.5" />
<text x="390.78" y="421.90" font-size="6.4" fill="#222" text-anchor="end">10</text>
<text x="390.98" y="419.20" font-size="4.6" fill="#222" text-anchor="start">2.5</text>
<text x="431.02" y="421.90" font-size="6.4" fill="#222" text-anchor="end">10</text>
<text x="431.22" y="419.20" font-size="4.6" fill="#222" text-anchor="start">4</text>
<text x="453.87" y="421.90" font-size="6.4" fill="#222" text-anchor="end">10</text>
<text x="454.07" y="419.20" font-size="4.6" fill="#222" text-anchor="start">5</text>
<text x="491.93" y="421.90" font-size="6.4" fill="#222" text-anchor="end">10</text>
<text x="492.13" y="419.20" font-size="4.6" fill="#222" text-anchor="start">6.5</text>
<text x="441.80" y="431.50" font-size="5.4" text-anchor="middle" fill="#222" >FITC-H</text>
<text x="374.40" y="359.90" font-size="5.6" text-anchor="middle" fill="#222" textLength="27.60" lengthAdjust="spacingAndGlyphs" transform="rotate(-90 374.40 359.90)" stroke="#222" stroke-width="0.1">Count  (%)</text>
<rect x="390.80" y="306.80" width="13.4" height="3.6" fill="#ececff" stroke="#3a3aff" stroke-width="0.7"/>
<text x="407.10" y="310.60" font-size="5.5" text-anchor="start" fill="#222" textLength="17.52" lengthAdjust="spacingAndGlyphs" stroke="#222" stroke-width="0.12">DMSO</text>
<rect x="390.80" y="315.60" width="13.4" height="3.6" fill="#fde8e8" stroke="#ff3a3a" stroke-width="0.7"/>
<text x="407.10" y="319.40" font-size="5.5" text-anchor="start" fill="#222" textLength="18.18" lengthAdjust="spacingAndGlyphs" stroke="#222" stroke-width="0.12">Erastin</text>
<rect x="390.80" y="324.20" width="13.4" height="3.6" fill="#e6f7e6" stroke="#28c028" stroke-width="0.7"/>
<text x="407.10" y="328.00" font-size="5.5" text-anchor="start" fill="#222" textLength="36.83" lengthAdjust="spacingAndGlyphs" stroke="#222" stroke-width="0.12">si-Ctrl+Erastin</text>
<rect x="390.80" y="332.50" width="13.4" height="3.6" fill="#eee8f6" stroke="#6a30c0" stroke-width="0.7"/>
<text x="407.10" y="336.30" font-size="5.5" text-anchor="start" fill="#222" textLength="40.41" lengthAdjust="spacingAndGlyphs" stroke="#222" stroke-width="0.12">si-SPI1+Erastin</text>
<rect x="390.80" y="341.30" width="13.4" height="3.6" fill="#f3eedb" stroke="#c08a30" stroke-width="0.7"/>
<text x="407.10" y="345.10" font-size="5.5" text-anchor="start" fill="#222" textLength="57.77" lengthAdjust="spacingAndGlyphs" stroke="#222" stroke-width="0.12">si-SPI1+Erastin+Fer-1</text>
<line x1="330.00" y1="393.70" x2="335.50" y2="393.70" stroke="#222" stroke-width="0.9" />
<rect x="220.40" y="352.25" width="15.40" height="41.25" fill="#1000ff" />
<line x1="228.10" y1="352.25" x2="228.10" y2="348.12" stroke="#444" stroke-width="0.5" />
<line x1="225.60" y1="348.12" x2="230.60" y2="348.12" stroke="#444" stroke-width="0.5" />
<circle cx="228.10" cy="348.95" r="0.75" fill="#111"/>
<circle cx="229.10" cy="354.31" r="0.75" fill="#111"/>
<circle cx="227.10" cy="357.20" r="0.75" fill="#111"/>
<rect x="243.20" y="341.94" width="15.70" height="51.56" fill="#ff1e0e" />
<line x1="251.05" y1="341.94" x2="251.05" y2="336.99" stroke="#444" stroke-width="0.5" />
<line x1="248.55" y1="336.99" x2="253.55" y2="336.99" stroke="#444" stroke-width="0.5" />
<circle cx="251.05" cy="338.64" r="0.75" fill="#111"/>
<circle cx="252.05" cy="341.94" r="0.75" fill="#111"/>
<circle cx="250.55" cy="346.89" r="0.75" fill="#111"/>
<rect x="266.30" y="336.99" width="15.40" height="56.51" fill="#44e01c" />
<line x1="274.00" y1="336.99" x2="274.00" y2="334.51" stroke="#444" stroke-width="0.5" />
<line x1="271.50" y1="334.51" x2="276.50" y2="334.51" stroke="#444" stroke-width="0.5" />
<circle cx="274.00" cy="334.93" r="0.75" fill="#111"/>
<circle cx="273.00" cy="336.57" r="0.75" fill="#111"/>
<circle cx="275.00" cy="339.05" r="0.75" fill="#111"/>
<rect x="289.10" y="320.90" width="15.70" height="72.60" fill="#c922ff" />
<line x1="296.95" y1="320.90" x2="296.95" y2="316.77" stroke="#444" stroke-width="0.5" />
<line x1="294.45" y1="316.77" x2="299.45" y2="316.77" stroke="#444" stroke-width="0.5" />
<circle cx="296.95" cy="318.01" r="0.75" fill="#111"/>
<circle cx="297.95" cy="321.73" r="0.75" fill="#111"/>
<circle cx="295.95" cy="324.20" r="0.75" fill="#111"/>
<rect x="312.20" y="334.93" width="15.80" height="58.57" fill="#f2821f" />
<line x1="320.10" y1="334.93" x2="320.10" y2="332.45" stroke="#444" stroke-width="0.5" />
<line x1="317.60" y1="332.45" x2="322.60" y2="332.45" stroke="#444" stroke-width="0.5" />
<circle cx="319.10" cy="332.86" r="0.75" fill="#111"/>
<circle cx="321.10" cy="333.27" r="0.75" fill="#111"/>
<circle cx="320.10" cy="337.40" r="0.75" fill="#111"/>
<line x1="213.40" y1="310.50" x2="213.40" y2="393.50" stroke="#333" stroke-width="0.9" />
<line x1="213.40" y1="393.50" x2="335.00" y2="393.50" stroke="#333" stroke-width="0.9" />
<line x1="211.40" y1="393.50" x2="213.40" y2="393.50" stroke="#333" stroke-width="0.7" />
<text x="210.60" y="395.70" font-size="6.2" text-anchor="end" fill="#222" font-weight="bold" stroke="#222" stroke-width="0.136" >0.0</text>
<line x1="211.40" y1="372.88" x2="213.40" y2="372.88" stroke="#333" stroke-width="0.7" />
<text x="210.60" y="375.07" font-size="6.2" text-anchor="end" fill="#222" font-weight="bold" stroke="#222" stroke-width="0.136" >0.5</text>
<line x1="211.40" y1="352.25" x2="213.40" y2="352.25" stroke="#333" stroke-width="0.7" />
<text x="210.60" y="354.45" font-size="6.2" text-anchor="end" fill="#222" font-weight="bold" stroke="#222" stroke-width="0.136" >1.0</text>
<line x1="211.40" y1="331.62" x2="213.40" y2="331.62" stroke="#333" stroke-width="0.7" />
<text x="210.60" y="333.82" font-size="6.2" text-anchor="end" fill="#222" font-weight="bold" stroke="#222" stroke-width="0.136" >1.5</text>
<line x1="211.40" y1="311.00" x2="213.40" y2="311.00" stroke="#333" stroke-width="0.7" />
<text x="210.60" y="313.20" font-size="6.2" text-anchor="end" fill="#222" font-weight="bold" stroke="#222" stroke-width="0.136" >2.0</text>
<line x1="228.10" y1="393.50" x2="228.10" y2="395.50" stroke="#333" stroke-width="0.7" />
<text x="230.70" y="400.70" font-size="6.5" text-anchor="end" fill="#1a1a1a" font-weight="bold" stroke="#1a1a1a" stroke-width="0.143" transform="rotate(-45 230.70 400.70)" >DMSO</text>
<line x1="251.05" y1="393.50" x2="251.05" y2="395.50" stroke="#333" stroke-width="0.7" />
<text x="253.65" y="400.70" font-size="6.5" text-anchor="end" fill="#1a1a1a" font-weight="bold" stroke="#1a1a1a" stroke-width="0.143" transform="rotate(-45 253.65 400.70)" >Erastin</text>
<line x1="274.00" y1="393.50" x2="274.00" y2="395.50" stroke="#333" stroke-width="0.7" />
<text x="276.60" y="400.70" font-size="6.5" text-anchor="end" fill="#1a1a1a" font-weight="bold" stroke="#1a1a1a" stroke-width="0.143" transform="rotate(-45 276.60 400.70)" >si-Ctrl+Erastin</text>
<line x1="296.95" y1="393.50" x2="296.95" y2="395.50" stroke="#333" stroke-width="0.7" />
<text x="299.55" y="400.70" font-size="6.5" text-anchor="end" fill="#1a1a1a" font-weight="bold" stroke="#1a1a1a" stroke-width="0.143" transform="rotate(-45 299.55 400.70)" >si-SPI1+Erastin</text>
<line x1="320.10" y1="393.50" x2="320.10" y2="395.50" stroke="#333" stroke-width="0.7" />
<text x="322.70" y="400.70" font-size="6.5" text-anchor="end" fill="#1a1a1a" font-weight="bold" stroke="#1a1a1a" stroke-width="0.143" transform="rotate(-45 322.70 400.70)" >si-SPI1+Erastin+Fer-1</text>
<text x="274.20" y="300.30" font-size="8.0" text-anchor="middle" fill="#111" font-weight="bold" stroke="#111" stroke-width="0.176" >786-O</text>
<text x="194.50" y="352.25" font-size="6.7" text-anchor="middle" fill="#111" font-weight="bold" stroke="#111" stroke-width="0.147" transform="rotate(-90 194.50 352.25)" >Relative lipid ROS</text>
<polyline points="228.10,314.90 228.10,312.30 296.35,312.30 296.35,314.90" fill="none" stroke="#555" stroke-width="0.6"/>
<text x="262.23" y="311.70" font-size="3.4" text-anchor="middle" fill="#444" font-weight="bold" >***</text>
<polyline points="297.55,314.90 297.55,312.30 320.10,312.30 320.10,314.90" fill="none" stroke="#555" stroke-width="0.6"/>
<text x="308.83" y="311.70" font-size="3.4" text-anchor="middle" fill="#444" font-weight="bold" >**</text>
<polyline points="228.10,330.60 228.10,328.00 274.00,328.00 274.00,330.60" fill="none" stroke="#555" stroke-width="0.6"/>
<text x="251.05" y="327.40" font-size="3.4" text-anchor="middle" fill="#444" font-weight="bold" >**</text>
<polyline points="228.10,334.30 228.10,331.70 251.05,331.70 251.05,334.30" fill="none" stroke="#555" stroke-width="0.6"/>
<text x="239.57" y="331.10" font-size="3.4" text-anchor="middle" fill="#444" font-weight="bold" >*</text>
<rect x="553.20" y="360.40" width="15.10" height="32.60" fill="#1000ff" />
<line x1="560.75" y1="360.40" x2="560.75" y2="357.14" stroke="#444" stroke-width="0.5" />
<line x1="558.25" y1="357.14" x2="563.25" y2="357.14" stroke="#444" stroke-width="0.5" />
<circle cx="560.75" cy="357.79" r="0.75" fill="#111"/>
<circle cx="561.75" cy="361.05" r="0.75" fill="#111"/>
<circle cx="559.75" cy="363.66" r="0.75" fill="#111"/>
<rect x="576.20" y="346.71" width="15.10" height="46.29" fill="#ff1e0e" />
<line x1="583.75" y1="346.71" x2="583.75" y2="343.45" stroke="#444" stroke-width="0.5" />
<line x1="581.25" y1="343.45" x2="586.25" y2="343.45" stroke="#444" stroke-width="0.5" />
<circle cx="583.75" cy="344.75" r="0.75" fill="#111"/>
<circle cx="584.75" cy="347.36" r="0.75" fill="#111"/>
<circle cx="582.75" cy="348.99" r="0.75" fill="#111"/>
<rect x="599.10" y="346.38" width="15.70" height="46.62" fill="#44e01c" />
<line x1="606.95" y1="346.38" x2="606.95" y2="344.10" stroke="#444" stroke-width="0.5" />
<line x1="604.45" y1="344.10" x2="609.45" y2="344.10" stroke="#444" stroke-width="0.5" />
<circle cx="606.95" cy="344.75" r="0.75" fill="#111"/>
<circle cx="605.95" cy="346.71" r="0.75" fill="#111"/>
<circle cx="607.95" cy="347.36" r="0.75" fill="#111"/>
<rect x="622.00" y="331.06" width="15.70" height="61.94" fill="#c922ff" />
<line x1="629.85" y1="331.06" x2="629.85" y2="327.15" stroke="#444" stroke-width="0.5" />
<line x1="627.35" y1="327.15" x2="632.35" y2="327.15" stroke="#444" stroke-width="0.5" />
<circle cx="629.85" cy="328.45" r="0.75" fill="#111"/>
<circle cx="630.85" cy="331.71" r="0.75" fill="#111"/>
<circle cx="628.85" cy="334.32" r="0.75" fill="#111"/>
<rect x="645.30" y="340.19" width="15.40" height="52.81" fill="#f2821f" />
<line x1="653.00" y1="340.19" x2="653.00" y2="336.93" stroke="#444" stroke-width="0.5" />
<line x1="650.50" y1="336.93" x2="655.50" y2="336.93" stroke="#444" stroke-width="0.5" />
<circle cx="653.00" cy="337.58" r="0.75" fill="#111"/>
<circle cx="654.00" cy="340.84" r="0.75" fill="#111"/>
<circle cx="652.00" cy="343.45" r="0.75" fill="#111"/>
<line x1="545.40" y1="311.00" x2="545.40" y2="393.00" stroke="#333" stroke-width="0.9" />
<line x1="545.40" y1="393.00" x2="668.80" y2="393.00" stroke="#333" stroke-width="0.9" />
<line x1="543.40" y1="393.00" x2="545.40" y2="393.00" stroke="#333" stroke-width="0.7" />
<text x="542.60" y="395.20" font-size="6.2" text-anchor="end" fill="#222" font-weight="bold" stroke="#222" stroke-width="0.136" >0.0</text>
<line x1="543.40" y1="376.70" x2="545.40" y2="376.70" stroke="#333" stroke-width="0.7" />
<text x="542.60" y="378.90" font-size="6.2" text-anchor="end" fill="#222" font-weight="bold" stroke="#222" stroke-width="0.136" >0.5</text>
<line x1="543.40" y1="360.40" x2="545.40" y2="360.40" stroke="#333" stroke-width="0.7" />
<text x="542.60" y="362.60" font-size="6.2" text-anchor="end" fill="#222" font-weight="bold" stroke="#222" stroke-width="0.136" >1.0</text>
<line x1="543.40" y1="344.10" x2="545.40" y2="344.10" stroke="#333" stroke-width="0.7" />
<text x="542.60" y="346.30" font-size="6.2" text-anchor="end" fill="#222" font-weight="bold" stroke="#222" stroke-width="0.136" >1.5</text>
<line x1="543.40" y1="327.80" x2="545.40" y2="327.80" stroke="#333" stroke-width="0.7" />
<text x="542.60" y="330.00" font-size="6.2" text-anchor="end" fill="#222" font-weight="bold" stroke="#222" stroke-width="0.136" >2.0</text>
<line x1="543.40" y1="311.50" x2="545.40" y2="311.50" stroke="#333" stroke-width="0.7" />
<text x="542.60" y="313.70" font-size="6.2" text-anchor="end" fill="#222" font-weight="bold" stroke="#222" stroke-width="0.136" >2.5</text>
<line x1="560.75" y1="393.00" x2="560.75" y2="395.00" stroke="#333" stroke-width="0.7" />
<text x="563.35" y="400.20" font-size="6.5" text-anchor="end" fill="#1a1a1a" font-weight="bold" stroke="#1a1a1a" stroke-width="0.143" transform="rotate(-45 563.35 400.20)" >DMSO</text>
<line x1="583.75" y1="393.00" x2="583.75" y2="395.00" stroke="#333" stroke-width="0.7" />
<text x="586.35" y="400.20" font-size="6.5" text-anchor="end" fill="#1a1a1a" font-weight="bold" stroke="#1a1a1a" stroke-width="0.143" transform="rotate(-45 586.35 400.20)" >Erastin</text>
<line x1="606.95" y1="393.00" x2="606.95" y2="395.00" stroke="#333" stroke-width="0.7" />
<text x="609.55" y="400.20" font-size="6.5" text-anchor="end" fill="#1a1a1a" font-weight="bold" stroke="#1a1a1a" stroke-width="0.143" transform="rotate(-45 609.55 400.20)" >si-Ctrl+Erastin</text>
<line x1="629.85" y1="393.00" x2="629.85" y2="395.00" stroke="#333" stroke-width="0.7" />
<text x="632.45" y="400.20" font-size="6.5" text-anchor="end" fill="#1a1a1a" font-weight="bold" stroke="#1a1a1a" stroke-width="0.143" transform="rotate(-45 632.45 400.20)" >si-SPI1+Erastin</text>
<line x1="653.00" y1="393.00" x2="653.00" y2="395.00" stroke="#333" stroke-width="0.7" />
<text x="655.60" y="400.20" font-size="6.5" text-anchor="end" fill="#1a1a1a" font-weight="bold" stroke="#1a1a1a" stroke-width="0.143" transform="rotate(-45 655.60 400.20)" >si-SPI1+Erastin+Fer-1</text>
<text x="606.70" y="300.80" font-size="8.0" text-anchor="middle" fill="#111" font-weight="bold" stroke="#111" stroke-width="0.176" >ACHN</text>
<text x="526.50" y="352.25" font-size="6.7" text-anchor="middle" fill="#111" font-weight="bold" stroke="#111" stroke-width="0.147" transform="rotate(-90 526.50 352.25)" >Relative lipid ROS</text>
<polyline points="560.75,325.40 560.75,322.80 629.25,322.80 629.25,325.40" fill="none" stroke="#555" stroke-width="0.6"/>
<text x="595.00" y="322.20" font-size="3.4" text-anchor="middle" fill="#444" font-weight="bold" >***</text>
<polyline points="630.45,325.40 630.45,322.80 653.00,322.80 653.00,325.40" fill="none" stroke="#555" stroke-width="0.6"/>
<text x="641.73" y="322.20" font-size="3.4" text-anchor="middle" fill="#444" font-weight="bold" >*</text>
<polyline points="560.75,337.00 560.75,334.40 606.95,334.40 606.95,337.00" fill="none" stroke="#555" stroke-width="0.6"/>
<text x="583.85" y="333.80" font-size="3.4" text-anchor="middle" fill="#444" font-weight="bold" >**</text>
<polyline points="560.75,341.10 560.75,338.50 583.75,338.50 583.75,341.10" fill="none" stroke="#555" stroke-width="0.6"/>
<text x="572.25" y="337.90" font-size="3.4" text-anchor="middle" fill="#444" font-weight="bold" >**</text>
<rect x="50.90" y="533.22" width="14.90" height="16.38" fill="#1000ff" />
<line x1="58.35" y1="533.22" x2="58.35" y2="529.12" stroke="#444" stroke-width="0.5" />
<line x1="55.85" y1="529.12" x2="60.85" y2="529.12" stroke="#444" stroke-width="0.5" />
<circle cx="58.35" cy="528.63" r="0.75" fill="#111"/>
<circle cx="59.35" cy="533.22" r="0.75" fill="#111"/>
<circle cx="57.35" cy="537.32" r="0.75" fill="#111"/>
<rect x="74.00" y="524.21" width="14.90" height="25.39" fill="#ff1e0e" />
<line x1="81.45" y1="524.21" x2="81.45" y2="518.48" stroke="#444" stroke-width="0.5" />
<line x1="78.95" y1="518.48" x2="83.95" y2="518.48" stroke="#444" stroke-width="0.5" />
<circle cx="81.45" cy="518.48" r="0.75" fill="#111"/>
<circle cx="82.45" cy="525.03" r="0.75" fill="#111"/>
<circle cx="80.45" cy="531.58" r="0.75" fill="#111"/>
<rect x="96.80" y="525.85" width="15.40" height="23.75" fill="#44e01c" />
<line x1="104.50" y1="525.85" x2="104.50" y2="522.57" stroke="#444" stroke-width="0.5" />
<line x1="102.00" y1="522.57" x2="107.00" y2="522.57" stroke="#444" stroke-width="0.5" />
<circle cx="104.50" cy="521.75" r="0.75" fill="#111"/>
<circle cx="103.50" cy="526.67" r="0.75" fill="#111"/>
<circle cx="105.50" cy="527.49" r="0.75" fill="#111"/>
<rect x="119.90" y="491.45" width="15.40" height="58.15" fill="#c922ff" />
<line x1="127.60" y1="491.45" x2="127.60" y2="488.18" stroke="#444" stroke-width="0.5" />
<line x1="125.10" y1="488.18" x2="130.10" y2="488.18" stroke="#444" stroke-width="0.5" />
<circle cx="127.60" cy="488.18" r="0.75" fill="#111"/>
<circle cx="128.60" cy="492.27" r="0.75" fill="#111"/>
<circle cx="126.60" cy="495.55" r="0.75" fill="#111"/>
<rect x="142.70" y="509.96" width="15.40" height="39.64" fill="#f2821f" />
<line x1="150.40" y1="509.96" x2="150.40" y2="505.05" stroke="#444" stroke-width="0.5" />
<line x1="147.90" y1="505.05" x2="152.90" y2="505.05" stroke="#444" stroke-width="0.5" />
<circle cx="150.40" cy="503.41" r="0.75" fill="#111"/>
<circle cx="151.40" cy="508.65" r="0.75" fill="#111"/>
<circle cx="149.40" cy="513.56" r="0.75" fill="#111"/>
<line x1="43.40" y1="467.20" x2="43.40" y2="549.60" stroke="#333" stroke-width="0.9" />
<line x1="43.40" y1="549.60" x2="166.40" y2="549.60" stroke="#333" stroke-width="0.9" />
<line x1="41.40" y1="549.60" x2="43.40" y2="549.60" stroke="#333" stroke-width="0.7" />
<text x="40.60" y="551.80" font-size="6.2" text-anchor="end" fill="#222" font-weight="bold" stroke="#222" stroke-width="0.136" >0</text>
<line x1="41.40" y1="533.22" x2="43.40" y2="533.22" stroke="#333" stroke-width="0.7" />
<text x="40.60" y="535.42" font-size="6.2" text-anchor="end" fill="#222" font-weight="bold" stroke="#222" stroke-width="0.136" >1</text>
<line x1="41.40" y1="516.84" x2="43.40" y2="516.84" stroke="#333" stroke-width="0.7" />
<text x="40.60" y="519.04" font-size="6.2" text-anchor="end" fill="#222" font-weight="bold" stroke="#222" stroke-width="0.136" >2</text>
<line x1="41.40" y1="500.46" x2="43.40" y2="500.46" stroke="#333" stroke-width="0.7" />
<text x="40.60" y="502.66" font-size="6.2" text-anchor="end" fill="#222" font-weight="bold" stroke="#222" stroke-width="0.136" >3</text>
<line x1="41.40" y1="484.08" x2="43.40" y2="484.08" stroke="#333" stroke-width="0.7" />
<text x="40.60" y="486.28" font-size="6.2" text-anchor="end" fill="#222" font-weight="bold" stroke="#222" stroke-width="0.136" >4</text>
<line x1="41.40" y1="467.70" x2="43.40" y2="467.70" stroke="#333" stroke-width="0.7" />
<text x="40.60" y="469.90" font-size="6.2" text-anchor="end" fill="#222" font-weight="bold" stroke="#222" stroke-width="0.136" >5</text>
<line x1="58.35" y1="549.60" x2="58.35" y2="551.60" stroke="#333" stroke-width="0.7" />
<text x="60.95" y="556.80" font-size="6.5" text-anchor="end" fill="#1a1a1a" font-weight="bold" stroke="#1a1a1a" stroke-width="0.143" transform="rotate(-45 60.95 556.80)" >DMSO</text>
<line x1="81.45" y1="549.60" x2="81.45" y2="551.60" stroke="#333" stroke-width="0.7" />
<text x="84.05" y="556.80" font-size="6.5" text-anchor="end" fill="#1a1a1a" font-weight="bold" stroke="#1a1a1a" stroke-width="0.143" transform="rotate(-45 84.05 556.80)" >Erastin</text>
<line x1="104.50" y1="549.60" x2="104.50" y2="551.60" stroke="#333" stroke-width="0.7" />
<text x="107.10" y="556.80" font-size="6.5" text-anchor="end" fill="#1a1a1a" font-weight="bold" stroke="#1a1a1a" stroke-width="0.143" transform="rotate(-45 107.10 556.80)" >si-Ctrl+Erastin</text>
<line x1="127.60" y1="549.60" x2="127.60" y2="551.60" stroke="#333" stroke-width="0.7" />
<text x="130.20" y="556.80" font-size="6.5" text-anchor="end" fill="#1a1a1a" font-weight="bold" stroke="#1a1a1a" stroke-width="0.143" transform="rotate(-45 130.20 556.80)" >si-SPI1+Erastin</text>
<line x1="150.40" y1="549.60" x2="150.40" y2="551.60" stroke="#333" stroke-width="0.7" />
<text x="153.00" y="556.80" font-size="6.5" text-anchor="end" fill="#1a1a1a" font-weight="bold" stroke="#1a1a1a" stroke-width="0.143" transform="rotate(-45 153.00 556.80)" >si-SPI1+Erastin+Fer-1</text>
<text x="104.20" y="457.00" font-size="8.0" text-anchor="middle" fill="#111" font-weight="bold" stroke="#111" stroke-width="0.176" >786-O</text>
<text x="30.50" y="508.65" font-size="6.7" text-anchor="middle" fill="#111" font-weight="bold" stroke="#111" stroke-width="0.147" transform="rotate(-90 30.50 508.65)" >Relative MDA Level</text>
<polyline points="58.35,484.70 58.35,482.10 127.00,482.10 127.00,484.70" fill="none" stroke="#555" stroke-width="0.6"/>
<text x="92.68" y="481.50" font-size="3.4" text-anchor="middle" fill="#444" font-weight="bold" >****</text>
<polyline points="128.20,484.70 128.20,482.10 150.40,482.10 150.40,484.70" fill="none" stroke="#555" stroke-width="0.6"/>
<text x="139.30" y="481.50" font-size="3.4" text-anchor="middle" fill="#444" font-weight="bold" >***</text>
<polyline points="58.35,510.30 58.35,507.70 104.50,507.70 104.50,510.30" fill="none" stroke="#555" stroke-width="0.6"/>
<text x="81.42" y="507.10" font-size="3.4" text-anchor="middle" fill="#444" font-weight="bold" >**</text>
<polyline points="58.35,515.70 58.35,513.10 81.45,513.10 81.45,515.70" fill="none" stroke="#555" stroke-width="0.6"/>
<text x="69.90" y="512.50" font-size="3.4" text-anchor="middle" fill="#444" font-weight="bold" >*</text>
<rect x="214.60" y="533.22" width="15.40" height="16.38" fill="#1000ff" />
<line x1="222.30" y1="533.22" x2="222.30" y2="527.49" stroke="#444" stroke-width="0.5" />
<line x1="219.80" y1="527.49" x2="224.80" y2="527.49" stroke="#444" stroke-width="0.5" />
<circle cx="222.30" cy="525.85" r="0.75" fill="#111"/>
<circle cx="223.30" cy="533.22" r="0.75" fill="#111"/>
<circle cx="221.30" cy="538.13" r="0.75" fill="#111"/>
<rect x="237.70" y="516.84" width="15.40" height="32.76" fill="#ff1e0e" />
<line x1="245.40" y1="516.84" x2="245.40" y2="514.38" stroke="#444" stroke-width="0.5" />
<line x1="242.90" y1="514.38" x2="247.90" y2="514.38" stroke="#444" stroke-width="0.5" />
<circle cx="245.40" cy="515.53" r="0.75" fill="#111"/>
<circle cx="246.40" cy="517.66" r="0.75" fill="#111"/>
<circle cx="244.40" cy="518.48" r="0.75" fill="#111"/>
<rect x="260.50" y="516.51" width="15.70" height="33.09" fill="#44e01c" />
<line x1="268.35" y1="516.51" x2="268.35" y2="513.24" stroke="#444" stroke-width="0.5" />
<line x1="265.85" y1="513.24" x2="270.85" y2="513.24" stroke="#444" stroke-width="0.5" />
<circle cx="268.35" cy="511.93" r="0.75" fill="#111"/>
<circle cx="269.35" cy="516.84" r="0.75" fill="#111"/>
<circle cx="267.35" cy="518.48" r="0.75" fill="#111"/>
<rect x="283.60" y="488.67" width="15.40" height="60.93" fill="#c922ff" />
<line x1="291.30" y1="488.67" x2="291.30" y2="483.75" stroke="#444" stroke-width="0.5" />
<line x1="288.80" y1="483.75" x2="293.80" y2="483.75" stroke="#444" stroke-width="0.5" />
<circle cx="291.30" cy="484.08" r="0.75" fill="#111"/>
<circle cx="292.30" cy="488.99" r="0.75" fill="#111"/>
<circle cx="290.30" cy="493.09" r="0.75" fill="#111"/>
<rect x="306.50" y="509.14" width="15.60" height="40.46" fill="#f2821f" />
<line x1="314.30" y1="509.14" x2="314.30" y2="500.95" stroke="#444" stroke-width="0.5" />
<line x1="311.80" y1="500.95" x2="316.80" y2="500.95" stroke="#444" stroke-width="0.5" />
<circle cx="314.30" cy="502.92" r="0.75" fill="#111"/>
<circle cx="315.30" cy="510.29" r="0.75" fill="#111"/>
<circle cx="313.30" cy="519.30" r="0.75" fill="#111"/>
<line x1="207.20" y1="467.20" x2="207.20" y2="549.60" stroke="#333" stroke-width="0.9" />
<line x1="207.20" y1="549.60" x2="330.80" y2="549.60" stroke="#333" stroke-width="0.9" />
<line x1="205.20" y1="549.60" x2="207.20" y2="549.60" stroke="#333" stroke-width="0.7" />
<text x="204.40" y="551.80" font-size="6.2" text-anchor="end" fill="#222" font-weight="bold" stroke="#222" stroke-width="0.136" >0</text>
<line x1="205.20" y1="533.22" x2="207.20" y2="533.22" stroke="#333" stroke-width="0.7" />
<text x="204.40" y="535.42" font-size="6.2" text-anchor="end" fill="#222" font-weight="bold" stroke="#222" stroke-width="0.136" >1</text>
<line x1="205.20" y1="516.84" x2="207.20" y2="516.84" stroke="#333" stroke-width="0.7" />
<text x="204.40" y="519.04" font-size="6.2" text-anchor="end" fill="#222" font-weight="bold" stroke="#222" stroke-width="0.136" >2</text>
<line x1="205.20" y1="500.46" x2="207.20" y2="500.46" stroke="#333" stroke-width="0.7" />
<text x="204.40" y="502.66" font-size="6.2" text-anchor="end" fill="#222" font-weight="bold" stroke="#222" stroke-width="0.136" >3</text>
<line x1="205.20" y1="484.08" x2="207.20" y2="484.08" stroke="#333" stroke-width="0.7" />
<text x="204.40" y="486.28" font-size="6.2" text-anchor="end" fill="#222" font-weight="bold" stroke="#222" stroke-width="0.136" >4</text>
<line x1="205.20" y1="467.70" x2="207.20" y2="467.70" stroke="#333" stroke-width="0.7" />
<text x="204.40" y="469.90" font-size="6.2" text-anchor="end" fill="#222" font-weight="bold" stroke="#222" stroke-width="0.136" >5</text>
<line x1="222.30" y1="549.60" x2="222.30" y2="551.60" stroke="#333" stroke-width="0.7" />
<text x="224.90" y="556.80" font-size="6.5" text-anchor="end" fill="#1a1a1a" font-weight="bold" stroke="#1a1a1a" stroke-width="0.143" transform="rotate(-45 224.90 556.80)" >DMSO</text>
<line x1="245.40" y1="549.60" x2="245.40" y2="551.60" stroke="#333" stroke-width="0.7" />
<text x="248.00" y="556.80" font-size="6.5" text-anchor="end" fill="#1a1a1a" font-weight="bold" stroke="#1a1a1a" stroke-width="0.143" transform="rotate(-45 248.00 556.80)" >Erastin</text>
<line x1="268.35" y1="549.60" x2="268.35" y2="551.60" stroke="#333" stroke-width="0.7" />
<text x="270.95" y="556.80" font-size="6.5" text-anchor="end" fill="#1a1a1a" font-weight="bold" stroke="#1a1a1a" stroke-width="0.143" transform="rotate(-45 270.95 556.80)" >si-Ctrl+Erastin</text>
<line x1="291.30" y1="549.60" x2="291.30" y2="551.60" stroke="#333" stroke-width="0.7" />
<text x="293.90" y="556.80" font-size="6.5" text-anchor="end" fill="#1a1a1a" font-weight="bold" stroke="#1a1a1a" stroke-width="0.143" transform="rotate(-45 293.90 556.80)" >si-SPI1+Erastin</text>
<line x1="314.30" y1="549.60" x2="314.30" y2="551.60" stroke="#333" stroke-width="0.7" />
<text x="316.90" y="556.80" font-size="6.5" text-anchor="end" fill="#1a1a1a" font-weight="bold" stroke="#1a1a1a" stroke-width="0.143" transform="rotate(-45 316.90 556.80)" >si-SPI1+Erastin+Fer-1</text>
<text x="268.70" y="457.00" font-size="8.0" text-anchor="middle" fill="#111" font-weight="bold" stroke="#111" stroke-width="0.176" >ACHN</text>
<text x="194.50" y="508.65" font-size="6.7" text-anchor="middle" fill="#111" font-weight="bold" stroke="#111" stroke-width="0.147" transform="rotate(-90 194.50 508.65)" >Relative MDA Level</text>
<polyline points="222.30,482.20 222.30,479.60 290.70,479.60 290.70,482.20" fill="none" stroke="#555" stroke-width="0.6"/>
<text x="256.50" y="479.00" font-size="3.4" text-anchor="middle" fill="#444" font-weight="bold" >****</text>
<polyline points="291.90,482.20 291.90,479.60 314.30,479.60 314.30,482.20" fill="none" stroke="#555" stroke-width="0.6"/>
<text x="303.10" y="479.00" font-size="3.4" text-anchor="middle" fill="#444" font-weight="bold" >**</text>
<polyline points="222.30,506.60 222.30,504.00 268.35,504.00 268.35,506.60" fill="none" stroke="#555" stroke-width="0.6"/>
<text x="245.33" y="503.40" font-size="3.4" text-anchor="middle" fill="#444" font-weight="bold" >**</text>
<polyline points="222.30,512.00 222.30,509.40 245.40,509.40 245.40,512.00" fill="none" stroke="#555" stroke-width="0.6"/>
<text x="233.85" y="508.80" font-size="3.4" text-anchor="middle" fill="#444" font-weight="bold" >**</text>
<rect x="387.00" y="528.62" width="15.00" height="20.48" fill="#1000ff" />
<line x1="394.50" y1="528.62" x2="394.50" y2="524.53" stroke="#444" stroke-width="0.5" />
<line x1="392.00" y1="524.53" x2="397.00" y2="524.53" stroke="#444" stroke-width="0.5" />
<circle cx="394.50" cy="524.12" r="0.75" fill="#111"/>
<circle cx="395.50" cy="529.65" r="0.75" fill="#111"/>
<circle cx="393.50" cy="532.72" r="0.75" fill="#111"/>
<rect x="410.00" y="516.95" width="15.00" height="32.15" fill="#ff1e0e" />
<line x1="417.50" y1="516.95" x2="417.50" y2="509.79" stroke="#444" stroke-width="0.5" />
<line x1="415.00" y1="509.79" x2="420.00" y2="509.79" stroke="#444" stroke-width="0.5" />
<circle cx="417.50" cy="510.20" r="0.75" fill="#111"/>
<circle cx="418.50" cy="518.39" r="0.75" fill="#111"/>
<circle cx="416.50" cy="526.58" r="0.75" fill="#111"/>
<rect x="433.00" y="514.91" width="15.40" height="34.19" fill="#44e01c" />
<line x1="440.70" y1="514.91" x2="440.70" y2="509.79" stroke="#444" stroke-width="0.5" />
<line x1="438.20" y1="509.79" x2="443.20" y2="509.79" stroke="#444" stroke-width="0.5" />
<circle cx="440.70" cy="510.20" r="0.75" fill="#111"/>
<circle cx="439.70" cy="516.34" r="0.75" fill="#111"/>
<circle cx="441.70" cy="522.48" r="0.75" fill="#111"/>
<rect x="456.00" y="495.87" width="15.40" height="53.24" fill="#c922ff" />
<line x1="463.70" y1="495.87" x2="463.70" y2="490.75" stroke="#444" stroke-width="0.5" />
<line x1="461.20" y1="490.75" x2="466.20" y2="490.75" stroke="#444" stroke-width="0.5" />
<circle cx="463.70" cy="490.75" r="0.75" fill="#111"/>
<circle cx="464.70" cy="495.87" r="0.75" fill="#111"/>
<circle cx="462.70" cy="502.01" r="0.75" fill="#111"/>
<rect x="479.00" y="508.76" width="15.30" height="40.34" fill="#f2821f" />
<line x1="486.65" y1="508.76" x2="486.65" y2="501.60" stroke="#444" stroke-width="0.5" />
<line x1="484.15" y1="501.60" x2="489.15" y2="501.60" stroke="#444" stroke-width="0.5" />
<circle cx="486.65" cy="502.01" r="0.75" fill="#111"/>
<circle cx="487.65" cy="510.20" r="0.75" fill="#111"/>
<circle cx="485.65" cy="518.39" r="0.75" fill="#111"/>
<line x1="379.10" y1="466.70" x2="379.10" y2="549.10" stroke="#333" stroke-width="0.9" />
<line x1="379.10" y1="549.10" x2="502.20" y2="549.10" stroke="#333" stroke-width="0.9" />
<line x1="377.10" y1="549.10" x2="379.10" y2="549.10" stroke="#333" stroke-width="0.7" />
<text x="376.30" y="551.30" font-size="6.2" text-anchor="end" fill="#222" font-weight="bold" stroke="#222" stroke-width="0.136" >0</text>
<line x1="377.10" y1="528.62" x2="379.10" y2="528.62" stroke="#333" stroke-width="0.7" />
<text x="376.30" y="530.83" font-size="6.2" text-anchor="end" fill="#222" font-weight="bold" stroke="#222" stroke-width="0.136" >1</text>
<line x1="377.10" y1="508.15" x2="379.10" y2="508.15" stroke="#333" stroke-width="0.7" />
<text x="376.30" y="510.35" font-size="6.2" text-anchor="end" fill="#222" font-weight="bold" stroke="#222" stroke-width="0.136" >2</text>
<line x1="377.10" y1="487.68" x2="379.10" y2="487.68" stroke="#333" stroke-width="0.7" />
<text x="376.30" y="489.88" font-size="6.2" text-anchor="end" fill="#222" font-weight="bold" stroke="#222" stroke-width="0.136" >3</text>
<line x1="377.10" y1="467.20" x2="379.10" y2="467.20" stroke="#333" stroke-width="0.7" />
<text x="376.30" y="469.40" font-size="6.2" text-anchor="end" fill="#222" font-weight="bold" stroke="#222" stroke-width="0.136" >4</text>
<line x1="394.50" y1="549.10" x2="394.50" y2="551.10" stroke="#333" stroke-width="0.7" />
<text x="397.10" y="556.30" font-size="6.5" text-anchor="end" fill="#1a1a1a" font-weight="bold" stroke="#1a1a1a" stroke-width="0.143" transform="rotate(-45 397.10 556.30)" >DMSO</text>
<line x1="417.50" y1="549.10" x2="417.50" y2="551.10" stroke="#333" stroke-width="0.7" />
<text x="420.10" y="556.30" font-size="6.5" text-anchor="end" fill="#1a1a1a" font-weight="bold" stroke="#1a1a1a" stroke-width="0.143" transform="rotate(-45 420.10 556.30)" >Erastin</text>
<line x1="440.70" y1="549.10" x2="440.70" y2="551.10" stroke="#333" stroke-width="0.7" />
<text x="443.30" y="556.30" font-size="6.5" text-anchor="end" fill="#1a1a1a" font-weight="bold" stroke="#1a1a1a" stroke-width="0.143" transform="rotate(-45 443.30 556.30)" >si-Ctrl+Erastin</text>
<line x1="463.70" y1="549.10" x2="463.70" y2="551.10" stroke="#333" stroke-width="0.7" />
<text x="466.30" y="556.30" font-size="6.5" text-anchor="end" fill="#1a1a1a" font-weight="bold" stroke="#1a1a1a" stroke-width="0.143" transform="rotate(-45 466.30 556.30)" >si-SPI1+Erastin</text>
<line x1="486.65" y1="549.10" x2="486.65" y2="551.10" stroke="#333" stroke-width="0.7" />
<text x="489.25" y="556.30" font-size="6.5" text-anchor="end" fill="#1a1a1a" font-weight="bold" stroke="#1a1a1a" stroke-width="0.143" transform="rotate(-45 489.25 556.30)" >si-SPI1+Erastin+Fer-1</text>
<text x="440.40" y="456.50" font-size="8.0" text-anchor="middle" fill="#111" font-weight="bold" stroke="#111" stroke-width="0.176" >786-O</text>
<text x="366.00" y="508.15" font-size="6.7" font-weight="bold" fill="#111" text-anchor="middle" transform="rotate(-90 366.00 508.15)">Relative Fe<tspan dy="-2.4" font-size="4.4">2+</tspan><tspan dy="2.4"> Level</tspan></text>
<polyline points="394.50,487.70 394.50,485.10 463.10,485.10 463.10,487.70" fill="none" stroke="#555" stroke-width="0.6"/>
<text x="428.80" y="484.50" font-size="3.4" text-anchor="middle" fill="#444" font-weight="bold" >**</text>
<polyline points="464.30,487.70 464.30,485.10 486.65,485.10 486.65,487.70" fill="none" stroke="#555" stroke-width="0.6"/>
<text x="475.48" y="484.50" font-size="3.4" text-anchor="middle" fill="#444" font-weight="bold" >*</text>
<polyline points="394.50,500.80 394.50,498.20 440.70,498.20 440.70,500.80" fill="none" stroke="#555" stroke-width="0.6"/>
<text x="417.60" y="497.60" font-size="3.4" text-anchor="middle" fill="#444" font-weight="bold" >**</text>
<polyline points="394.50,505.80 394.50,503.20 417.50,503.20 417.50,505.80" fill="none" stroke="#555" stroke-width="0.6"/>
<text x="406.00" y="502.60" font-size="3.4" text-anchor="middle" fill="#444" font-weight="bold" >*</text>
<rect x="556.70" y="532.50" width="14.90" height="16.30" fill="#1000ff" />
<line x1="564.15" y1="532.50" x2="564.15" y2="527.61" stroke="#444" stroke-width="0.5" />
<line x1="561.65" y1="527.61" x2="566.65" y2="527.61" stroke="#444" stroke-width="0.5" />
<circle cx="564.15" cy="527.61" r="0.75" fill="#111"/>
<circle cx="565.15" cy="532.50" r="0.75" fill="#111"/>
<circle cx="563.15" cy="539.02" r="0.75" fill="#111"/>
<rect x="579.70" y="517.50" width="14.80" height="31.30" fill="#ff1e0e" />
<line x1="587.10" y1="517.50" x2="587.10" y2="512.61" stroke="#444" stroke-width="0.5" />
<line x1="584.60" y1="512.61" x2="589.60" y2="512.61" stroke="#444" stroke-width="0.5" />
<circle cx="587.10" cy="512.94" r="0.75" fill="#111"/>
<circle cx="588.10" cy="519.46" r="0.75" fill="#111"/>
<circle cx="586.10" cy="523.53" r="0.75" fill="#111"/>
<rect x="602.60" y="517.50" width="15.40" height="31.30" fill="#44e01c" />
<line x1="610.30" y1="517.50" x2="610.30" y2="511.80" stroke="#444" stroke-width="0.5" />
<line x1="607.80" y1="511.80" x2="612.80" y2="511.80" stroke="#444" stroke-width="0.5" />
<circle cx="610.30" cy="511.31" r="0.75" fill="#111"/>
<circle cx="609.30" cy="517.83" r="0.75" fill="#111"/>
<circle cx="611.30" cy="523.53" r="0.75" fill="#111"/>
<rect x="625.60" y="487.35" width="15.40" height="61.45" fill="#c922ff" />
<line x1="633.30" y1="487.35" x2="633.30" y2="481.64" stroke="#444" stroke-width="0.5" />
<line x1="630.80" y1="481.64" x2="635.80" y2="481.64" stroke="#444" stroke-width="0.5" />
<circle cx="633.30" cy="478.71" r="0.75" fill="#111"/>
<circle cx="634.30" cy="486.86" r="0.75" fill="#111"/>
<circle cx="632.30" cy="495.01" r="0.75" fill="#111"/>
<rect x="648.50" y="510.50" width="15.70" height="38.30" fill="#f2821f" />
<line x1="656.35" y1="510.50" x2="656.35" y2="506.42" stroke="#444" stroke-width="0.5" />
<line x1="653.85" y1="506.42" x2="658.85" y2="506.42" stroke="#444" stroke-width="0.5" />
<circle cx="656.35" cy="507.24" r="0.75" fill="#111"/>
<circle cx="657.35" cy="511.31" r="0.75" fill="#111"/>
<circle cx="655.35" cy="516.20" r="0.75" fill="#111"/>
<line x1="548.60" y1="466.80" x2="548.60" y2="548.80" stroke="#333" stroke-width="0.9" />
<line x1="548.60" y1="548.80" x2="672.80" y2="548.80" stroke="#333" stroke-width="0.9" />
<line x1="546.60" y1="548.80" x2="548.60" y2="548.80" stroke="#333" stroke-width="0.7" />
<text x="545.80" y="551.00" font-size="6.2" text-anchor="end" fill="#222" font-weight="bold" stroke="#222" stroke-width="0.136" >0</text>
<line x1="546.60" y1="532.50" x2="548.60" y2="532.50" stroke="#333" stroke-width="0.7" />
<text x="545.80" y="534.70" font-size="6.2" text-anchor="end" fill="#222" font-weight="bold" stroke="#222" stroke-width="0.136" >1</text>
<line x1="546.60" y1="516.20" x2="548.60" y2="516.20" stroke="#333" stroke-width="0.7" />
<text x="545.80" y="518.40" font-size="6.2" text-anchor="end" fill="#222" font-weight="bold" stroke="#222" stroke-width="0.136" >2</text>
<line x1="546.60" y1="499.90" x2="548.60" y2="499.90" stroke="#333" stroke-width="0.7" />
<text x="545.80" y="502.10" font-size="6.2" text-anchor="end" fill="#222" font-weight="bold" stroke="#222" stroke-width="0.136" >3</text>
<line x1="546.60" y1="483.60" x2="548.60" y2="483.60" stroke="#333" stroke-width="0.7" />
<text x="545.80" y="485.80" font-size="6.2" text-anchor="end" fill="#222" font-weight="bold" stroke="#222" stroke-width="0.136" >4</text>
<line x1="546.60" y1="467.30" x2="548.60" y2="467.30" stroke="#333" stroke-width="0.7" />
<text x="545.80" y="469.50" font-size="6.2" text-anchor="end" fill="#222" font-weight="bold" stroke="#222" stroke-width="0.136" >5</text>
<line x1="564.15" y1="548.80" x2="564.15" y2="550.80" stroke="#333" stroke-width="0.7" />
<text x="566.75" y="556.00" font-size="6.5" text-anchor="end" fill="#1a1a1a" font-weight="bold" stroke="#1a1a1a" stroke-width="0.143" transform="rotate(-45 566.75 556.00)" >DMSO</text>
<line x1="587.10" y1="548.80" x2="587.10" y2="550.80" stroke="#333" stroke-width="0.7" />
<text x="589.70" y="556.00" font-size="6.5" text-anchor="end" fill="#1a1a1a" font-weight="bold" stroke="#1a1a1a" stroke-width="0.143" transform="rotate(-45 589.70 556.00)" >Erastin</text>
<line x1="610.30" y1="548.80" x2="610.30" y2="550.80" stroke="#333" stroke-width="0.7" />
<text x="612.90" y="556.00" font-size="6.5" text-anchor="end" fill="#1a1a1a" font-weight="bold" stroke="#1a1a1a" stroke-width="0.143" transform="rotate(-45 612.90 556.00)" >si-Ctrl+Erastin</text>
<line x1="633.30" y1="548.80" x2="633.30" y2="550.80" stroke="#333" stroke-width="0.7" />
<text x="635.90" y="556.00" font-size="6.5" text-anchor="end" fill="#1a1a1a" font-weight="bold" stroke="#1a1a1a" stroke-width="0.143" transform="rotate(-45 635.90 556.00)" >si-SPI1+Erastin</text>
<line x1="656.35" y1="548.80" x2="656.35" y2="550.80" stroke="#333" stroke-width="0.7" />
<text x="658.95" y="556.00" font-size="6.5" text-anchor="end" fill="#1a1a1a" font-weight="bold" stroke="#1a1a1a" stroke-width="0.143" transform="rotate(-45 658.95 556.00)" >si-SPI1+Erastin+Fer-1</text>
<text x="610.20" y="456.60" font-size="8.0" text-anchor="middle" fill="#111" font-weight="bold" stroke="#111" stroke-width="0.176" >ACHN</text>
<text x="534.50" y="508.05" font-size="6.7" font-weight="bold" fill="#111" text-anchor="middle" transform="rotate(-90 534.50 508.05)">Relative Fe<tspan dy="-2.4" font-size="4.4">2+</tspan><tspan dy="2.4"> Level</tspan></text>
<polyline points="564.15,479.10 564.15,476.50 632.70,476.50 632.70,479.10" fill="none" stroke="#555" stroke-width="0.6"/>
<text x="598.42" y="475.90" font-size="3.4" text-anchor="middle" fill="#444" font-weight="bold" >****</text>
<polyline points="633.90,479.10 633.90,476.50 656.35,476.50 656.35,479.10" fill="none" stroke="#555" stroke-width="0.6"/>
<text x="645.12" y="475.90" font-size="3.4" text-anchor="middle" fill="#444" font-weight="bold" >***</text>
<polyline points="564.15,505.60 564.15,503.00 610.30,503.00 610.30,505.60" fill="none" stroke="#555" stroke-width="0.6"/>
<text x="587.23" y="502.40" font-size="3.4" text-anchor="middle" fill="#444" font-weight="bold" >**</text>
<polyline points="564.15,510.10 564.15,507.50 587.10,507.50 587.10,510.10" fill="none" stroke="#555" stroke-width="0.6"/>
<text x="575.62" y="506.90" font-size="3.4" text-anchor="middle" fill="#444" font-weight="bold" >**</text>
<clipPath id="clip57_626"><rect x="57" y="626" width="126" height="98"/></clipPath>
<g clip-path="url(#clip57_626)">
<rect x="57.00" y="626.00" width="126.00" height="98.00" fill="#ececec" />
<g transform="translate(55 622) scale(0.19268)"><g filter="url(#rough)">
<polygon points="10,210 50,228 90,258 120,300 140,350 142,420 128,480 118,529 10,529" fill="#c0c0c0" />
<path d="M15,25 C60,70 100,110 110,170 C115,220 140,242 165,236 C185,232 195,240 205,252" fill="none" stroke="#9a9a9a" stroke-width="7"/>
<polygon points="262,20 520,20 470,70 460,92 480,122 495,170 505,230 500,280 480,320 440,360 390,390 340,415 290,440 250,465 225,500 215,529 128,529 145,470 170,400 195,330 215,260 235,190 252,120 262,60" fill="#ababab" />
<polygon points="255,95 290,98 285,130 262,135" fill="#e6e6e6" />
<ellipse cx="392" cy="200" rx="92" ry="100" fill="#aaaaaa" transform="rotate(0 392 200)" stroke="#707070" stroke-width="6"/>
<ellipse cx="330" cy="205" rx="30" ry="45" fill="none" transform="rotate(0 330 205)" stroke="#6a6a6a" stroke-width="5"/>
<ellipse cx="452" cy="205" rx="20" ry="45" fill="#6e6e6e" transform="rotate(0 452 205)" />
<polygon points="600,20 660,20 660,165 640,168 620,145 612,100" fill="#9a9a9a" />
<polygon points="628,290 660,275 660,385 640,375 630,340" fill="#a0a0a0" />
<polygon points="565,45 585,40 600,80 585,85" fill="#909090" />
<ellipse cx="335.7" cy="312.7" rx="5.7" ry="4.5" fill="#4a4a4a" transform="rotate(154 335.7 312.7)" />
<ellipse cx="257.0" cy="405.5" rx="4.2" ry="3.5" fill="#5a5a5a" transform="rotate(17 257.0 405.5)" />
<ellipse cx="291.0" cy="134.5" rx="5.3" ry="4.7" fill="#5a5a5a" transform="rotate(107 291.0 134.5)" />
<ellipse cx="318.8" cy="272.1" rx="5.1" ry="4.4" fill="#4a4a4a" transform="rotate(3 318.8 272.1)" />
<ellipse cx="358.5" cy="122.6" rx="3.2" ry="2.2" fill="#5a5a5a" transform="rotate(140 358.5 122.6)" />
<ellipse cx="297.9" cy="324.6" rx="3.2" ry="2.2" fill="#6a6a6a" transform="rotate(90 297.9 324.6)" />
<ellipse cx="398.7" cy="273.8" rx="3.5" ry="3.5" fill="#5a5a5a" transform="rotate(127 398.7 273.8)" />
<ellipse cx="294.6" cy="187.3" rx="3.5" ry="2.2" fill="#5a5a5a" transform="rotate(72 294.6 187.3)" />
<ellipse cx="454.0" cy="246.9" rx="5.9" ry="5.5" fill="#5a5a5a" transform="rotate(38 454.0 246.9)" />
<ellipse cx="478.1" cy="119.9" rx="3.8" ry="3.4" fill="#6a6a6a" transform="rotate(13 478.1 119.9)" />
<ellipse cx="280.9" cy="133.1" rx="3.7" ry="3.6" fill="#5a5a5a" transform="rotate(24 280.9 133.1)" />
<ellipse cx="412.1" cy="104.2" rx="4.1" ry="3.3" fill="#4a4a4a" transform="rotate(101 412.1 104.2)" />
<ellipse cx="334.2" cy="172.5" rx="5.1" ry="3.3" fill="#4a4a4a" transform="rotate(69 334.2 172.5)" />
<ellipse cx="200.1" cy="428.4" rx="5.9" ry="4.9" fill="#5a5a5a" transform="rotate(38 200.1 428.4)" />
</g></g>
<rect x="57" y="626" width="126" height="98" fill="#000" filter="url(#n2bd1)"/>
<rect x="57" y="626" width="126" height="98" fill="#000" filter="url(#n2bl1)"/>
<mask id="m57_626" maskUnits="userSpaceOnUse" x="57" y="626" width="126" height="98"><rect x="57" y="626" width="126" height="98" fill="#000"/><g transform="translate(55 622) scale(0.19268)"><g filter="url(#rough)">
<polygon points="10,210 50,228 90,258 120,300 140,350 142,420 128,480 118,529 10,529" fill="#fff" />
<polygon points="262,20 520,20 470,70 460,92 480,122 495,170 505,230 500,280 480,320 440,360 390,390 340,415 290,440 250,465 225,500 215,529 128,529 145,470 170,400 195,330 215,260 235,190 252,120 262,60" fill="#fff" />
<polygon points="255,95 290,98 285,130 262,135" fill="#000" />
<ellipse cx="392" cy="200" rx="92" ry="100" fill="#fff" transform="rotate(0 392 200)" stroke="#fff" stroke-width="6"/>
<ellipse cx="452" cy="205" rx="20" ry="45" fill="#fff" transform="rotate(0 452 205)" />
<polygon points="600,20 660,20 660,165 640,168 620,145 612,100" fill="#fff" />
<polygon points="628,290 660,275 660,385 640,375 630,340" fill="#fff" />
<polygon points="565,45 585,40 600,80 585,85" fill="#fff" />
<ellipse cx="335.7" cy="312.7" rx="5.7" ry="4.5" fill="#000" transform="rotate(154 335.7 312.7)" />
<ellipse cx="257.0" cy="405.5" rx="4.2" ry="3.5" fill="#000" transform="rotate(17 257.0 405.5)" />
<ellipse cx="291.0" cy="134.5" rx="5.3" ry="4.7" fill="#000" transform="rotate(107 291.0 134.5)" />
<ellipse cx="318.8" cy="272.1" rx="5.1" ry="4.4" fill="#000" transform="rotate(3 318.8 272.1)" />
<ellipse cx="358.5" cy="122.6" rx="3.2" ry="2.2" fill="#000" transform="rotate(140 358.5 122.6)" />
<ellipse cx="297.9" cy="324.6" rx="3.2" ry="2.2" fill="#000" transform="rotate(90 297.9 324.6)" />
<ellipse cx="398.7" cy="273.8" rx="3.5" ry="3.5" fill="#000" transform="rotate(127 398.7 273.8)" />
<ellipse cx="294.6" cy="187.3" rx="3.5" ry="2.2" fill="#000" transform="rotate(72 294.6 187.3)" />
<ellipse cx="454.0" cy="246.9" rx="5.9" ry="5.5" fill="#000" transform="rotate(38 454.0 246.9)" />
<ellipse cx="478.1" cy="119.9" rx="3.8" ry="3.4" fill="#000" transform="rotate(13 478.1 119.9)" />
<ellipse cx="280.9" cy="133.1" rx="3.7" ry="3.6" fill="#000" transform="rotate(24 280.9 133.1)" />
<ellipse cx="412.1" cy="104.2" rx="4.1" ry="3.3" fill="#000" transform="rotate(101 412.1 104.2)" />
<ellipse cx="334.2" cy="172.5" rx="5.1" ry="3.3" fill="#000" transform="rotate(69 334.2 172.5)" />
<ellipse cx="200.1" cy="428.4" rx="5.9" ry="4.9" fill="#000" transform="rotate(38 200.1 428.4)" />
</g></g></mask>
<rect x="57" y="626" width="126" height="98" fill="#000" mask="url(#m57_626)" filter="url(#n2fd1)"/>
<rect x="57" y="626" width="126" height="98" fill="#000" mask="url(#m57_626)" filter="url(#n2fl1)"/>
<g transform="translate(55 622) scale(0.19268)">
<line x1="415" y1="405" x2="321.0" y2="334.1" stroke="#000" stroke-width="5"/>
<polygon points="297,316 327.6,325.3 314.3,342.8" fill="#000"/>
</g>
<rect x="57.00" y="719.70" width="126.00" height="4.30" fill="#050505" />
<rect x="58.00" y="720.30" width="24.00" height="1.00" fill="#4a4a4a" />
<rect x="177.00" y="721.00" width="4.50" height="1.00" fill="#5a5a5a" />
</g>
<clipPath id="clip188_626"><rect x="188" y="626" width="126" height="98"/></clipPath>
<g clip-path="url(#clip188_626)">
<rect x="188.00" y="626.00" width="126.00" height="98.00" fill="#b3b3b3" />
<g transform="translate(186 622) scale(0.19268)"><g filter="url(#rough)">
<polygon points="0,0 700,0 700,560 0,560" fill="#b3b3b3" />
<ellipse cx="320" cy="335" rx="150" ry="140" fill="#bababa" transform="rotate(0 320 335)" stroke="#7c7c7c" stroke-width="7"/>
<polygon points="10,20 68,20 105,70 130,130 145,200 148,270 140,305 120,302 90,290 55,262 42,230 30,190 10,178" fill="#ececec" />
<polygon points="10,292 60,302 120,342 160,400 200,430 260,458 320,478 345,505 335,529 150,529 145,480 120,432 70,382 10,348" fill="#ececec" />
<polygon points="160,20 208,20 300,125 400,228 470,302 552,382 542,392 460,318 388,244 288,140 200,52" fill="#e2e2e2" />
<polygon points="390,20 490,20 552,80 602,140 662,190 662,312 630,282 600,232 550,172 490,112 430,60" fill="#ececec" />
<polygon points="560,20 662,20 662,120 620,90 580,50" fill="#a8a8a8" />
<polygon points="468,452 540,432 600,442 662,462 662,529 458,529" fill="#ececec" />
<ellipse cx="360" cy="355" rx="18" ry="10" fill="#6a6a6a" transform="rotate(0 360 355)" />
<ellipse cx="380" cy="410" rx="10" ry="14" fill="#6a6a6a" transform="rotate(0 380 410)" />
</g></g>
<rect x="188" y="626" width="126" height="98" fill="#000" filter="url(#n2bd2)"/>
<rect x="188" y="626" width="126" height="98" fill="#000" filter="url(#n2bl2)"/>
<mask id="m188_626" maskUnits="userSpaceOnUse" x="188" y="626" width="126" height="98"><rect x="188" y="626" width="126" height="98" fill="#000"/><g transform="translate(186 622) scale(0.19268)"><g filter="url(#rough)">
<polygon points="0,0 700,0 700,560 0,560" fill="#fff" />
<ellipse cx="320" cy="335" rx="150" ry="140" fill="#fff" transform="rotate(0 320 335)" stroke="#fff" stroke-width="7"/>
<polygon points="10,20 68,20 105,70 130,130 145,200 148,270 140,305 120,302 90,290 55,262 42,230 30,190 10,178" fill="#000" />
<polygon points="10,292 60,302 120,342 160,400 200,430 260,458 320,478 345,505 335,529 150,529 145,480 120,432 70,382 10,348" fill="#000" />
<polygon points="160,20 208,20 300,125 400,228 470,302 552,382 542,392 460,318 388,244 288,140 200,52" fill="#000" />
<polygon points="390,20 490,20 552,80 602,140 662,190 662,312 630,282 600,232 550,172 490,112 430,60" fill="#000" />
<polygon points="560,20 662,20 662,120 620,90 580,50" fill="#000" />
<polygon points="468,452 540,432 600,442 662,462 662,529 458,529" fill="#000" />
<ellipse cx="360" cy="355" rx="18" ry="10" fill="#000" transform="rotate(0 360 355)" />
<ellipse cx="380" cy="410" rx="10" ry="14" fill="#000" transform="rotate(0 380 410)" />
</g></g></mask>
<rect x="188" y="626" width="126" height="98" fill="#000" mask="url(#m188_626)" filter="url(#n2fd2)"/>
<rect x="188" y="626" width="126" height="98" fill="#000" mask="url(#m188_626)" filter="url(#n2fl2)"/>
<g transform="translate(186 622) scale(0.19268)">
<line x1="385" y1="240" x2="240.9" y2="155.2" stroke="#000" stroke-width="5"/>
<polygon points="215,140 246.4,145.7 235.3,164.7" fill="#000"/>
</g>
<rect x="188.00" y="719.70" width="126.00" height="4.30" fill="#050505" />
<rect x="189.00" y="720.30" width="24.00" height="1.00" fill="#4a4a4a" />
<rect x="308.00" y="721.00" width="4.50" height="1.00" fill="#5a5a5a" />
</g>
<clipPath id="clip367_626"><rect x="367" y="626" width="126" height="98"/></clipPath>
<g clip-path="url(#clip367_626)">
<rect x="367.00" y="626.00" width="126.00" height="98.00" fill="#ececec" />
<g transform="translate(365 622) scale(0.19268)"><g filter="url(#rough)">
<polygon points="10,20 662,20 662,95 560,105 480,125 460,150 400,160 330,165 250,155 150,145 75,125 10,90" fill="#ababab" />
<polygon points="45,22 100,22 160,50 205,78 190,84 130,60" fill="#dcdcdc" />
<polygon points="430,20 662,20 662,50 600,62 540,72 490,70 450,45" fill="#ececec" />
<polygon points="10,90 75,125 90,135 120,200 150,260 180,290 210,290 250,250 300,210 350,185 420,165 470,165 495,190 500,230 480,265 440,290 380,320 320,345 260,370 200,385 140,380 80,355 40,330 10,322" fill="#ababab" />
<ellipse cx="140" cy="322" rx="42" ry="22" fill="#ececec" transform="rotate(0 140 322)" />
<polygon points="10,462 100,425 200,405 300,385 400,362 500,335 580,310 662,285 662,470 560,480 470,495 430,529 10,529" fill="#a6a6a6" />
<ellipse cx="300" cy="455" rx="50" ry="45" fill="#b0b0b0" transform="rotate(0 300 455)" stroke="#888" stroke-width="4"/>
<ellipse cx="215" cy="470" rx="20" ry="18" fill="#333" transform="rotate(0 215 470)" />
<ellipse cx="365" cy="425" rx="15" ry="15" fill="#7a7a7a" transform="rotate(0 365 425)" />
<ellipse cx="100" cy="215" rx="6" ry="12" fill="#333" transform="rotate(0 100 215)" />
<ellipse cx="330" cy="40" rx="30" ry="20" fill="#555" transform="rotate(0 330 40)" />
<ellipse cx="15.5" cy="35.7" rx="3.9" ry="3.4" fill="#5a5a5a" transform="rotate(171 15.5 35.7)" />
<ellipse cx="250.8" cy="119.6" rx="3.0" ry="3.0" fill="#5a5a5a" transform="rotate(119 250.8 119.6)" />
<ellipse cx="71.5" cy="95.0" rx="4.1" ry="3.1" fill="#4a4a4a" transform="rotate(17 71.5 95.0)" />
<ellipse cx="191.3" cy="47.8" rx="3.7" ry="2.7" fill="#5a5a5a" transform="rotate(38 191.3 47.8)" />
<ellipse cx="107.6" cy="101.9" rx="4.4" ry="4.3" fill="#5a5a5a" transform="rotate(64 107.6 101.9)" />
<ellipse cx="455.0" cy="24.3" rx="5.1" ry="4.8" fill="#4a4a4a" transform="rotate(146 455.0 24.3)" />
<ellipse cx="103.5" cy="80.5" rx="3.8" ry="2.8" fill="#5a5a5a" transform="rotate(87 103.5 80.5)" />
<ellipse cx="128.5" cy="61.1" rx="4.5" ry="3.6" fill="#4a4a4a" transform="rotate(151 128.5 61.1)" />
<ellipse cx="457.1" cy="130.6" rx="3.6" ry="2.4" fill="#4a4a4a" transform="rotate(168 457.1 130.6)" />
<ellipse cx="387.2" cy="61.3" rx="3.1" ry="1.9" fill="#4a4a4a" transform="rotate(67 387.2 61.3)" />
<ellipse cx="440.7" cy="113.7" rx="3.5" ry="2.5" fill="#5a5a5a" transform="rotate(21 440.7 113.7)" />
<ellipse cx="101.2" cy="66.8" rx="3.9" ry="2.4" fill="#4a4a4a" transform="rotate(21 101.2 66.8)" />
<ellipse cx="63.7" cy="47.2" rx="3.7" ry="3.3" fill="#5a5a5a" transform="rotate(86 63.7 47.2)" />
<ellipse cx="234.2" cy="130.4" rx="3.5" ry="2.6" fill="#4a4a4a" transform="rotate(88 234.2 130.4)" />
<ellipse cx="275.8" cy="139.6" rx="4.2" ry="3.9" fill="#4a4a4a" transform="rotate(125 275.8 139.6)" />
<ellipse cx="447.9" cy="127.5" rx="3.4" ry="3.1" fill="#6a6a6a" transform="rotate(63 447.9 127.5)" />
<ellipse cx="18.5" cy="139.1" rx="4.2" ry="4.0" fill="#6a6a6a" transform="rotate(4 18.5 139.1)" />
<ellipse cx="14.2" cy="164.7" rx="4.3" ry="2.7" fill="#4a4a4a" transform="rotate(170 14.2 164.7)" />
<ellipse cx="107.0" cy="175.3" rx="3.0" ry="2.7" fill="#5a5a5a" transform="rotate(94 107.0 175.3)" />
<ellipse cx="63.4" cy="267.8" rx="3.8" ry="2.7" fill="#5a5a5a" transform="rotate(80 63.4 267.8)" />
<ellipse cx="67.8" cy="257.4" rx="4.8" ry="3.7" fill="#5a5a5a" transform="rotate(100 67.8 257.4)" />
<ellipse cx="34.9" cy="197.6" rx="5.9" ry="4.7" fill="#4a4a4a" transform="rotate(147 34.9 197.6)" />
<ellipse cx="91.2" cy="220.8" rx="5.3" ry="4.8" fill="#4a4a4a" transform="rotate(52 91.2 220.8)" />
<ellipse cx="41.7" cy="108.1" rx="5.7" ry="5.3" fill="#6a6a6a" transform="rotate(77 41.7 108.1)" />
<ellipse cx="17.7" cy="199.7" rx="6.3" ry="4.9" fill="#4a4a4a" transform="rotate(178 17.7 199.7)" />
<ellipse cx="38.6" cy="217.0" rx="3.6" ry="2.2" fill="#4a4a4a" transform="rotate(7 38.6 217.0)" />
<ellipse cx="104.9" cy="232.1" rx="5.1" ry="4.1" fill="#5a5a5a" transform="rotate(69 104.9 232.1)" />
<ellipse cx="73.9" cy="175.3" rx="6.3" ry="6.2" fill="#5a5a5a" transform="rotate(109 73.9 175.3)" />
<ellipse cx="505.3" cy="443.2" rx="4.5" ry="3.2" fill="#4a4a4a" transform="rotate(158 505.3 443.2)" />
<ellipse cx="491.8" cy="432.7" rx="4.9" ry="4.8" fill="#4a4a4a" transform="rotate(58 491.8 432.7)" />
<ellipse cx="547.3" cy="428.1" rx="3.2" ry="2.8" fill="#5a5a5a" transform="rotate(54 547.3 428.1)" />
<ellipse cx="411.3" cy="429.6" rx="2.6" ry="2.2" fill="#4a4a4a" transform="rotate(122 411.3 429.6)" />
<ellipse cx="593.5" cy="408.0" rx="3.3" ry="3.0" fill="#5a5a5a" transform="rotate(21 593.5 408.0)" />
<ellipse cx="320.2" cy="478.0" rx="3.2" ry="2.2" fill="#5a5a5a" transform="rotate(135 320.2 478.0)" />
<ellipse cx="344.3" cy="412.2" rx="3.1" ry="2.2" fill="#5a5a5a" transform="rotate(64 344.3 412.2)" />
<ellipse cx="537.1" cy="435.5" rx="3.5" ry="3.0" fill="#5a5a5a" transform="rotate(66 537.1 435.5)" />
<ellipse cx="525.9" cy="448.3" rx="4.6" ry="2.9" fill="#5a5a5a" transform="rotate(22 525.9 448.3)" />
<ellipse cx="414.0" cy="385.8" rx="3.2" ry="2.2" fill="#5a5a5a" transform="rotate(122 414.0 385.8)" />
</g></g>
<rect x="367" y="626" width="126" height="98" fill="#000" filter="url(#n2bd3)"/>
<rect x="367" y="626" width="126" height="98" fill="#000" filter="url(#n2bl3)"/>
<mask id="m367_626" maskUnits="userSpaceOnUse" x="367" y="626" width="126" height="98"><rect x="367" y="626" width="126" height="98" fill="#000"/><g transform="translate(365 622) scale(0.19268)"><g filter="url(#rough)">
<polygon points="10,20 662,20 662,95 560,105 480,125 460,150 400,160 330,165 250,155 150,145 75,125 10,90" fill="#fff" />
<polygon points="45,22 100,22 160,50 205,78 190,84 130,60" fill="#000" />
<polygon points="430,20 662,20 662,50 600,62 540,72 490,70 450,45" fill="#000" />
<polygon points="10,90 75,125 90,135 120,200 150,260 180,290 210,290 250,250 300,210 350,185 420,165 470,165 495,190 500,230 480,265 440,290 380,320 320,345 260,370 200,385 140,380 80,355 40,330 10,322" fill="#fff" />
<ellipse cx="140" cy="322" rx="42" ry="22" fill="#000" transform="rotate(0 140 322)" />
<polygon points="10,462 100,425 200,405 300,385 400,362 500,335 580,310 662,285 662,470 560,480 470,495 430,529 10,529" fill="#fff" />
<ellipse cx="300" cy="455" rx="50" ry="45" fill="#000" transform="rotate(0 300 455)" stroke="#000" stroke-width="4"/>
<ellipse cx="215" cy="470" rx="20" ry="18" fill="#000" transform="rotate(0 215 470)" />
<ellipse cx="365" cy="425" rx="15" ry="15" fill="#000" transform="rotate(0 365 425)" />
<ellipse cx="100" cy="215" rx="6" ry="12" fill="#000" transform="rotate(0 100 215)" />
<ellipse cx="330" cy="40" rx="30" ry="20" fill="#000" transform="rotate(0 330 40)" />
<ellipse cx="15.5" cy="35.7" rx="3.9" ry="3.4" fill="#000" transform="rotate(171 15.5 35.7)" />
<ellipse cx="250.8" cy="119.6" rx="3.0" ry="3.0" fill="#000" transform="rotate(119 250.8 119.6)" />
<ellipse cx="71.5" cy="95.0" rx="4.1" ry="3.1" fill="#000" transform="rotate(17 71.5 95.0)" />
<ellipse cx="191.3" cy="47.8" rx="3.7" ry="2.7" fill="#000" transform="rotate(38 191.3 47.8)" />
<ellipse cx="107.6" cy="101.9" rx="4.4" ry="4.3" fill="#000" transform="rotate(64 107.6 101.9)" />
<ellipse cx="455.0" cy="24.3" rx="5.1" ry="4.8" fill="#000" transform="rotate(146 455.0 24.3)" />
<ellipse cx="103.5" cy="80.5" rx="3.8" ry="2.8" fill="#000" transform="rotate(87 103.5 80.5)" />
<ellipse cx="128.5" cy="61.1" rx="4.5" ry="3.6" fill="#000" transform="rotate(151 128.5 61.1)" />
<ellipse cx="457.1" cy="130.6" rx="3.6" ry="2.4" fill="#000" transform="rotate(168 457.1 130.6)" />
<ellipse cx="387.2" cy="61.3" rx="3.1" ry="1.9" fill="#000" transform="rotate(67 387.2 61.3)" />
<ellipse cx="440.7" cy="113.7" rx="3.5" ry="2.5" fill="#000" transform="rotate(21 440.7 113.7)" />
<ellipse cx="101.2" cy="66.8" rx="3.9" ry="2.4" fill="#000" transform="rotate(21 101.2 66.8)" />
<ellipse cx="63.7" cy="47.2" rx="3.7" ry="3.3" fill="#000" transform="rotate(86 63.7 47.2)" />
<ellipse cx="234.2" cy="130.4" rx="3.5" ry="2.6" fill="#000" transform="rotate(88 234.2 130.4)" />
<ellipse cx="275.8" cy="139.6" rx="4.2" ry="3.9" fill="#000" transform="rotate(125 275.8 139.6)" />
<ellipse cx="447.9" cy="127.5" rx="3.4" ry="3.1" fill="#000" transform="rotate(63 447.9 127.5)" />
<ellipse cx="18.5" cy="139.1" rx="4.2" ry="4.0" fill="#000" transform="rotate(4 18.5 139.1)" />
<ellipse cx="14.2" cy="164.7" rx="4.3" ry="2.7" fill="#000" transform="rotate(170 14.2 164.7)" />
<ellipse cx="107.0" cy="175.3" rx="3.0" ry="2.7" fill="#000" transform="rotate(94 107.0 175.3)" />
<ellipse cx="63.4" cy="267.8" rx="3.8" ry="2.7" fill="#000" transform="rotate(80 63.4 267.8)" />
<ellipse cx="67.8" cy="257.4" rx="4.8" ry="3.7" fill="#000" transform="rotate(100 67.8 257.4)" />
<ellipse cx="34.9" cy="197.6" rx="5.9" ry="4.7" fill="#000" transform="rotate(147 34.9 197.6)" />
<ellipse cx="91.2" cy="220.8" rx="5.3" ry="4.8" fill="#000" transform="rotate(52 91.2 220.8)" />
<ellipse cx="41.7" cy="108.1" rx="5.7" ry="5.3" fill="#000" transform="rotate(77 41.7 108.1)" />
<ellipse cx="17.7" cy="199.7" rx="6.3" ry="4.9" fill="#000" transform="rotate(178 17.7 199.7)" />
<ellipse cx="38.6" cy="217.0" rx="3.6" ry="2.2" fill="#000" transform="rotate(7 38.6 217.0)" />
<ellipse cx="104.9" cy="232.1" rx="5.1" ry="4.1" fill="#000" transform="rotate(69 104.9 232.1)" />
<ellipse cx="73.9" cy="175.3" rx="6.3" ry="6.2" fill="#000" transform="rotate(109 73.9 175.3)" />
<ellipse cx="505.3" cy="443.2" rx="4.5" ry="3.2" fill="#000" transform="rotate(158 505.3 443.2)" />
<ellipse cx="491.8" cy="432.7" rx="4.9" ry="4.8" fill="#000" transform="rotate(58 491.8 432.7)" />
<ellipse cx="547.3" cy="428.1" rx="3.2" ry="2.8" fill="#000" transform="rotate(54 547.3 428.1)" />
<ellipse cx="411.3" cy="429.6" rx="2.6" ry="2.2" fill="#000" transform="rotate(122 411.3 429.6)" />
<ellipse cx="593.5" cy="408.0" rx="3.3" ry="3.0" fill="#000" transform="rotate(21 593.5 408.0)" />
<ellipse cx="320.2" cy="478.0" rx="3.2" ry="2.2" fill="#000" transform="rotate(135 320.2 478.0)" />
<ellipse cx="344.3" cy="412.2" rx="3.1" ry="2.2" fill="#000" transform="rotate(64 344.3 412.2)" />
<ellipse cx="537.1" cy="435.5" rx="3.5" ry="3.0" fill="#000" transform="rotate(66 537.1 435.5)" />
<ellipse cx="525.9" cy="448.3" rx="4.6" ry="2.9" fill="#000" transform="rotate(22 525.9 448.3)" />
<ellipse cx="414.0" cy="385.8" rx="3.2" ry="2.2" fill="#000" transform="rotate(122 414.0 385.8)" />
</g></g></mask>
<rect x="367" y="626" width="126" height="98" fill="#000" mask="url(#m367_626)" filter="url(#n2fd3)"/>
<rect x="367" y="626" width="126" height="98" fill="#000" mask="url(#m367_626)" filter="url(#n2fl3)"/>
<g transform="translate(365 622) scale(0.19268)">
<line x1="525" y1="345" x2="444.9" y2="254.5" stroke="#000" stroke-width="5"/>
<polygon points="425,232 453.1,247.2 436.6,261.8" fill="#000"/>
</g>
<rect x="367.00" y="719.70" width="126.00" height="4.30" fill="#050505" />
<rect x="368.00" y="720.30" width="24.00" height="1.00" fill="#4a4a4a" />
<rect x="487.00" y="721.00" width="4.50" height="1.00" fill="#5a5a5a" />
</g>
<clipPath id="clip497_626"><rect x="497" y="626" width="126" height="98"/></clipPath>
<g clip-path="url(#clip497_626)">
<rect x="497.00" y="626.00" width="126.00" height="98.00" fill="#ececec" />
<g transform="translate(495 622) scale(0.19268)"><g filter="url(#rough)">
<polygon points="10,395 70,360 130,325 240,252 380,176 500,110 600,55 652,32 662,42 662,90 620,122 560,172 480,250 400,310 280,380 160,450 60,500 10,515" fill="#ababab" />
<polygon points="10,378 60,340 100,310 118,314 80,352 40,392 10,412" fill="#a8a8a8" />
<path d="M140,505 C220,460 330,420 420,400 C480,390 520,395 540,425 C550,455 535,480 525,500" fill="none" stroke="#a0a0a0" stroke-width="36"/>
<ellipse cx="300" cy="440" rx="22" ry="18" fill="#888" transform="rotate(0 300 440)" />
<ellipse cx="395" cy="415" rx="25" ry="15" fill="#8a8a8a" transform="rotate(0 395 415)" />
<ellipse cx="160" cy="365" rx="25" ry="15" fill="#7a7a7a" transform="rotate(-30 160 365)" />
<ellipse cx="280" cy="300" rx="12" ry="8" fill="#555" transform="rotate(-30 280 300)" />
<ellipse cx="600" cy="80" rx="30" ry="12" fill="#888" transform="rotate(-30 600 80)" />
<ellipse cx="318.1" cy="306.7" rx="4.5" ry="4.0" fill="#4a4a4a" transform="rotate(50 318.1 306.7)" />
<ellipse cx="659.1" cy="65.0" rx="5.8" ry="5.8" fill="#4a4a4a" transform="rotate(57 659.1 65.0)" />
<ellipse cx="355.6" cy="246.6" rx="4.5" ry="2.9" fill="#4a4a4a" transform="rotate(6 355.6 246.6)" />
<ellipse cx="338.5" cy="256.1" rx="5.1" ry="3.3" fill="#4a4a4a" transform="rotate(3 338.5 256.1)" />
<ellipse cx="619.3" cy="108.0" rx="3.4" ry="2.4" fill="#5a5a5a" transform="rotate(109 619.3 108.0)" />
<ellipse cx="324.7" cy="299.7" rx="5.5" ry="3.9" fill="#5a5a5a" transform="rotate(19 324.7 299.7)" />
<ellipse cx="281.9" cy="315.3" rx="3.9" ry="3.2" fill="#6a6a6a" transform="rotate(97 281.9 315.3)" />
<ellipse cx="558.1" cy="89.5" rx="4.8" ry="3.1" fill="#6a6a6a" transform="rotate(118 558.1 89.5)" />
<ellipse cx="421.5" cy="289.1" rx="5.9" ry="4.1" fill="#6a6a6a" transform="rotate(65 421.5 289.1)" />
<ellipse cx="438.5" cy="254.9" rx="5.3" ry="3.3" fill="#4a4a4a" transform="rotate(50 438.5 254.9)" />
<ellipse cx="336.7" cy="245.3" rx="3.5" ry="3.3" fill="#6a6a6a" transform="rotate(145 336.7 245.3)" />
<ellipse cx="505.3" cy="193.1" rx="2.9" ry="2.2" fill="#4a4a4a" transform="rotate(21 505.3 193.1)" />
<ellipse cx="460.3" cy="235.4" rx="3.1" ry="2.8" fill="#5a5a5a" transform="rotate(8 460.3 235.4)" />
<ellipse cx="300.4" cy="250.8" rx="4.7" ry="3.6" fill="#6a6a6a" transform="rotate(144 300.4 250.8)" />
<ellipse cx="533.5" cy="124.5" rx="4.3" ry="3.6" fill="#5a5a5a" transform="rotate(87 533.5 124.5)" />
<ellipse cx="483.4" cy="161.3" rx="4.6" ry="4.6" fill="#4a4a4a" transform="rotate(96 483.4 161.3)" />
<ellipse cx="419.1" cy="194.6" rx="5.7" ry="4.8" fill="#6a6a6a" transform="rotate(156 419.1 194.6)" />
<ellipse cx="340.9" cy="295.7" rx="4.3" ry="2.8" fill="#4a4a4a" transform="rotate(106 340.9 295.7)" />
<ellipse cx="478.3" cy="201.9" rx="3.4" ry="3.0" fill="#5a5a5a" transform="rotate(95 478.3 201.9)" />
<ellipse cx="450.7" cy="213.3" rx="5.0" ry="3.4" fill="#5a5a5a" transform="rotate(50 450.7 213.3)" />
<ellipse cx="285.8" cy="237.9" rx="5.8" ry="5.4" fill="#5a5a5a" transform="rotate(128 285.8 237.9)" />
<ellipse cx="277.4" cy="285.5" rx="6.0" ry="5.2" fill="#4a4a4a" transform="rotate(67 277.4 285.5)" />
<ellipse cx="575.9" cy="83.0" rx="3.8" ry="2.8" fill="#6a6a6a" transform="rotate(31 575.9 83.0)" />
<ellipse cx="593.1" cy="112.6" rx="5.7" ry="5.6" fill="#4a4a4a" transform="rotate(21 593.1 112.6)" />
<ellipse cx="271.7" cy="284.6" rx="3.6" ry="2.6" fill="#6a6a6a" transform="rotate(49 271.7 284.6)" />
<ellipse cx="287.9" cy="288.3" rx="6.0" ry="4.3" fill="#6a6a6a" transform="rotate(158 287.9 288.3)" />
<ellipse cx="474.4" cy="254.1" rx="3.8" ry="3.7" fill="#6a6a6a" transform="rotate(167 474.4 254.1)" />
<ellipse cx="434.6" cy="236.9" rx="2.6" ry="1.8" fill="#6a6a6a" transform="rotate(110 434.6 236.9)" />
</g></g>
<rect x="497" y="626" width="126" height="98" fill="#000" filter="url(#n2bd4)"/>
<rect x="497" y="626" width="126" height="98" fill="#000" filter="url(#n2bl4)"/>
<mask id="m497_626" maskUnits="userSpaceOnUse" x="497" y="626" width="126" height="98"><rect x="497" y="626" width="126" height="98" fill="#000"/><g transform="translate(495 622) scale(0.19268)"><g filter="url(#rough)">
<polygon points="10,395 70,360 130,325 240,252 380,176 500,110 600,55 652,32 662,42 662,90 620,122 560,172 480,250 400,310 280,380 160,450 60,500 10,515" fill="#fff" />
<polygon points="10,378 60,340 100,310 118,314 80,352 40,392 10,412" fill="#fff" />
<path d="M140,505 C220,460 330,420 420,400 C480,390 520,395 540,425 C550,455 535,480 525,500" fill="none" stroke="#fff" stroke-width="36"/>
<ellipse cx="300" cy="440" rx="22" ry="18" fill="#000" transform="rotate(0 300 440)" />
<ellipse cx="395" cy="415" rx="25" ry="15" fill="#000" transform="rotate(0 395 415)" />
<ellipse cx="160" cy="365" rx="25" ry="15" fill="#000" transform="rotate(-30 160 365)" />
<ellipse cx="280" cy="300" rx="12" ry="8" fill="#000" transform="rotate(-30 280 300)" />
<ellipse cx="600" cy="80" rx="30" ry="12" fill="#000" transform="rotate(-30 600 80)" />
<ellipse cx="318.1" cy="306.7" rx="4.5" ry="4.0" fill="#000" transform="rotate(50 318.1 306.7)" />
<ellipse cx="659.1" cy="65.0" rx="5.8" ry="5.8" fill="#000" transform="rotate(57 659.1 65.0)" />
<ellipse cx="355.6" cy="246.6" rx="4.5" ry="2.9" fill="#000" transform="rotate(6 355.6 246.6)" />
<ellipse cx="338.5" cy="256.1" rx="5.1" ry="3.3" fill="#000" transform="rotate(3 338.5 256.1)" />
<ellipse cx="619.3" cy="108.0" rx="3.4" ry="2.4" fill="#000" transform="rotate(109 619.3 108.0)" />
<ellipse cx="324.7" cy="299.7" rx="5.5" ry="3.9" fill="#000" transform="rotate(19 324.7 299.7)" />
<ellipse cx="281.9" cy="315.3" rx="3.9" ry="3.2" fill="#000" transform="rotate(97 281.9 315.3)" />
<ellipse cx="558.1" cy="89.5" rx="4.8" ry="3.1" fill="#000" transform="rotate(118 558.1 89.5)" />
<ellipse cx="421.5" cy="289.1" rx="5.9" ry="4.1" fill="#000" transform="rotate(65 421.5 289.1)" />
<ellipse cx="438.5" cy="254.9" rx="5.3" ry="3.3" fill="#000" transform="rotate(50 438.5 254.9)" />
<ellipse cx="336.7" cy="245.3" rx="3.5" ry="3.3" fill="#000" transform="rotate(145 336.7 245.3)" />
<ellipse cx="505.3" cy="193.1" rx="2.9" ry="2.2" fill="#000" transform="rotate(21 505.3 193.1)" />
<ellipse cx="460.3" cy="235.4" rx="3.1" ry="2.8" fill="#000" transform="rotate(8 460.3 235.4)" />
<ellipse cx="300.4" cy="250.8" rx="4.7" ry="3.6" fill="#000" transform="rotate(144 300.4 250.8)" />
<ellipse cx="533.5" cy="124.5" rx="4.3" ry="3.6" fill="#000" transform="rotate(87 533.5 124.5)" />
<ellipse cx="483.4" cy="161.3" rx="4.6" ry="4.6" fill="#000" transform="rotate(96 483.4 161.3)" />
<ellipse cx="419.1" cy="194.6" rx="5.7" ry="4.8" fill="#000" transform="rotate(156 419.1 194.6)" />
<ellipse cx="340.9" cy="295.7" rx="4.3" ry="2.8" fill="#000" transform="rotate(106 340.9 295.7)" />
<ellipse cx="478.3" cy="201.9" rx="3.4" ry="3.0" fill="#000" transform="rotate(95 478.3 201.9)" />
<ellipse cx="450.7" cy="213.3" rx="5.0" ry="3.4" fill="#000" transform="rotate(50 450.7 213.3)" />
<ellipse cx="285.8" cy="237.9" rx="5.8" ry="5.4" fill="#000" transform="rotate(128 285.8 237.9)" />
<ellipse cx="277.4" cy="285.5" rx="6.0" ry="5.2" fill="#000" transform="rotate(67 277.4 285.5)" />
<ellipse cx="575.9" cy="83.0" rx="3.8" ry="2.8" fill="#000" transform="rotate(31 575.9 83.0)" />
<ellipse cx="593.1" cy="112.6" rx="5.7" ry="5.6" fill="#000" transform="rotate(21 593.1 112.6)" />
<ellipse cx="271.7" cy="284.6" rx="3.6" ry="2.6" fill="#000" transform="rotate(49 271.7 284.6)" />
<ellipse cx="287.9" cy="288.3" rx="6.0" ry="4.3" fill="#000" transform="rotate(158 287.9 288.3)" />
<ellipse cx="474.4" cy="254.1" rx="3.8" ry="3.7" fill="#000" transform="rotate(167 474.4 254.1)" />
<ellipse cx="434.6" cy="236.9" rx="2.6" ry="1.8" fill="#000" transform="rotate(110 434.6 236.9)" />
</g></g></mask>
<rect x="497" y="626" width="126" height="98" fill="#000" mask="url(#m497_626)" filter="url(#n2fd4)"/>
<rect x="497" y="626" width="126" height="98" fill="#000" mask="url(#m497_626)" filter="url(#n2fl4)"/>
<g transform="translate(495 622) scale(0.19268)">
<line x1="552" y1="290" x2="472.5" y2="219.8" stroke="#000" stroke-width="5"/>
<polygon points="450,200 479.8,211.6 465.2,228.1" fill="#000"/>
</g>
<rect x="497.00" y="719.70" width="126.00" height="4.30" fill="#050505" />
<rect x="498.00" y="720.30" width="24.00" height="1.00" fill="#4a4a4a" />
<rect x="617.00" y="721.00" width="4.50" height="1.00" fill="#5a5a5a" />
</g>
<clipPath id="clip57_727"><rect x="57" y="727" width="126" height="98"/></clipPath>
<g clip-path="url(#clip57_727)">
<rect x="57.00" y="727.00" width="126.00" height="98.00" fill="#b2b2b2" />
<g transform="translate(55 724) scale(0.19268)"><g filter="url(#soft)">
<polygon points="10,15 140,15 130,90 80,130 10,120" fill="#a8a8a8" />
<polygon points="10,350 45,340 70,380 60,440 30,470 10,460" fill="#d2d2d2" />
<ellipse cx="250" cy="140" rx="46" ry="28" fill="#8c8c8c" transform="rotate(10 250 140)" stroke="#6a6a6a" stroke-width="7"/>
<ellipse cx="357" cy="150" rx="50" ry="40" fill="#8c8c8c" transform="rotate(0 357 150)" stroke="#6a6a6a" stroke-width="7"/>
<ellipse cx="455" cy="190" rx="36" ry="30" fill="#8c8c8c" transform="rotate(0 455 190)" stroke="#6a6a6a" stroke-width="7"/>
<ellipse cx="226" cy="342" rx="76" ry="48" fill="#8c8c8c" transform="rotate(0 226 342)" stroke="#6a6a6a" stroke-width="7"/>
<ellipse cx="375" cy="425" rx="32" ry="24" fill="#999" transform="rotate(0 375 425)" />
<polygon points="540,280 600,320 650,420 640,430 590,340 535,295" fill="#a0a0a0" />
<polygon points="590,265 625,268 625,277 590,276" fill="#111" />
</g></g>
<rect x="57" y="727" width="126" height="98" fill="#000" filter="url(#n20d5)"/>
<rect x="57" y="727" width="126" height="98" fill="#000" filter="url(#n20l5)"/>
<g transform="translate(55 724) scale(0.19268)">
<line x1="565" y1="282" x2="504.9" y2="225.5" stroke="#000" stroke-width="5"/>
<polygon points="483,205 512.4,217.5 497.3,233.6" fill="#000"/>
<line x1="465" y1="410" x2="333.9" y2="373.1" stroke="#000" stroke-width="5"/>
<polygon points="305,365 336.9,362.5 330.9,383.7" fill="#000"/>
</g>
<rect x="57.00" y="820.70" width="126.00" height="4.30" fill="#050505" />
<rect x="58.00" y="821.30" width="24.00" height="1.00" fill="#4a4a4a" />
<rect x="177.00" y="822.00" width="4.50" height="1.00" fill="#5a5a5a" />
</g>
<clipPath id="clip188_727"><rect x="188" y="727" width="126" height="98"/></clipPath>
<g clip-path="url(#clip188_727)">
<rect x="188.00" y="727.00" width="126.00" height="98.00" fill="#b4b4b4" />
<g transform="translate(186 724) scale(0.19268)"><g filter="url(#soft)">
<polygon points="10,280 120,300 200,380 210,500 10,520" fill="#afafaf" />
<polygon points="220,120 262,78 322,80 372,130 392,200 402,250 442,300 482,350 492,410 462,447 402,447 332,402 282,322 242,242 220,180" fill="#959595" stroke="#6a6a6a" stroke-width="7"/>
<polygon points="600,12 668,12 668,85" fill="#f4f4f4" />
</g></g>
<rect x="188" y="727" width="126" height="98" fill="#000" filter="url(#n20d6)"/>
<rect x="188" y="727" width="126" height="98" fill="#000" filter="url(#n20l6)"/>
<g transform="translate(186 724) scale(0.19268)">
<line x1="548" y1="135" x2="440.3" y2="203.8" stroke="#000" stroke-width="5"/>
<polygon points="415,220 434.4,194.6 446.2,213.1" fill="#000"/>
</g>
<rect x="188.00" y="820.70" width="126.00" height="4.30" fill="#050505" />
<rect x="189.00" y="821.30" width="24.00" height="1.00" fill="#4a4a4a" />
<rect x="308.00" y="822.00" width="4.50" height="1.00" fill="#5a5a5a" />
</g>
<clipPath id="clip367_727"><rect x="367" y="727" width="126" height="98"/></clipPath>
<g clip-path="url(#clip367_727)">
<rect x="367.00" y="727.00" width="126.00" height="98.00" fill="#b6b6b6" />
<g transform="translate(365 724) scale(0.19268)"><g filter="url(#soft)">
<ellipse cx="292" cy="125" rx="45" ry="42" fill="#8c8c8c" transform="rotate(0 292 125)" stroke="#6a6a6a" stroke-width="7"/>
<ellipse cx="420" cy="165" rx="36" ry="48" fill="#8c8c8c" transform="rotate(-12 420 165)" stroke="#6a6a6a" stroke-width="7"/>
<ellipse cx="180" cy="235" rx="52" ry="66" fill="#8c8c8c" transform="rotate(-15 180 235)" stroke="#6a6a6a" stroke-width="7"/>
<ellipse cx="285" cy="330" rx="44" ry="80" fill="#8c8c8c" transform="rotate(-5 285 330)" stroke="#6a6a6a" stroke-width="7"/>
<ellipse cx="487" cy="420" rx="36" ry="40" fill="#979797" transform="rotate(0 487 420)" stroke="#6a6a6a" stroke-width="7"/>
<path d="M10,420 C40,440 70,470 95,505" fill="none" stroke="#444" stroke-width="6"/>
</g></g>
<rect x="367" y="727" width="126" height="98" fill="#000" filter="url(#n20d7)"/>
<rect x="367" y="727" width="126" height="98" fill="#000" filter="url(#n20l7)"/>
<g transform="translate(365 724) scale(0.19268)">
<line x1="608" y1="205" x2="504.7" y2="189.5" stroke="#000" stroke-width="5"/>
<polygon points="475,185 506.3,178.6 503.0,200.3" fill="#000"/>
<line x1="565" y1="330" x2="359.8" y2="303.8" stroke="#000" stroke-width="5"/>
<polygon points="330,300 361.2,292.9 358.4,314.7" fill="#000"/>
</g>
<rect x="367.00" y="820.70" width="126.00" height="4.30" fill="#050505" />
<rect x="368.00" y="821.30" width="24.00" height="1.00" fill="#4a4a4a" />
<rect x="487.00" y="822.00" width="4.50" height="1.00" fill="#5a5a5a" />
</g>
<clipPath id="clip497_727"><rect x="497" y="727" width="126" height="98"/></clipPath>
<g clip-path="url(#clip497_727)">
<rect x="497.00" y="727.00" width="126.00" height="98.00" fill="#b6b6b6" />
<g transform="translate(495 724) scale(0.19268)"><g filter="url(#soft)">
<ellipse cx="60" cy="130" rx="42" ry="35" fill="#9c9c9c" transform="rotate(0 60 130)" />
<ellipse cx="82" cy="262" rx="40" ry="38" fill="#868686" transform="rotate(0 82 262)" />
<ellipse cx="375" cy="150" rx="55" ry="36" fill="#9c9c9c" transform="rotate(0 375 150)" />
<ellipse cx="470" cy="255" rx="50" ry="36" fill="#a4a4a4" transform="rotate(0 470 255)" />
<ellipse cx="455" cy="375" rx="45" ry="30" fill="#9c9c9c" transform="rotate(0 455 375)" />
<ellipse cx="322" cy="462" rx="35" ry="36" fill="#868686" transform="rotate(0 322 462)" />
<ellipse cx="240" cy="272" rx="125" ry="40" fill="#8e8e8e" transform="rotate(-57 240 272)" stroke="#6a6a6a" stroke-width="7"/>
<polygon points="368,322 410,248 442,288 448,322 400,342" fill="#efefef" />
<ellipse cx="422" cy="212" rx="12" ry="10" fill="#ececec" transform="rotate(0 422 212)" />
<ellipse cx="190" cy="75" rx="8" ry="8" fill="#ececec" transform="rotate(0 190 75)" />
</g></g>
<rect x="497" y="727" width="126" height="98" fill="#000" filter="url(#n20d8)"/>
<rect x="497" y="727" width="126" height="98" fill="#000" filter="url(#n20l8)"/>
<g transform="translate(495 724) scale(0.19268)">
<line x1="462" y1="335" x2="327.7" y2="278.6" stroke="#000" stroke-width="5"/>
<polygon points="300,267 331.9,268.5 323.4,288.8" fill="#000"/>
</g>
<rect x="497.00" y="820.70" width="126.00" height="4.30" fill="#050505" />
<rect x="498.00" y="821.30" width="24.00" height="1.00" fill="#4a4a4a" />
<rect x="617.00" y="822.00" width="4.50" height="1.00" fill="#5a5a5a" />
</g>
<text x="107.90" y="620.00" font-size="8.78" text-anchor="start" fill="#1a1a1a" textLength="22.20" lengthAdjust="spacingAndGlyphs" stroke="#1a1a1a" stroke-width="0.22">si-Ctrl</text>
<text x="231.70" y="620.00" font-size="8.78" text-anchor="start" fill="#1a1a1a" textLength="24.50" lengthAdjust="spacingAndGlyphs" stroke="#1a1a1a" stroke-width="0.22">si-SPI1</text>
<text x="414.90" y="620.20" font-size="8.78" text-anchor="start" fill="#1a1a1a" textLength="22.20" lengthAdjust="spacingAndGlyphs" stroke="#1a1a1a" stroke-width="0.22">si-Ctrl</text>
<text x="538.80" y="620.00" font-size="8.78" text-anchor="start" fill="#1a1a1a" textLength="24.50" lengthAdjust="spacingAndGlyphs" stroke="#1a1a1a" stroke-width="0.22">si-SPI1</text>
<text x="326.80" y="683.60" font-size="8.78" text-anchor="start" fill="#1a1a1a" textLength="14.20" lengthAdjust="spacingAndGlyphs" stroke="#1a1a1a" stroke-width="0.15">x2K</text>
<text x="326.80" y="779.20" font-size="8.78" text-anchor="start" fill="#1a1a1a" textLength="20.50" lengthAdjust="spacingAndGlyphs" stroke="#1a1a1a" stroke-width="0.15">x 20k</text>
<text x="634.60" y="683.60" font-size="8.78" text-anchor="start" fill="#1a1a1a" textLength="14.30" lengthAdjust="spacingAndGlyphs" stroke="#1a1a1a" stroke-width="0.15">x2K</text>
<text x="634.60" y="779.20" font-size="8.78" text-anchor="start" fill="#1a1a1a" textLength="20.40" lengthAdjust="spacingAndGlyphs" stroke="#1a1a1a" stroke-width="0.15">x 20k</text>
<text x="170.90" y="838.60" font-size="11.39" text-anchor="start" fill="#1a1a1a" textLength="28.30" lengthAdjust="spacingAndGlyphs" stroke="#1a1a1a" stroke-width="0.2">786-O</text>
<text x="479.20" y="838.60" font-size="11.39" text-anchor="start" fill="#1a1a1a" textLength="27.60" lengthAdjust="spacingAndGlyphs" stroke="#1a1a1a" stroke-width="0.2">ACHN</text>
</svg></body></html>
